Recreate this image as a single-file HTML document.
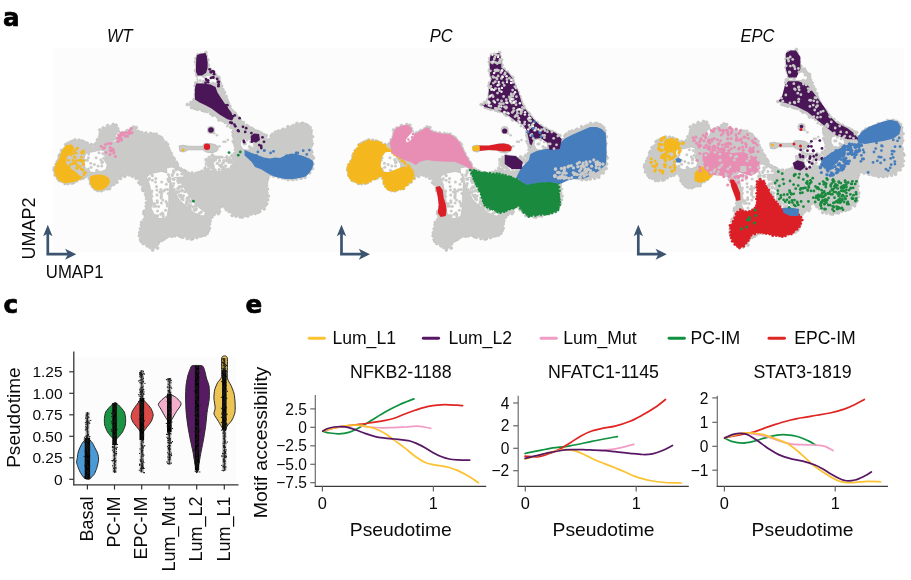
<!DOCTYPE html>
<html><head><meta charset="utf-8"><title>Figure</title>
<style>
html,body{margin:0;padding:0;background:#fff;}
body{width:911px;height:580px;overflow:hidden;}
svg{display:block;}
text{font-family:"Liberation Sans",Arial,sans-serif;fill:#0a0a0a;}
</style></head><body>
<svg width="911" height="580" viewBox="0 0 911 580">
<rect x="0" y="0" width="911" height="580" fill="#fff"/>
<rect x="53.3" y="48.1" width="850.6" height="203.8" fill="#fcfcfc"/>
<defs><g id="ub"><g fill="#cacac8" stroke="#b9b9b7" stroke-width="0.5"><circle cx="75" cy="139.9" r="1.5"/><circle cx="79" cy="140.2" r="1.5"/><circle cx="82.3" cy="141" r="1.5"/><circle cx="84.3" cy="142.3" r="1.5"/><circle cx="87.1" cy="143.2" r="1.5"/><circle cx="91.2" cy="144.6" r="1.5"/><circle cx="93.9" cy="148.6" r="1.5"/><circle cx="94.4" cy="144.9" r="1.5"/><circle cx="96.2" cy="143.3" r="1.5"/><circle cx="97.5" cy="139.7" r="1.5"/><circle cx="99.6" cy="136.4" r="1.5"/><circle cx="100.2" cy="133.5" r="1.5"/><circle cx="99.8" cy="129.9" r="1.5"/><circle cx="103.2" cy="127.9" r="1.5"/><circle cx="107.7" cy="125.6" r="1.5"/><circle cx="113.1" cy="124.5" r="1.5"/><circle cx="116.1" cy="125.2" r="1.5"/><circle cx="117.6" cy="128.5" r="1.5"/><circle cx="118.3" cy="131.2" r="1.5"/><circle cx="119.7" cy="134.1" r="1.5"/><circle cx="122.9" cy="132.7" r="1.5"/><circle cx="125.8" cy="132.1" r="1.5"/><circle cx="127.2" cy="130.6" r="1.5"/><circle cx="131" cy="128.8" r="1.5"/><circle cx="133.4" cy="126.9" r="1.5"/><circle cx="136.2" cy="127.6" r="1.5"/><circle cx="137.4" cy="131.4" r="1.5"/><circle cx="138.7" cy="131.7" r="1.5"/><circle cx="141.7" cy="132.6" r="1.5"/><circle cx="145.9" cy="133" r="1.5"/><circle cx="150.6" cy="133.5" r="1.5"/><circle cx="153.4" cy="134.2" r="1.5"/><circle cx="156.3" cy="134.2" r="1.5"/><circle cx="159.3" cy="136.6" r="1.5"/><circle cx="161.4" cy="137.7" r="1.5"/><circle cx="162.7" cy="139.8" r="1.5"/><circle cx="165.7" cy="142.4" r="1.5"/><circle cx="167.6" cy="144.4" r="1.5"/><circle cx="168.4" cy="148.1" r="1.5"/><circle cx="169.4" cy="150.8" r="1.5"/><circle cx="171.2" cy="153.4" r="1.5"/><circle cx="172.5" cy="157" r="1.5"/><circle cx="174.2" cy="158.8" r="1.5"/><circle cx="176.2" cy="162.3" r="1.5"/><circle cx="177.3" cy="164.2" r="1.5"/><circle cx="181.1" cy="169.1" r="1.5"/><circle cx="184.1" cy="170.6" r="1.5"/><circle cx="185.8" cy="171.5" r="1.5"/><circle cx="188.6" cy="173.3" r="1.5"/><circle cx="192.1" cy="173.1" r="1.5"/><circle cx="196.1" cy="173.3" r="1.5"/><circle cx="198.8" cy="172.6" r="1.5"/><circle cx="201.9" cy="171.2" r="1.5"/><circle cx="205.1" cy="168.4" r="1.5"/><circle cx="206.7" cy="165.4" r="1.5"/><circle cx="208.7" cy="162.3" r="1.5"/><circle cx="210.1" cy="159.2" r="1.5"/><circle cx="212.4" cy="155.3" r="1.5"/><circle cx="216.6" cy="157.4" r="1.5"/><circle cx="221" cy="158.6" r="1.5"/><circle cx="224.8" cy="158.8" r="1.5"/><circle cx="229.4" cy="158.2" r="1.5"/><circle cx="231.9" cy="155.4" r="1.5"/><circle cx="234.7" cy="153.6" r="1.5"/><circle cx="235.4" cy="149.8" r="1.5"/><circle cx="235.4" cy="146.3" r="1.5"/><circle cx="234.5" cy="143.6" r="1.5"/><circle cx="233.3" cy="141.3" r="1.5"/><circle cx="234" cy="137.5" r="1.5"/><circle cx="233.2" cy="135.3" r="1.5"/><circle cx="233.1" cy="132.3" r="1.5"/><circle cx="233.6" cy="131.1" r="1.5"/><circle cx="230.9" cy="127.3" r="1.5"/><circle cx="228.3" cy="123.7" r="1.5"/><circle cx="225.2" cy="122.2" r="1.5"/><circle cx="222.5" cy="120.4" r="1.5"/><circle cx="219" cy="119.9" r="1.5"/><circle cx="217.5" cy="116.9" r="1.5"/><circle cx="215.3" cy="114.9" r="1.5"/><circle cx="212.6" cy="115.2" r="1.5"/><circle cx="210.6" cy="113.4" r="1.5"/><circle cx="207" cy="111.6" r="1.5"/><circle cx="204.3" cy="110.9" r="1.5"/><circle cx="202.1" cy="110.2" r="1.5"/><circle cx="199" cy="108.7" r="1.5"/><circle cx="197" cy="109.2" r="1.5"/><circle cx="194.3" cy="108.2" r="1.5"/><circle cx="191.5" cy="107.4" r="1.5"/><circle cx="187.4" cy="104.5" r="1.5"/><circle cx="190.9" cy="102.4" r="1.5"/><circle cx="193.7" cy="101.5" r="1.5"/><circle cx="194.2" cy="99.3" r="1.5"/><circle cx="195.5" cy="96.1" r="1.5"/><circle cx="195.6" cy="94.1" r="1.5"/><circle cx="196" cy="89.5" r="1.5"/><circle cx="195.2" cy="85.8" r="1.5"/><circle cx="195.8" cy="82.9" r="1.5"/><circle cx="198.2" cy="79.6" r="1.5"/><circle cx="197" cy="75.6" r="1.5"/><circle cx="196.6" cy="73.4" r="1.5"/><circle cx="195.6" cy="70.6" r="1.5"/><circle cx="196.8" cy="68.1" r="1.5"/><circle cx="196.4" cy="65" r="1.5"/><circle cx="195.6" cy="61.9" r="1.5"/><circle cx="196" cy="58.4" r="1.5"/><circle cx="197.8" cy="54.9" r="1.5"/><circle cx="200.4" cy="54.4" r="1.5"/><circle cx="205.9" cy="52.5" r="1.5"/><circle cx="206.3" cy="55.9" r="1.5"/><circle cx="207.9" cy="59.8" r="1.5"/><circle cx="207" cy="62.6" r="1.5"/><circle cx="208.4" cy="65.2" r="1.5"/><circle cx="207.4" cy="67.9" r="1.5"/><circle cx="210.4" cy="69.2" r="1.5"/><circle cx="213.8" cy="72" r="1.5"/><circle cx="215" cy="74.2" r="1.5"/><circle cx="216.6" cy="76.3" r="1.5"/><circle cx="219" cy="77.5" r="1.5"/><circle cx="219.1" cy="80.2" r="1.5"/><circle cx="220.1" cy="83.1" r="1.5"/><circle cx="221.6" cy="85.9" r="1.5"/><circle cx="222.9" cy="89.7" r="1.5"/><circle cx="224.5" cy="92.4" r="1.5"/><circle cx="226.1" cy="96.6" r="1.5"/><circle cx="226.7" cy="99.5" r="1.5"/><circle cx="227.6" cy="101.7" r="1.5"/><circle cx="228.4" cy="103.7" r="1.5"/><circle cx="229.8" cy="106.2" r="1.5"/><circle cx="230.7" cy="109.3" r="1.5"/><circle cx="232.5" cy="111" r="1.5"/><circle cx="235" cy="113.1" r="1.5"/><circle cx="236.1" cy="115" r="1.5"/><circle cx="238.1" cy="117.5" r="1.5"/><circle cx="240.4" cy="120.6" r="1.5"/><circle cx="243.4" cy="122.6" r="1.5"/><circle cx="247" cy="125.5" r="1.5"/><circle cx="249" cy="127.3" r="1.5"/><circle cx="251.8" cy="128.3" r="1.5"/><circle cx="253.6" cy="129.8" r="1.5"/><circle cx="256" cy="131" r="1.5"/><circle cx="258.5" cy="131.6" r="1.5"/><circle cx="261.2" cy="133.1" r="1.5"/><circle cx="263.7" cy="134.8" r="1.5"/><circle cx="266.2" cy="135.5" r="1.5"/><circle cx="268.2" cy="140" r="1.5"/><circle cx="271.2" cy="136.1" r="1.5"/><circle cx="272.5" cy="134.2" r="1.5"/><circle cx="275.4" cy="132.1" r="1.5"/><circle cx="278.4" cy="131" r="1.5"/><circle cx="282" cy="130.4" r="1.5"/><circle cx="283.4" cy="129.2" r="1.5"/><circle cx="287.9" cy="126.8" r="1.5"/><circle cx="291.8" cy="126.6" r="1.5"/><circle cx="293.8" cy="125.4" r="1.5"/><circle cx="297" cy="123.4" r="1.5"/><circle cx="301" cy="123.9" r="1.5"/><circle cx="302.8" cy="123.3" r="1.5"/><circle cx="305.7" cy="124.4" r="1.5"/><circle cx="307.6" cy="125.6" r="1.5"/><circle cx="310" cy="127.5" r="1.5"/><circle cx="311.2" cy="130.6" r="1.5"/><circle cx="310.9" cy="133.4" r="1.5"/><circle cx="312.5" cy="136.7" r="1.5"/><circle cx="311.3" cy="140.5" r="1.5"/><circle cx="312.2" cy="143.5" r="1.5"/><circle cx="311.1" cy="146" r="1.5"/><circle cx="311" cy="150.4" r="1.5"/><circle cx="311.7" cy="152.2" r="1.5"/><circle cx="312.4" cy="156.3" r="1.5"/><circle cx="313.4" cy="158" r="1.5"/><circle cx="312.9" cy="164" r="1.5"/><circle cx="312.4" cy="168.4" r="1.5"/><circle cx="310.1" cy="169.8" r="1.5"/><circle cx="309.6" cy="172.8" r="1.5"/><circle cx="305" cy="177.2" r="1.5"/><circle cx="301" cy="178.2" r="1.5"/><circle cx="296.5" cy="178.9" r="1.5"/><circle cx="292.9" cy="179.5" r="1.5"/><circle cx="290.7" cy="178.6" r="1.5"/><circle cx="288.1" cy="179.6" r="1.5"/><circle cx="284.8" cy="178.3" r="1.5"/><circle cx="282.2" cy="177.9" r="1.5"/><circle cx="278.5" cy="177.2" r="1.5"/><circle cx="273.6" cy="176" r="1.5"/><circle cx="270.4" cy="174.7" r="1.5"/><circle cx="267.9" cy="177.7" r="1.5"/><circle cx="267.1" cy="180.1" r="1.5"/><circle cx="266.5" cy="182.5" r="1.5"/><circle cx="266.5" cy="185.4" r="1.5"/><circle cx="267.5" cy="189.1" r="1.5"/><circle cx="266.9" cy="192.8" r="1.5"/><circle cx="268.3" cy="196" r="1.5"/><circle cx="267.7" cy="199.8" r="1.5"/><circle cx="266.7" cy="203.7" r="1.5"/><circle cx="265.1" cy="205.6" r="1.5"/><circle cx="264.1" cy="208.8" r="1.5"/><circle cx="259.7" cy="211.3" r="1.5"/><circle cx="258" cy="212.4" r="1.5"/><circle cx="255.1" cy="213.4" r="1.5"/><circle cx="251.2" cy="214" r="1.5"/><circle cx="247.9" cy="215.9" r="1.5"/><circle cx="245.4" cy="215.5" r="1.5"/><circle cx="242.3" cy="217" r="1.5"/><circle cx="240.2" cy="216.8" r="1.5"/><circle cx="236" cy="216.1" r="1.5"/><circle cx="232.2" cy="215.4" r="1.5"/><circle cx="229.2" cy="211.6" r="1.5"/><circle cx="226.4" cy="209.6" r="1.5"/><circle cx="224.8" cy="207.1" r="1.5"/><circle cx="221.7" cy="205.8" r="1.5"/><circle cx="220.4" cy="206.8" r="1.5"/><circle cx="219.4" cy="211.5" r="1.5"/><circle cx="218.3" cy="213.6" r="1.5"/><circle cx="214" cy="214.6" r="1.5"/><circle cx="211.8" cy="217" r="1.5"/><circle cx="210" cy="221" r="1.5"/><circle cx="209.5" cy="224.1" r="1.5"/><circle cx="209.4" cy="228.2" r="1.5"/><circle cx="208.3" cy="230.8" r="1.5"/><circle cx="207.1" cy="233.3" r="1.5"/><circle cx="204.8" cy="235.1" r="1.5"/><circle cx="202.1" cy="235.6" r="1.5"/><circle cx="200.2" cy="236" r="1.5"/><circle cx="196.9" cy="237.5" r="1.5"/><circle cx="192.8" cy="238.6" r="1.5"/><circle cx="191.2" cy="239" r="1.5"/><circle cx="187.3" cy="238.5" r="1.5"/><circle cx="182.7" cy="237.3" r="1.5"/><circle cx="180.4" cy="236.4" r="1.5"/><circle cx="178" cy="234.9" r="1.5"/><circle cx="174.7" cy="235.8" r="1.5"/><circle cx="171.9" cy="236.2" r="1.5"/><circle cx="168.7" cy="236.1" r="1.5"/><circle cx="166.1" cy="237.6" r="1.5"/><circle cx="163.7" cy="239.3" r="1.5"/><circle cx="161.4" cy="240.5" r="1.5"/><circle cx="158.6" cy="242" r="1.5"/><circle cx="157.7" cy="243.9" r="1.5"/><circle cx="157.5" cy="248" r="1.5"/><circle cx="152.6" cy="249.9" r="1.5"/><circle cx="149.9" cy="247.3" r="1.5"/><circle cx="147.1" cy="245.7" r="1.5"/><circle cx="143.1" cy="243.5" r="1.5"/><circle cx="141.3" cy="241.2" r="1.5"/><circle cx="140.5" cy="239.6" r="1.5"/><circle cx="139.4" cy="235.7" r="1.5"/><circle cx="139.7" cy="232.5" r="1.5"/><circle cx="140.5" cy="228.8" r="1.5"/><circle cx="141.4" cy="225" r="1.5"/><circle cx="141.7" cy="222.3" r="1.5"/><circle cx="144.1" cy="219.5" r="1.5"/><circle cx="145.3" cy="216.1" r="1.5"/><circle cx="143.8" cy="213.6" r="1.5"/><circle cx="144.1" cy="211.3" r="1.5"/><circle cx="146.3" cy="206.3" r="1.5"/><circle cx="146.4" cy="202.9" r="1.5"/><circle cx="146.6" cy="198.7" r="1.5"/><circle cx="146.4" cy="195.9" r="1.5"/><circle cx="145.5" cy="194.1" r="1.5"/><circle cx="143" cy="190.4" r="1.5"/><circle cx="142.8" cy="188.3" r="1.5"/><circle cx="140.8" cy="184.3" r="1.5"/><circle cx="138.9" cy="182.4" r="1.5"/><circle cx="136.1" cy="178.2" r="1.5"/><circle cx="132.5" cy="176.3" r="1.5"/><circle cx="129.4" cy="174.9" r="1.5"/><circle cx="124.8" cy="176.3" r="1.5"/><circle cx="120.5" cy="178.4" r="1.5"/><circle cx="116.9" cy="182.2" r="1.5"/><circle cx="113.8" cy="184.3" r="1.5"/><circle cx="109.5" cy="188.6" r="1.5"/><circle cx="106.9" cy="188.7" r="1.5"/><circle cx="103.7" cy="189.4" r="1.5"/><circle cx="101.3" cy="190.7" r="1.5"/><circle cx="98" cy="190.6" r="1.5"/><circle cx="96.5" cy="189.6" r="1.5"/><circle cx="94.6" cy="188.8" r="1.5"/><circle cx="92.5" cy="186.4" r="1.5"/><circle cx="90.6" cy="183.8" r="1.5"/><circle cx="90.6" cy="181.3" r="1.5"/><circle cx="89.2" cy="178.3" r="1.5"/><circle cx="88.7" cy="175" r="1.5"/><circle cx="85.8" cy="176.2" r="1.5"/><circle cx="83.3" cy="178.1" r="1.5"/><circle cx="80.5" cy="178.7" r="1.5"/><circle cx="76.7" cy="180.7" r="1.5"/><circle cx="73.7" cy="182.6" r="1.5"/><circle cx="71.8" cy="183.1" r="1.5"/><circle cx="68" cy="183.6" r="1.5"/><circle cx="65" cy="183.4" r="1.5"/><circle cx="61.9" cy="181.2" r="1.5"/><circle cx="59.2" cy="180.4" r="1.5"/><circle cx="57.5" cy="178.3" r="1.5"/><circle cx="55" cy="175" r="1.5"/><circle cx="55.3" cy="172.4" r="1.5"/><circle cx="54" cy="169.9" r="1.5"/><circle cx="54.3" cy="167.8" r="1.5"/><circle cx="56.1" cy="164.3" r="1.5"/><circle cx="57.3" cy="161.6" r="1.5"/><circle cx="58.9" cy="158.9" r="1.5"/><circle cx="59.2" cy="155.8" r="1.5"/><circle cx="60.2" cy="154.3" r="1.5"/><circle cx="61.6" cy="150.5" r="1.5"/><circle cx="64.3" cy="148.9" r="1.5"/><circle cx="65.6" cy="144.7" r="1.5"/><circle cx="67.6" cy="143.4" r="1.5"/><circle cx="70.2" cy="142.2" r="1.5"/><circle cx="72.5" cy="141.3" r="1.5"/></g>
<polygon points="75.3,140.5 82.2,141.2 87.8,143.3 91.9,145.3 94,148.1 96,142.6 98.8,137.1 100.4,130.5 103.5,127.4 108.2,125.5 112.9,124.7 116,125.9 118.3,129 118,131.3 120,134 123,133 127.6,130.5 131,128.2 133,127.2 135.4,128.2 137.5,131 139.3,131.7 145.5,132.9 150,133.8 156.2,134.3 161.4,137.4 165.5,141.6 168.6,147.8 171.7,154 174.8,159.2 178,164.3 181,168.5 186.2,171.6 191.4,173.7 196.6,173.7 201.8,171.6 205.9,168.5 208,162 212.1,156 216,157 220.4,158.1 225,159 230,158 235.2,154.1 236.2,146.9 234.1,140.7 233,130.3 229,124.3 222,120.9 215.2,115.7 204.8,110.5 191,107 187.8,104.5 194.5,101.9 194.9,93.3 195.6,86.2 196.3,83.4 198,79 196.5,75.6 196,65 196.3,57.9 197,55.1 200.6,53.7 205.5,53 206.9,56.5 207.6,62.1 207.6,67.8 211,70 215,73.5 218.5,78 220.5,83 223.5,89 226,96 228.4,104.5 233,111 238,117 241,120.5 246.6,125.5 253.4,129.8 261.2,132.4 265.5,135.9 268.1,139.3 270.7,136.7 273.1,134.3 279.1,130.7 284,128.9 291.2,125.9 297.2,123.4 303.3,123.4 308.1,125.9 311.1,130.7 312.3,136.7 311.7,142.7 311.7,150 312.9,158.4 313.5,163.3 312.3,168.1 309.3,172.9 305.7,176.5 300.8,177.7 293.6,178.9 285.2,178.9 279.1,177.7 274.3,176.5 270.7,175 267.5,178 266.7,183.3 267.1,189 267.6,196.6 266.7,203.2 263.8,208 260,210.8 255.3,213.6 248.6,215.5 243,216.5 236.3,216.5 232.5,215.5 229.7,211.7 226.8,208.9 224,207 222.1,205.1 220.7,207 220.2,211.7 218.3,213.6 214.5,214.6 212.6,217.4 210.7,221.2 209.7,228.6 206.7,233 202.3,235.9 196.5,237.3 190.6,238.8 183.3,237.3 177.5,234.4 171.6,235.9 164.3,238.8 158.4,241.7 157,247.6 152.6,249.8 146.7,246.1 140.9,241.7 139.4,235.9 140.1,228.6 142.3,222.7 145.2,216.9 143.8,211 146,206.6 146.7,199.3 143.8,190.5 139.4,181.7 136.6,178.1 133.1,176.3 128.7,175.5 124.3,176.3 119.9,178.1 117.3,181.6 113.8,185.1 110.3,188.6 107,189 101.6,190.2 96,190.2 91.9,186.7 89.8,181.2 89.1,175.7 86.4,175.7 80.9,179.1 76.7,181.2 71.2,182.6 64.3,183.3 58.8,180.5 55.3,175.7 54,170.2 55.3,164.7 58.8,159.1 61.6,150.9 65.7,145.3" fill="#cacac8"/>
<polygon points="179,146 183,145.2 188.3,146.2 195,146.4 202.8,146.2 204,143.8 210,143.6 215,144.5 218.3,147 217,151 212,153 206,152 202.8,149.8 195,149.8 188.3,149.8 184,152 180,151.4" fill="#cacac8" stroke="#b9b9b7" stroke-width="0.8" stroke-linejoin="round"/>
<circle cx="211" cy="130" r="4" fill="#cacac8"/>
<polygon points="86.4,153 94.7,151.5 100.2,150 104.3,151 105.7,156.4 104.3,160.5 107.1,164.7 106,169.5 101,171.5 94,172.5 88,171.5 85,167 84,160 85,155.5" fill="#fdfdfd" stroke="#b9b9b7" stroke-width="0.6"/>
<polygon points="112,140 114.5,136.5 117.5,133 119,131.5 120.5,134.5 119,138 116,141 113,142.5" fill="#fdfdfd" stroke="#b9b9b7" stroke-width="0.6"/>
<polygon points="149.6,174.4 154,172.9 161.4,171.5 167.2,172.9 170.1,178.8 169.4,187.6 168.7,196.4 168.7,206.6 167.2,215.4 164.3,218.3 158.4,218.3 154,213.9 151.1,208.1 152.6,202.2 151.1,193.4 149.6,184.6 146.7,177.3" fill="#fdfdfd" stroke="#b9b9b7" stroke-width="0.6"/>
<polygon points="170.1,178.8 173.1,189 178.9,199.3 186.2,206.6 193.6,212.5 200.9,215.4 204,216 205.3,212.5 199.4,208.1 193.6,202.2 187.7,193.4 181.9,184.6 176,177.3" fill="#fdfdfd" stroke="#b9b9b7" stroke-width="0.6"/>
<polygon points="166.5,168 172,167 178,170 183,173 184,177 176,177.3 170.1,178.8 167,174" fill="#fdfdfd" stroke="#b9b9b7" stroke-width="0.6"/>
<polygon points="197,76 205,76 212,75 217,80 216,83 208,83.5 198,83" fill="#fdfdfd" stroke="#b9b9b7" stroke-width="0.6"/>
<polygon points="241,140 247,138.5 253,141 254,147 249,150 243,149.5 240.5,145" fill="#fdfdfd" stroke="#b9b9b7" stroke-width="0.6"/>
<polygon points="205,162 210,156.5 222,158 232,157 235,163 231,169 222,171.5 212,171.5 206,168" fill="#fdfdfd" stroke="#b9b9b7" stroke-width="0.6"/>
<g fill="#cacac8"><circle cx="87.4" cy="160.2" r="1.5"/><circle cx="101.8" cy="165.9" r="1.5"/><circle cx="100.9" cy="159.8" r="1.5"/><circle cx="102.5" cy="162" r="1.5"/><circle cx="85.9" cy="160.3" r="1.5"/><circle cx="91.1" cy="167.3" r="1.5"/><circle cx="88.7" cy="154" r="1.5"/><circle cx="88.4" cy="157.8" r="1.5"/><circle cx="98.5" cy="171.7" r="1.5"/><circle cx="88.9" cy="171.5" r="1.5"/><circle cx="96.8" cy="170.3" r="1.5"/><circle cx="102.9" cy="153.6" r="1.5"/><circle cx="99" cy="152.8" r="1.5"/><circle cx="101.9" cy="162.7" r="1.5"/><circle cx="88.4" cy="168.9" r="1.5"/><circle cx="105.1" cy="155.3" r="1.5"/><circle cx="94.4" cy="164.4" r="1.5"/><circle cx="96.8" cy="171.8" r="1.5"/><circle cx="98.1" cy="166.1" r="1.5"/><circle cx="101.9" cy="161.4" r="1.5"/><circle cx="90.7" cy="163.3" r="1.5"/><circle cx="96.2" cy="157.7" r="1.5"/><circle cx="103.7" cy="158.2" r="1.5"/></g>
<g fill="#cacac8"><circle cx="116" cy="138.8" r="1.5"/><circle cx="114.5" cy="139.1" r="1.5"/><circle cx="112.8" cy="140" r="1.5"/><circle cx="115.1" cy="136.7" r="1.5"/></g>
<g fill="#cacac8"><circle cx="160.9" cy="189.5" r="1.5"/><circle cx="161.1" cy="198" r="1.5"/><circle cx="161.2" cy="195.8" r="1.5"/><circle cx="167.3" cy="205.9" r="1.5"/><circle cx="155.5" cy="182.1" r="1.5"/><circle cx="162.8" cy="200" r="1.5"/><circle cx="157" cy="194.9" r="1.5"/><circle cx="151.9" cy="196.3" r="1.5"/><circle cx="161.4" cy="202.9" r="1.5"/><circle cx="152.5" cy="175.8" r="1.5"/><circle cx="154.5" cy="203.7" r="1.5"/><circle cx="158.6" cy="206.5" r="1.5"/><circle cx="156.8" cy="190.1" r="1.5"/><circle cx="167.9" cy="179.3" r="1.5"/><circle cx="161.5" cy="191.8" r="1.5"/><circle cx="159.8" cy="192.1" r="1.5"/><circle cx="162.3" cy="213.1" r="1.5"/><circle cx="166" cy="201.4" r="1.5"/><circle cx="157.7" cy="215.8" r="1.5"/><circle cx="157.2" cy="200.8" r="1.5"/><circle cx="167" cy="203.5" r="1.5"/><circle cx="155.8" cy="206.3" r="1.5"/><circle cx="160.7" cy="214.3" r="1.5"/><circle cx="161.3" cy="196.5" r="1.5"/><circle cx="156" cy="215.4" r="1.5"/><circle cx="168.8" cy="179.6" r="1.5"/><circle cx="167.4" cy="189.5" r="1.5"/><circle cx="152.7" cy="203.5" r="1.5"/><circle cx="168.7" cy="181.5" r="1.5"/><circle cx="157.2" cy="202.5" r="1.5"/><circle cx="151.9" cy="190.9" r="1.5"/><circle cx="152.1" cy="175.3" r="1.5"/><circle cx="155.8" cy="178.5" r="1.5"/><circle cx="149.5" cy="178.5" r="1.5"/><circle cx="156.5" cy="186.4" r="1.5"/><circle cx="163.7" cy="190.9" r="1.5"/><circle cx="152.4" cy="180.3" r="1.5"/><circle cx="153.7" cy="206.3" r="1.5"/><circle cx="151.4" cy="193.3" r="1.5"/><circle cx="165.6" cy="210.3" r="1.5"/><circle cx="157.5" cy="210.9" r="1.5"/><circle cx="161.7" cy="182.1" r="1.5"/><circle cx="148.9" cy="179.5" r="1.5"/><circle cx="165.2" cy="189.7" r="1.5"/><circle cx="168.2" cy="193.5" r="1.5"/><circle cx="163.1" cy="214.6" r="1.5"/><circle cx="163.2" cy="216.4" r="1.5"/><circle cx="161.6" cy="193.7" r="1.5"/><circle cx="166.3" cy="184.3" r="1.5"/></g>
<g fill="#cacac8"><circle cx="195.4" cy="205.7" r="1.5"/><circle cx="177.7" cy="180.3" r="1.5"/><circle cx="173" cy="185.9" r="1.5"/><circle cx="178" cy="181.5" r="1.5"/><circle cx="176.6" cy="193.1" r="1.5"/><circle cx="195.9" cy="205.3" r="1.5"/><circle cx="190.3" cy="209.3" r="1.5"/><circle cx="178.9" cy="191.6" r="1.5"/><circle cx="178.9" cy="188.2" r="1.5"/><circle cx="201.3" cy="211.9" r="1.5"/><circle cx="188.7" cy="204.7" r="1.5"/><circle cx="180.5" cy="195.9" r="1.5"/><circle cx="179" cy="181.2" r="1.5"/><circle cx="189.9" cy="207.2" r="1.5"/><circle cx="189.5" cy="200.4" r="1.5"/><circle cx="190" cy="201.4" r="1.5"/><circle cx="178.2" cy="192.2" r="1.5"/><circle cx="190.5" cy="202.3" r="1.5"/><circle cx="183.5" cy="195.8" r="1.5"/><circle cx="181.7" cy="198.8" r="1.5"/><circle cx="194.2" cy="210.2" r="1.5"/><circle cx="176.5" cy="191.4" r="1.5"/><circle cx="182.3" cy="190.2" r="1.5"/><circle cx="195.6" cy="206.1" r="1.5"/><circle cx="181.3" cy="187.1" r="1.5"/><circle cx="181.8" cy="186.7" r="1.5"/><circle cx="186.3" cy="203.5" r="1.5"/><circle cx="174.1" cy="179.3" r="1.5"/><circle cx="196.5" cy="208.5" r="1.5"/><circle cx="179" cy="186.8" r="1.5"/><circle cx="181.5" cy="191.1" r="1.5"/><circle cx="181.1" cy="194.9" r="1.5"/><circle cx="187.1" cy="202.9" r="1.5"/><circle cx="177.6" cy="188.6" r="1.5"/><circle cx="180.6" cy="186.4" r="1.5"/><circle cx="191" cy="205.4" r="1.5"/><circle cx="186.8" cy="198.3" r="1.5"/><circle cx="173.2" cy="179.2" r="1.5"/><circle cx="174.4" cy="189.6" r="1.5"/><circle cx="178.7" cy="182.8" r="1.5"/><circle cx="182" cy="190.3" r="1.5"/><circle cx="199.1" cy="213.5" r="1.5"/><circle cx="178.6" cy="181.1" r="1.5"/><circle cx="185.4" cy="191.6" r="1.5"/><circle cx="180.6" cy="196.9" r="1.5"/><circle cx="183.1" cy="199.7" r="1.5"/><circle cx="184.7" cy="191.8" r="1.5"/><circle cx="200.7" cy="212.4" r="1.5"/><circle cx="195.9" cy="209.9" r="1.5"/><circle cx="185.2" cy="205.5" r="1.5"/><circle cx="187.2" cy="200.4" r="1.5"/><circle cx="186.5" cy="202" r="1.5"/><circle cx="193.2" cy="206.9" r="1.5"/><circle cx="182.4" cy="197.7" r="1.5"/><circle cx="173.6" cy="183.5" r="1.5"/><circle cx="188.6" cy="197.1" r="1.5"/><circle cx="188" cy="207.2" r="1.5"/><circle cx="194.2" cy="209.5" r="1.5"/><circle cx="191.8" cy="200.6" r="1.5"/><circle cx="188.4" cy="198.4" r="1.5"/><circle cx="179.1" cy="195.2" r="1.5"/></g>
<g fill="#cacac8"><circle cx="172.3" cy="175.4" r="1.5"/><circle cx="169.4" cy="177.6" r="1.5"/><circle cx="168.6" cy="174.7" r="1.5"/><circle cx="172.3" cy="174.6" r="1.5"/><circle cx="181.6" cy="173.9" r="1.5"/><circle cx="173.3" cy="170.8" r="1.5"/><circle cx="177.4" cy="174.4" r="1.5"/><circle cx="173.7" cy="172.5" r="1.5"/><circle cx="175.9" cy="170" r="1.5"/></g>
<g fill="#cacac8"><circle cx="214.6" cy="78" r="1.5"/><circle cx="212.8" cy="83.1" r="1.5"/><circle cx="203.2" cy="81.5" r="1.5"/><circle cx="203.7" cy="76.4" r="1.5"/><circle cx="204" cy="81.4" r="1.5"/><circle cx="200" cy="80.6" r="1.5"/><circle cx="204" cy="76.4" r="1.5"/></g>
<g fill="#cacac8"><circle cx="250.1" cy="148.9" r="1.5"/><circle cx="251.4" cy="147.8" r="1.5"/><circle cx="245.4" cy="143.7" r="1.5"/><circle cx="249.3" cy="146.4" r="1.5"/><circle cx="250.6" cy="141.7" r="1.5"/><circle cx="247" cy="140.1" r="1.5"/><circle cx="244.2" cy="144.1" r="1.5"/></g>
<g fill="#cacac8"><circle cx="212.4" cy="165.2" r="1.5"/><circle cx="219.5" cy="161.1" r="1.5"/><circle cx="227.6" cy="160.3" r="1.5"/><circle cx="222.8" cy="167.1" r="1.5"/><circle cx="232.2" cy="160.7" r="1.5"/><circle cx="214.4" cy="159.3" r="1.5"/><circle cx="222.7" cy="170.3" r="1.5"/><circle cx="227" cy="158.6" r="1.5"/><circle cx="216.2" cy="157.6" r="1.5"/><circle cx="209.8" cy="163.9" r="1.5"/><circle cx="209.6" cy="160.6" r="1.5"/><circle cx="212.3" cy="162.8" r="1.5"/><circle cx="230.7" cy="160" r="1.5"/><circle cx="223.4" cy="162.5" r="1.5"/><circle cx="213.7" cy="161" r="1.5"/><circle cx="228.4" cy="169.1" r="1.5"/><circle cx="227" cy="169.8" r="1.5"/><circle cx="226.9" cy="161" r="1.5"/><circle cx="212" cy="165" r="1.5"/><circle cx="223.3" cy="168.3" r="1.5"/></g>
<g fill="#cacac8"><circle cx="219.6" cy="165" r="1.6"/><circle cx="233.7" cy="163.5" r="1.6"/><circle cx="221.2" cy="165.4" r="1.6"/><circle cx="211.5" cy="164.2" r="1.6"/><circle cx="224.9" cy="168.7" r="1.6"/><circle cx="208.8" cy="160.9" r="1.6"/><circle cx="208.7" cy="169" r="1.6"/><circle cx="226.8" cy="156.7" r="1.6"/><circle cx="235.5" cy="171.4" r="1.6"/><circle cx="225.6" cy="165.8" r="1.6"/><circle cx="221.9" cy="157" r="1.6"/><circle cx="211.7" cy="159.9" r="1.6"/><circle cx="206.9" cy="163.4" r="1.6"/><circle cx="219.2" cy="169.5" r="1.6"/><circle cx="221.6" cy="166.2" r="1.6"/><circle cx="221" cy="166.6" r="1.6"/><circle cx="219.7" cy="160.5" r="1.6"/><circle cx="235.9" cy="171.9" r="1.6"/><circle cx="231.2" cy="167.3" r="1.6"/><circle cx="215.5" cy="159.7" r="1.6"/><circle cx="214.7" cy="157.1" r="1.6"/><circle cx="229" cy="162.4" r="1.6"/><circle cx="231.4" cy="162.2" r="1.6"/><circle cx="234.7" cy="169.6" r="1.6"/><circle cx="206" cy="159.4" r="1.6"/><circle cx="233.3" cy="163.5" r="1.6"/><circle cx="235.4" cy="162.4" r="1.6"/><circle cx="208.2" cy="166.1" r="1.6"/><circle cx="229.4" cy="160.3" r="1.6"/><circle cx="208.6" cy="161.3" r="1.6"/><circle cx="234.9" cy="168.1" r="1.6"/><circle cx="209.5" cy="159.9" r="1.6"/><circle cx="209" cy="157" r="1.6"/><circle cx="229.9" cy="158.8" r="1.6"/><circle cx="222.8" cy="163.2" r="1.6"/><circle cx="211.7" cy="167.7" r="1.6"/><circle cx="209.9" cy="166.3" r="1.6"/><circle cx="209.5" cy="162.7" r="1.6"/><circle cx="212.4" cy="160.3" r="1.6"/><circle cx="235.1" cy="168.9" r="1.6"/><circle cx="215.1" cy="170.2" r="1.6"/><circle cx="212.3" cy="162.3" r="1.6"/><circle cx="231.6" cy="166.3" r="1.6"/><circle cx="209" cy="171.8" r="1.6"/><circle cx="212.4" cy="160.1" r="1.6"/><circle cx="229.2" cy="161.3" r="1.6"/><circle cx="214.9" cy="157.2" r="1.6"/><circle cx="208.7" cy="165.3" r="1.6"/><circle cx="213.3" cy="165.6" r="1.6"/><circle cx="217.2" cy="163.3" r="1.6"/><circle cx="234.8" cy="163.7" r="1.6"/><circle cx="223.2" cy="169.9" r="1.6"/><circle cx="211.5" cy="158.5" r="1.6"/><circle cx="233.3" cy="169.1" r="1.6"/><circle cx="213.5" cy="159" r="1.6"/><circle cx="228.2" cy="171" r="1.6"/><circle cx="211.9" cy="171.2" r="1.6"/><circle cx="232.5" cy="165.7" r="1.6"/><circle cx="218.6" cy="157.7" r="1.6"/><circle cx="207.2" cy="171.4" r="1.6"/><circle cx="213.2" cy="167.3" r="1.6"/><circle cx="213.7" cy="169.2" r="1.6"/><circle cx="223.9" cy="160.7" r="1.6"/><circle cx="211.3" cy="167.5" r="1.6"/><circle cx="208.1" cy="159.7" r="1.6"/><circle cx="222.8" cy="169.6" r="1.6"/><circle cx="224.4" cy="160.5" r="1.6"/><circle cx="233.5" cy="159.3" r="1.6"/><circle cx="206.5" cy="160.3" r="1.6"/><circle cx="219.4" cy="157" r="1.6"/></g>
<g fill="#cacac8"><circle cx="223.5" cy="141.7" r="1.3"/><circle cx="227.3" cy="126.3" r="1.3"/><circle cx="214.2" cy="133.2" r="1.3"/><circle cx="219.5" cy="146.3" r="1.3"/><circle cx="227.8" cy="140" r="1.3"/><circle cx="225.2" cy="141.8" r="1.3"/><circle cx="216.9" cy="135.2" r="1.3"/><circle cx="217.2" cy="149.2" r="1.3"/></g></g></defs>
<g transform="translate(0 0)"><use href="#ub"/><polygon points="66,145 72,144.5 74,148 72,153 67,157 66,163 70,168 76,172 80,176 84,177 80.9,179.1 76.7,181.2 71.2,182.6 64.3,183.3 58.8,180.5 55.3,175.7 54,170.2 55.3,164.7 58.8,159.1 61.6,150.9" fill="#f4b81e"/>
<polygon points="90,176.5 94,175 100,174.5 105,175.5 109,178 110,182 108.4,185 105.7,188 101.6,190.3 96,190.3 92,187.5 89.8,182" fill="#f4b81e"/>
<g fill="#f4b81e"><circle cx="69.3" cy="166.7" r="1.4"/><circle cx="78.7" cy="160.4" r="1.4"/><circle cx="70.3" cy="169.8" r="1.4"/><circle cx="82.2" cy="161.4" r="1.4"/><circle cx="76.1" cy="153.1" r="1.4"/><circle cx="77.7" cy="148.1" r="1.4"/><circle cx="81.9" cy="153" r="1.4"/><circle cx="70.7" cy="147.3" r="1.4"/><circle cx="83.5" cy="164.5" r="1.4"/><circle cx="76" cy="149.5" r="1.4"/><circle cx="75.1" cy="162.6" r="1.4"/><circle cx="72.9" cy="160.5" r="1.4"/><circle cx="69.7" cy="147.1" r="1.4"/><circle cx="83.3" cy="153" r="1.4"/><circle cx="81.6" cy="152.3" r="1.4"/><circle cx="85.4" cy="172.8" r="1.4"/><circle cx="81.1" cy="168.9" r="1.4"/><circle cx="77.6" cy="167.9" r="1.4"/><circle cx="68.4" cy="160.3" r="1.4"/><circle cx="82.5" cy="152" r="1.4"/><circle cx="84.5" cy="172.6" r="1.4"/><circle cx="74.2" cy="157" r="1.4"/><circle cx="75" cy="157.6" r="1.4"/><circle cx="66.5" cy="148.8" r="1.4"/><circle cx="75.9" cy="160.7" r="1.4"/><circle cx="77" cy="168.4" r="1.4"/><circle cx="70.4" cy="164.3" r="1.4"/><circle cx="77.1" cy="164.7" r="1.4"/><circle cx="69.6" cy="151.1" r="1.4"/><circle cx="72.9" cy="163.9" r="1.4"/><circle cx="72.1" cy="149.1" r="1.4"/><circle cx="81.5" cy="157.2" r="1.4"/><circle cx="79.7" cy="166.3" r="1.4"/><circle cx="84" cy="174.7" r="1.4"/><circle cx="83.7" cy="160.7" r="1.4"/><circle cx="73.5" cy="153.4" r="1.4"/><circle cx="83.5" cy="150.9" r="1.4"/><circle cx="81.5" cy="160.5" r="1.4"/><circle cx="71.2" cy="154.7" r="1.4"/><circle cx="74.4" cy="151.1" r="1.4"/><circle cx="80.9" cy="160.4" r="1.4"/><circle cx="76.5" cy="167.9" r="1.4"/><circle cx="82.8" cy="169.9" r="1.4"/><circle cx="83.6" cy="164" r="1.4"/><circle cx="74.5" cy="163.4" r="1.4"/></g>
<g fill="#e88eb4"><circle cx="121.2" cy="138.7" r="1.5"/><circle cx="125.1" cy="136" r="1.5"/><circle cx="127.4" cy="136.2" r="1.5"/><circle cx="118.6" cy="135" r="1.5"/><circle cx="119.9" cy="138.3" r="1.5"/><circle cx="119.5" cy="136.5" r="1.5"/><circle cx="118.9" cy="141.1" r="1.5"/><circle cx="124.8" cy="133" r="1.5"/><circle cx="120.4" cy="134.9" r="1.5"/><circle cx="121" cy="135.1" r="1.5"/><circle cx="129.6" cy="131.7" r="1.5"/><circle cx="121" cy="133" r="1.5"/><circle cx="129.1" cy="132.6" r="1.5"/><circle cx="119.6" cy="136" r="1.5"/><circle cx="131.3" cy="128.4" r="1.5"/><circle cx="129.6" cy="130.4" r="1.5"/><circle cx="130.5" cy="132.7" r="1.5"/><circle cx="117.8" cy="141.5" r="1.5"/><circle cx="122.3" cy="135" r="1.5"/><circle cx="117.7" cy="138" r="1.5"/><circle cx="122.3" cy="133" r="1.5"/><circle cx="121.7" cy="140.1" r="1.5"/><circle cx="118.6" cy="137.9" r="1.5"/><circle cx="122.4" cy="134.2" r="1.5"/><circle cx="128" cy="133.1" r="1.5"/><circle cx="129.7" cy="132.2" r="1.5"/><circle cx="126.4" cy="132.7" r="1.5"/><circle cx="129" cy="133.7" r="1.5"/><circle cx="119.3" cy="135.5" r="1.5"/><circle cx="132" cy="132.7" r="1.5"/></g>
<g fill="#e88eb4"><circle cx="110.9" cy="143.4" r="1.5"/><circle cx="109.9" cy="154.6" r="1.5"/><circle cx="113.4" cy="149.7" r="1.5"/><circle cx="110.1" cy="147.5" r="1.5"/><circle cx="108.4" cy="143.6" r="1.5"/><circle cx="110.9" cy="151" r="1.5"/><circle cx="104.5" cy="147.7" r="1.5"/><circle cx="111.8" cy="148.7" r="1.5"/><circle cx="115.4" cy="156.6" r="1.5"/><circle cx="101.2" cy="146.3" r="1.5"/><circle cx="105.8" cy="152.6" r="1.5"/><circle cx="113.2" cy="150.4" r="1.5"/><circle cx="110.2" cy="150.6" r="1.5"/><circle cx="103.4" cy="148.3" r="1.5"/><circle cx="105.6" cy="144.4" r="1.5"/><circle cx="113.8" cy="152.9" r="1.5"/></g>
<polygon points="197,55.1 200.6,53.7 205.5,53 206.9,56.5 207.6,62.1 207.6,67.8 206.2,72.8 202,75.6 197.7,75.6 196,72 196,65 196.3,57.9" fill="#4a1658"/>
<polygon points="196.3,83.6 203.4,83.4 210.5,84.5 215.5,87 217.5,92.6 221,98 225.4,104.5 231.4,112.4 233.5,118.3 232,120.5 227.4,119.3 219.5,114.4 211.5,108.4 205,105 199.6,102.5 195,99.5 194.7,90.4 195.3,86.2" fill="#4a1658"/>
<g fill="#4a1658"><circle cx="209.6" cy="69.3" r="1.4"/><circle cx="217.2" cy="79" r="1.4"/><circle cx="211" cy="72.3" r="1.4"/><circle cx="218.1" cy="81.9" r="1.4"/><circle cx="213.8" cy="71.9" r="1.4"/><circle cx="213.4" cy="77.5" r="1.4"/><circle cx="212.8" cy="71.1" r="1.4"/><circle cx="218.9" cy="81.8" r="1.4"/><circle cx="218.4" cy="86.2" r="1.4"/><circle cx="218.6" cy="84.5" r="1.4"/><circle cx="214.1" cy="74.2" r="1.4"/><circle cx="210.9" cy="71.6" r="1.4"/></g>
<g fill="#4a1658"><circle cx="231.9" cy="123" r="1.4"/><circle cx="246.2" cy="128.2" r="1.4"/><circle cx="243" cy="126.8" r="1.4"/><circle cx="218.6" cy="103.9" r="1.4"/><circle cx="217.6" cy="101.2" r="1.4"/><circle cx="227.3" cy="105.2" r="1.4"/><circle cx="239.6" cy="118.2" r="1.4"/><circle cx="234.4" cy="124.6" r="1.4"/><circle cx="226.5" cy="107.8" r="1.4"/><circle cx="230.3" cy="122.5" r="1.4"/><circle cx="218.9" cy="102" r="1.4"/><circle cx="225.7" cy="112.3" r="1.4"/><circle cx="238" cy="130.5" r="1.4"/><circle cx="232.8" cy="116.3" r="1.4"/><circle cx="223.2" cy="112" r="1.4"/><circle cx="235.3" cy="126.3" r="1.4"/><circle cx="226.2" cy="105.3" r="1.4"/><circle cx="234.7" cy="115.4" r="1.4"/></g>
<g fill="#4a1658"><circle cx="206.7" cy="80.4" r="1.4"/><circle cx="210.9" cy="77.9" r="1.4"/><circle cx="208.1" cy="82.2" r="1.4"/><circle cx="212.5" cy="77.3" r="1.4"/><circle cx="208.1" cy="80.3" r="1.4"/><circle cx="205.6" cy="82.8" r="1.4"/><circle cx="206" cy="79.1" r="1.4"/></g>
<polygon points="250.7,136 254,133.4 259,134 260,140 256,142.7 251,141" fill="#4a1658"/>
<g fill="#4a1658"><circle cx="251.9" cy="141.7" r="1.4"/><circle cx="261.3" cy="148" r="1.4"/><circle cx="262.5" cy="137.3" r="1.4"/><circle cx="245.2" cy="131.9" r="1.4"/><circle cx="251.4" cy="133.1" r="1.4"/><circle cx="244.2" cy="142.2" r="1.4"/><circle cx="259.3" cy="145.1" r="1.4"/><circle cx="238.6" cy="131.2" r="1.4"/><circle cx="243.7" cy="141" r="1.4"/><circle cx="261.2" cy="146" r="1.4"/><circle cx="264" cy="141.8" r="1.4"/><circle cx="255.1" cy="135.8" r="1.4"/></g>
<circle cx="211" cy="130" r="2.8" fill="#4a1658"/>
<polygon points="244.5,150 251.7,153.1 257.9,155.2 264,157.5 270,158.5 275,157.5 280,158 285.2,155.4 291.2,153.6 297.2,154.2 303.3,156 309.3,158.4 313,161 313.5,164 312.3,168.1 309.3,172.9 305.7,176.5 300.8,177.7 293.6,178.9 285.2,178.9 279.1,177.7 274.3,176.5 270.7,175 267.1,172.9 261,169.3 255,166.9 251.7,162 244.5,155.2" fill="#467dbd"/>
<g fill="#467dbd"><circle cx="286.3" cy="156" r="1.4"/><circle cx="287.3" cy="156" r="1.4"/><circle cx="270.6" cy="152.9" r="1.4"/><circle cx="295.9" cy="154.7" r="1.4"/><circle cx="297.8" cy="152.9" r="1.4"/><circle cx="309.4" cy="150.1" r="1.4"/><circle cx="296.1" cy="153" r="1.4"/><circle cx="256.4" cy="155.4" r="1.4"/><circle cx="257.9" cy="151.9" r="1.4"/><circle cx="273.5" cy="151.3" r="1.4"/><circle cx="264.4" cy="150.6" r="1.4"/><circle cx="303.2" cy="150.7" r="1.4"/><circle cx="264.2" cy="150.6" r="1.4"/><circle cx="306.8" cy="154.4" r="1.4"/></g>
<circle cx="207" cy="146.7" r="3.2" fill="#dc1f26"/>
<g fill="#198a3e"><circle cx="229" cy="152.6" r="1.4"/><circle cx="240.3" cy="152" r="1.4"/><circle cx="238.3" cy="155.2" r="1.4"/><circle cx="193.4" cy="201.2" r="1.4"/></g>
<circle cx="183" cy="150" r="1.5" fill="#f4b81e"/></g>
<g transform="translate(293.7 0)"><use href="#ub"/><polygon points="75.3,140.5 82.2,141.2 87.8,143.3 91.9,145.3 95,149 98,152 92,152 88,157 87,166 90,172 96,172 103,169 110,166.5 116,167.5 119.5,172 119.9,178.1 117.3,181.6 113.8,185.1 110.3,188.6 107,189 101.6,190.2 96,190.2 91.9,186.7 89.8,181.2 89.1,175.7 86.4,175.7 80.9,179.1 76.7,181.2 71.2,182.6 64.3,183.3 58.8,180.5 55.3,175.7 54,170.2 55.3,164.7 58.8,159.1 61.6,150.9 65.7,145.3" fill="#f4b81e"/>
<g fill="#f4b81e"><circle cx="75.1" cy="140.6" r="1.4"/><circle cx="78.2" cy="141.4" r="1.4"/><circle cx="82.6" cy="141.8" r="1.4"/><circle cx="84.7" cy="141.9" r="1.4"/><circle cx="87.3" cy="142.9" r="1.4"/><circle cx="91.3" cy="145.5" r="1.4"/><circle cx="94.8" cy="149.4" r="1.4"/><circle cx="97.4" cy="150.7" r="1.4"/><circle cx="98.8" cy="152.5" r="1.4"/><circle cx="100.7" cy="154.7" r="1.4"/><circle cx="103" cy="156" r="1.4"/><circle cx="106" cy="158.2" r="1.4"/><circle cx="108.1" cy="160.7" r="1.4"/><circle cx="109.9" cy="161.6" r="1.4"/><circle cx="111.4" cy="163.5" r="1.4"/><circle cx="114.2" cy="165.7" r="1.4"/><circle cx="115.8" cy="166.9" r="1.4"/><circle cx="117.6" cy="169.6" r="1.4"/><circle cx="119" cy="171.7" r="1.4"/><circle cx="119.5" cy="174.9" r="1.4"/><circle cx="119.9" cy="178.2" r="1.4"/><circle cx="117.7" cy="181.4" r="1.4"/><circle cx="113.3" cy="184.9" r="1.4"/><circle cx="110" cy="188.7" r="1.4"/><circle cx="107" cy="188.8" r="1.4"/><circle cx="103.8" cy="189.9" r="1.4"/><circle cx="101.7" cy="190.3" r="1.4"/><circle cx="99" cy="190.6" r="1.4"/><circle cx="95.4" cy="189.8" r="1.4"/><circle cx="93.9" cy="188.7" r="1.4"/><circle cx="91.9" cy="186.7" r="1.4"/><circle cx="90.6" cy="183.6" r="1.4"/><circle cx="90.2" cy="181.8" r="1.4"/><circle cx="89.4" cy="178.4" r="1.4"/><circle cx="88.7" cy="175.8" r="1.4"/><circle cx="86.1" cy="175.9" r="1.4"/><circle cx="83.4" cy="177.4" r="1.4"/><circle cx="81.3" cy="178.9" r="1.4"/><circle cx="76.7" cy="181" r="1.4"/><circle cx="73.9" cy="182.3" r="1.4"/><circle cx="71.2" cy="183.2" r="1.4"/><circle cx="67.6" cy="182.9" r="1.4"/><circle cx="64.5" cy="183.3" r="1.4"/><circle cx="61.8" cy="181.6" r="1.4"/><circle cx="58.2" cy="180.4" r="1.4"/><circle cx="56.5" cy="177.8" r="1.4"/><circle cx="55.4" cy="175.9" r="1.4"/><circle cx="55.1" cy="173.2" r="1.4"/><circle cx="54.1" cy="170" r="1.4"/><circle cx="54.6" cy="167.2" r="1.4"/><circle cx="54.8" cy="164.7" r="1.4"/><circle cx="57.2" cy="161.7" r="1.4"/><circle cx="59.1" cy="159.1" r="1.4"/><circle cx="59.5" cy="156.8" r="1.4"/><circle cx="60.1" cy="153.4" r="1.4"/><circle cx="61.4" cy="151.1" r="1.4"/><circle cx="63.4" cy="148.7" r="1.4"/><circle cx="65.2" cy="145.2" r="1.4"/><circle cx="68.1" cy="144.4" r="1.4"/><circle cx="70.2" cy="142.5" r="1.4"/><circle cx="73.2" cy="142" r="1.4"/></g>
<polygon points="96,142.6 98.8,137.1 100.4,130.5 103.5,127.4 108.2,125.5 112.9,124.7 116,125.9 118.3,129 118,131.3 120,134 123,133 127.6,130.5 131,128.2 133,127.2 135.4,128.2 137.5,131 139.3,131.7 145.5,132.9 150,133.8 156.2,134.3 161.4,137.4 165.5,141.6 168.6,147.8 171.7,154 174.8,159.2 178,164.3 179.7,170.3 169.4,165.2 160.8,161.7 152.2,161.7 140.1,160.9 133.2,160 126.3,161.7 122,165 117,162 110,160 104,157 98,153" fill="#e88eb4"/>
<polygon points="112,140 114.5,136.5 117.5,133 119,131.5 120.5,134.5 119,138 116,141 113,142.5" fill="#fdfdfd"/>
<g fill="#e88eb4"><circle cx="114.7" cy="139.6" r="1.3"/><circle cx="119.2" cy="134.1" r="1.3"/><circle cx="118.4" cy="137.4" r="1.3"/></g>
<polygon points="185,145.5 195,145.5 203,144 210,143.6 215,144.5 218.3,147 217,151 210,151.5 203,150.5 195,150 186,151" fill="#dc1f26"/>
<polygon points="178.5,147 183,145.2 186,146 186,150 183,151.2 178.5,150.5" fill="#f4b81e"/>
<polygon points="177,170 185,172 196,173.5 206,174.5 212,175.7 222.7,178.8 228,182 233.6,185 242.9,182.7 255.3,181.9 264.6,183.5 265.4,191.2 266.2,202.1 264.6,209.9 258.4,213 247.5,214.5 235.1,216.1 230.5,213 225.7,205.7 219.5,208.8 213.3,210.4 207,212.7 199.3,209.6 191.5,205.7 189,201 187,194 184,186 180,179" fill="#198a3e"/>
<g fill="#198a3e"><circle cx="176.5" cy="170.1" r="1.4"/><circle cx="180.3" cy="170.5" r="1.4"/><circle cx="182.4" cy="171.2" r="1.4"/><circle cx="185.3" cy="172.2" r="1.4"/><circle cx="187.9" cy="172.9" r="1.4"/><circle cx="190.7" cy="172.6" r="1.4"/><circle cx="193.1" cy="173.3" r="1.4"/><circle cx="196.2" cy="173.2" r="1.4"/><circle cx="199.7" cy="173.8" r="1.4"/><circle cx="203" cy="173.7" r="1.4"/><circle cx="205.8" cy="173.9" r="1.4"/><circle cx="208.9" cy="174.8" r="1.4"/><circle cx="211.8" cy="175.4" r="1.4"/><circle cx="215.1" cy="176.6" r="1.4"/><circle cx="217.2" cy="177.2" r="1.4"/><circle cx="219.6" cy="178.6" r="1.4"/><circle cx="223.2" cy="178.9" r="1.4"/><circle cx="224.9" cy="180.9" r="1.4"/><circle cx="227.7" cy="181.5" r="1.4"/><circle cx="230.7" cy="183.4" r="1.4"/><circle cx="234" cy="184.6" r="1.4"/><circle cx="236.2" cy="184.2" r="1.4"/><circle cx="239.2" cy="183.7" r="1.4"/><circle cx="242.9" cy="183.1" r="1.4"/><circle cx="246.5" cy="182.2" r="1.4"/><circle cx="249.4" cy="182.3" r="1.4"/><circle cx="252.7" cy="181.6" r="1.4"/><circle cx="255.2" cy="182.5" r="1.4"/><circle cx="257.9" cy="182.2" r="1.4"/><circle cx="261.3" cy="182.8" r="1.4"/><circle cx="265.2" cy="183.1" r="1.4"/><circle cx="265.4" cy="187.1" r="1.4"/><circle cx="265.8" cy="190.8" r="1.4"/><circle cx="265.1" cy="194.5" r="1.4"/><circle cx="265.2" cy="196.8" r="1.4"/><circle cx="265.6" cy="199.5" r="1.4"/><circle cx="266" cy="202.2" r="1.4"/><circle cx="265.9" cy="205" r="1.4"/><circle cx="264.7" cy="207.7" r="1.4"/><circle cx="264.3" cy="210" r="1.4"/><circle cx="261.9" cy="211.8" r="1.4"/><circle cx="258.4" cy="213" r="1.4"/><circle cx="255.3" cy="213.8" r="1.4"/><circle cx="253.1" cy="214.1" r="1.4"/><circle cx="250.8" cy="214.4" r="1.4"/><circle cx="247.3" cy="214.5" r="1.4"/><circle cx="244" cy="214.6" r="1.4"/><circle cx="241.7" cy="215.5" r="1.4"/><circle cx="237.8" cy="215.7" r="1.4"/><circle cx="235" cy="216.5" r="1.4"/><circle cx="233.2" cy="214.4" r="1.4"/><circle cx="230" cy="212.6" r="1.4"/><circle cx="229" cy="210.4" r="1.4"/><circle cx="226.7" cy="208.4" r="1.4"/><circle cx="225.8" cy="205.5" r="1.4"/><circle cx="222" cy="207.1" r="1.4"/><circle cx="219.6" cy="208.3" r="1.4"/><circle cx="215.9" cy="209" r="1.4"/><circle cx="212.7" cy="210.5" r="1.4"/><circle cx="210.4" cy="211.7" r="1.4"/><circle cx="206.8" cy="212.5" r="1.4"/><circle cx="203.8" cy="212" r="1.4"/><circle cx="201.9" cy="210.3" r="1.4"/><circle cx="198.8" cy="209.3" r="1.4"/><circle cx="196.6" cy="208.5" r="1.4"/><circle cx="193.6" cy="207.3" r="1.4"/><circle cx="191.2" cy="205.3" r="1.4"/><circle cx="190.4" cy="202.9" r="1.4"/><circle cx="189.6" cy="201.2" r="1.4"/><circle cx="188.3" cy="197.6" r="1.4"/><circle cx="187.5" cy="194.4" r="1.4"/><circle cx="186.1" cy="190.9" r="1.4"/><circle cx="185.2" cy="189.3" r="1.4"/><circle cx="183.7" cy="186.2" r="1.4"/><circle cx="182.2" cy="184.1" r="1.4"/><circle cx="181.4" cy="181.4" r="1.4"/><circle cx="180.1" cy="179" r="1.4"/><circle cx="179.2" cy="176.1" r="1.4"/><circle cx="177.8" cy="173.4" r="1.4"/></g>
<polygon points="222.7,177.3 227.3,168 235.1,160.2 236.7,154 242.9,150.9 250.6,149.3 261.5,147.8 271.2,138.5 279.1,134.5 288.3,130.6 296.3,127 303,127 308,129 312,133 312.8,145 312.8,155.5 312,164.8 305,171 297.2,175.7 289.5,178.8 281.7,178.8 273.9,180.4 267.7,183.5 264.6,183.5 255.3,181.9 242.9,182.7 233.6,185 228,182" fill="#467dbd"/>
<g fill="#cacac8"><circle cx="266.8" cy="178.1" r="1.6"/><circle cx="288.6" cy="173.2" r="1.6"/><circle cx="287.3" cy="166.4" r="1.6"/><circle cx="296.8" cy="170.7" r="1.6"/><circle cx="299.4" cy="172.6" r="1.6"/><circle cx="302.5" cy="167.7" r="1.6"/><circle cx="296.3" cy="161.7" r="1.6"/><circle cx="292.7" cy="171.7" r="1.6"/><circle cx="261.2" cy="175.3" r="1.6"/><circle cx="302.6" cy="162.7" r="1.6"/><circle cx="296.5" cy="174.1" r="1.6"/><circle cx="264.6" cy="172.7" r="1.6"/><circle cx="264.6" cy="178.1" r="1.6"/><circle cx="290.9" cy="171.4" r="1.6"/><circle cx="267.7" cy="177.5" r="1.6"/><circle cx="302.9" cy="164.6" r="1.6"/><circle cx="265.7" cy="172.7" r="1.6"/><circle cx="279.6" cy="172.6" r="1.6"/><circle cx="284.1" cy="166.7" r="1.6"/><circle cx="282.3" cy="174" r="1.6"/><circle cx="280.6" cy="174.4" r="1.6"/><circle cx="286.6" cy="177.4" r="1.6"/><circle cx="292.7" cy="165.1" r="1.6"/><circle cx="263.8" cy="172.5" r="1.6"/><circle cx="264.8" cy="177.6" r="1.6"/><circle cx="292.7" cy="174.5" r="1.6"/><circle cx="290.3" cy="167.2" r="1.6"/><circle cx="270.8" cy="167.6" r="1.6"/><circle cx="296.9" cy="173" r="1.6"/><circle cx="279.8" cy="167.9" r="1.6"/><circle cx="309.3" cy="164.1" r="1.6"/><circle cx="269.2" cy="173.1" r="1.6"/><circle cx="272.7" cy="177.7" r="1.6"/><circle cx="275.3" cy="178.3" r="1.6"/><circle cx="278.1" cy="177.5" r="1.6"/><circle cx="297.8" cy="174.1" r="1.6"/><circle cx="270.6" cy="170.5" r="1.6"/><circle cx="270.1" cy="172.9" r="1.6"/><circle cx="289.7" cy="173.7" r="1.6"/><circle cx="287.3" cy="169" r="1.6"/><circle cx="291.8" cy="169.3" r="1.6"/><circle cx="292.4" cy="161.9" r="1.6"/><circle cx="296.6" cy="175.2" r="1.6"/><circle cx="261.8" cy="169.2" r="1.6"/><circle cx="289.5" cy="165.7" r="1.6"/><circle cx="306" cy="164.8" r="1.6"/><circle cx="266" cy="176.8" r="1.6"/><circle cx="290.4" cy="176.2" r="1.6"/><circle cx="304.1" cy="164.1" r="1.6"/><circle cx="289.1" cy="164.7" r="1.6"/><circle cx="300.3" cy="173.2" r="1.6"/><circle cx="270.7" cy="169" r="1.6"/><circle cx="289.5" cy="163.1" r="1.6"/><circle cx="267.7" cy="168.4" r="1.6"/><circle cx="261.8" cy="168.9" r="1.6"/><circle cx="260.9" cy="176.2" r="1.6"/><circle cx="296" cy="173.6" r="1.6"/><circle cx="268.4" cy="175.7" r="1.6"/><circle cx="275.1" cy="166.1" r="1.6"/><circle cx="267.1" cy="177.1" r="1.6"/><circle cx="269.8" cy="177.2" r="1.6"/><circle cx="292.7" cy="169.7" r="1.6"/><circle cx="298.6" cy="174" r="1.6"/><circle cx="285.9" cy="170.9" r="1.6"/><circle cx="294.5" cy="168.8" r="1.6"/><circle cx="288.1" cy="173.9" r="1.6"/><circle cx="283.7" cy="174.6" r="1.6"/><circle cx="281.3" cy="173.7" r="1.6"/><circle cx="261.5" cy="176.4" r="1.6"/><circle cx="297.9" cy="166.2" r="1.6"/><circle cx="300.1" cy="159.9" r="1.6"/><circle cx="277.6" cy="165.7" r="1.6"/><circle cx="303.8" cy="161.8" r="1.6"/><circle cx="302.7" cy="164.9" r="1.6"/><circle cx="305.9" cy="164.9" r="1.6"/><circle cx="302.3" cy="162.3" r="1.6"/><circle cx="309.1" cy="164.1" r="1.6"/><circle cx="305.7" cy="168.4" r="1.6"/><circle cx="286.1" cy="177.5" r="1.6"/><circle cx="283.6" cy="163.6" r="1.6"/><circle cx="294.4" cy="169.7" r="1.6"/><circle cx="272.4" cy="173.2" r="1.6"/><circle cx="305.9" cy="163.4" r="1.6"/><circle cx="301.1" cy="174.6" r="1.6"/><circle cx="285.7" cy="162.3" r="1.6"/><circle cx="293.2" cy="164.2" r="1.6"/><circle cx="271.3" cy="176.8" r="1.6"/><circle cx="274.2" cy="166.9" r="1.6"/><circle cx="286.9" cy="174.6" r="1.6"/><circle cx="270.4" cy="178.4" r="1.6"/></g>
<polygon points="233,130.3 229,124.3 222,120.9 215.2,115.7 204.8,110.5 191,107 187.8,104.5 194.5,101.9 194.9,93.3 195.6,86.2 196.3,83.4 198,79 196.5,75.6 196,65 196.3,57.9 197,55.1 200.6,53.7 205.5,53 206.9,56.5 207.6,62.1 207.6,67.8 211,70 215,73.5 218.5,78 220.5,83 223.5,89 226,96 228.4,104.5 233,111 238,117 241,120.5 246.6,125.5 253.4,129.8 261.2,132.4" fill="#4a1658"/>
<polygon points="233,130.3 241,121 247,126 254,130 262,133 268,139 266,149 256,150 254,143 247,138 240,139 237,148" fill="#4a1658"/>
<g fill="#cacac8"><circle cx="208" cy="70.7" r="1.4"/><circle cx="203.8" cy="93.1" r="1.4"/><circle cx="204" cy="99.8" r="1.4"/><circle cx="215.6" cy="96.8" r="1.4"/><circle cx="204.5" cy="76" r="1.4"/><circle cx="199.8" cy="83.1" r="1.4"/><circle cx="228.7" cy="107.4" r="1.4"/><circle cx="204.6" cy="55.5" r="1.4"/><circle cx="211" cy="74.3" r="1.4"/><circle cx="207.2" cy="72.6" r="1.4"/><circle cx="230.7" cy="124.3" r="1.4"/><circle cx="195.8" cy="102.8" r="1.4"/><circle cx="207.4" cy="103.9" r="1.4"/><circle cx="196" cy="87.5" r="1.4"/><circle cx="209.7" cy="103.7" r="1.4"/><circle cx="222.7" cy="96.7" r="1.4"/><circle cx="227.4" cy="111" r="1.4"/><circle cx="202.6" cy="77.8" r="1.4"/><circle cx="220" cy="94.1" r="1.4"/><circle cx="196.7" cy="70.8" r="1.4"/><circle cx="212.6" cy="99.7" r="1.4"/><circle cx="204.7" cy="70.5" r="1.4"/><circle cx="193" cy="103.1" r="1.4"/><circle cx="205.3" cy="106.1" r="1.4"/><circle cx="203.5" cy="63.5" r="1.4"/><circle cx="222.5" cy="115.3" r="1.4"/><circle cx="218.9" cy="90.1" r="1.4"/><circle cx="217.4" cy="79.9" r="1.4"/><circle cx="201.8" cy="88.6" r="1.4"/><circle cx="221.2" cy="86.6" r="1.4"/><circle cx="258.1" cy="132" r="1.4"/><circle cx="228.6" cy="110" r="1.4"/><circle cx="199.2" cy="76.6" r="1.4"/><circle cx="227.6" cy="112.4" r="1.4"/><circle cx="224.7" cy="120.7" r="1.4"/><circle cx="205.1" cy="62.5" r="1.4"/><circle cx="218.6" cy="99.3" r="1.4"/><circle cx="202.8" cy="109.9" r="1.4"/><circle cx="205.3" cy="84.4" r="1.4"/><circle cx="211" cy="112.7" r="1.4"/><circle cx="236.5" cy="127.6" r="1.4"/><circle cx="197.7" cy="62.2" r="1.4"/><circle cx="195.7" cy="96.9" r="1.4"/><circle cx="207.8" cy="101" r="1.4"/><circle cx="198.7" cy="63.1" r="1.4"/><circle cx="206.1" cy="61.2" r="1.4"/><circle cx="217.6" cy="102.3" r="1.4"/><circle cx="251.3" cy="130.5" r="1.4"/><circle cx="195.8" cy="87.5" r="1.4"/><circle cx="216.1" cy="98.8" r="1.4"/><circle cx="206.5" cy="109.3" r="1.4"/><circle cx="227.3" cy="110.1" r="1.4"/><circle cx="210.5" cy="85.4" r="1.4"/><circle cx="197.1" cy="86.4" r="1.4"/><circle cx="209.9" cy="96.5" r="1.4"/><circle cx="219.4" cy="99.1" r="1.4"/><circle cx="202.4" cy="54.9" r="1.4"/><circle cx="205.8" cy="90.7" r="1.4"/><circle cx="218.2" cy="103" r="1.4"/><circle cx="202.1" cy="108.3" r="1.4"/><circle cx="195.6" cy="86.8" r="1.4"/><circle cx="221.3" cy="116.6" r="1.4"/><circle cx="205.9" cy="103.6" r="1.4"/><circle cx="207.7" cy="78.4" r="1.4"/><circle cx="204.8" cy="108.1" r="1.4"/><circle cx="217.7" cy="96.1" r="1.4"/><circle cx="230.7" cy="108.2" r="1.4"/><circle cx="213.6" cy="112.8" r="1.4"/><circle cx="250.4" cy="128.7" r="1.4"/><circle cx="218.6" cy="112.4" r="1.4"/><circle cx="204" cy="70.4" r="1.4"/><circle cx="212.5" cy="106.9" r="1.4"/><circle cx="216.7" cy="97.8" r="1.4"/><circle cx="189.8" cy="104" r="1.4"/><circle cx="197.8" cy="89.7" r="1.4"/><circle cx="203.3" cy="79" r="1.4"/><circle cx="206.3" cy="59.5" r="1.4"/><circle cx="235.5" cy="115" r="1.4"/><circle cx="197.1" cy="106.2" r="1.4"/><circle cx="200.1" cy="101.2" r="1.4"/><circle cx="247.9" cy="129.6" r="1.4"/><circle cx="210.7" cy="106.8" r="1.4"/><circle cx="219.2" cy="82.4" r="1.4"/><circle cx="234.5" cy="118.8" r="1.4"/><circle cx="241.7" cy="129.7" r="1.4"/><circle cx="219.8" cy="111" r="1.4"/><circle cx="221.9" cy="101.5" r="1.4"/><circle cx="223.7" cy="113.2" r="1.4"/><circle cx="223.8" cy="116" r="1.4"/><circle cx="206.3" cy="62.6" r="1.4"/><circle cx="201.9" cy="62.5" r="1.4"/><circle cx="227.1" cy="113.5" r="1.4"/><circle cx="201.4" cy="70.2" r="1.4"/><circle cx="223.3" cy="110.5" r="1.4"/><circle cx="202" cy="71.1" r="1.4"/><circle cx="201" cy="54.1" r="1.4"/><circle cx="222.3" cy="88" r="1.4"/><circle cx="201.3" cy="57.1" r="1.4"/><circle cx="193.2" cy="103" r="1.4"/><circle cx="242.1" cy="128.2" r="1.4"/><circle cx="203.1" cy="69.8" r="1.4"/><circle cx="200.6" cy="59" r="1.4"/><circle cx="204.8" cy="109.1" r="1.4"/><circle cx="238.3" cy="126.4" r="1.4"/><circle cx="236.3" cy="127.1" r="1.4"/><circle cx="219" cy="96.2" r="1.4"/><circle cx="235.3" cy="125.1" r="1.4"/><circle cx="200" cy="77.4" r="1.4"/><circle cx="211.5" cy="72.9" r="1.4"/><circle cx="222.3" cy="104.7" r="1.4"/><circle cx="213.3" cy="79.5" r="1.4"/><circle cx="237" cy="121.1" r="1.4"/><circle cx="212" cy="108.1" r="1.4"/><circle cx="217.5" cy="93.9" r="1.4"/><circle cx="201.6" cy="81.7" r="1.4"/><circle cx="220" cy="108.4" r="1.4"/><circle cx="199.4" cy="96.7" r="1.4"/><circle cx="225.1" cy="118.2" r="1.4"/><circle cx="208.6" cy="76.7" r="1.4"/><circle cx="201.6" cy="108.4" r="1.4"/><circle cx="236.5" cy="118.2" r="1.4"/><circle cx="231.1" cy="122.1" r="1.4"/><circle cx="212.7" cy="108" r="1.4"/><circle cx="235.5" cy="120.6" r="1.4"/><circle cx="215.7" cy="78.1" r="1.4"/><circle cx="192.8" cy="103.1" r="1.4"/><circle cx="195" cy="103.3" r="1.4"/><circle cx="238.7" cy="124.7" r="1.4"/><circle cx="209.3" cy="82.8" r="1.4"/><circle cx="198.5" cy="95.2" r="1.4"/></g>
<g fill="#f4f4f4"><circle cx="207.8" cy="91.7" r="1.2"/><circle cx="210.6" cy="112" r="1.2"/><circle cx="239.2" cy="126.3" r="1.2"/><circle cx="200.4" cy="73" r="1.2"/><circle cx="244.7" cy="129.4" r="1.2"/><circle cx="213.6" cy="102.7" r="1.2"/><circle cx="198.3" cy="89.2" r="1.2"/><circle cx="209" cy="76.9" r="1.2"/><circle cx="201.2" cy="102.4" r="1.2"/><circle cx="195.3" cy="102.6" r="1.2"/><circle cx="208.2" cy="87.9" r="1.2"/><circle cx="198.7" cy="54.8" r="1.2"/><circle cx="194.8" cy="101.5" r="1.2"/><circle cx="216.6" cy="100.9" r="1.2"/><circle cx="217.3" cy="82.9" r="1.2"/><circle cx="239.9" cy="123.1" r="1.2"/><circle cx="205" cy="81.9" r="1.2"/><circle cx="226" cy="109.2" r="1.2"/><circle cx="204.4" cy="56.9" r="1.2"/><circle cx="235.7" cy="117.6" r="1.2"/><circle cx="204" cy="85.3" r="1.2"/><circle cx="231.2" cy="114.6" r="1.2"/><circle cx="217.9" cy="99.1" r="1.2"/><circle cx="195.1" cy="105.4" r="1.2"/><circle cx="246.4" cy="131.2" r="1.2"/><circle cx="240.9" cy="130.4" r="1.2"/><circle cx="196.8" cy="95.8" r="1.2"/><circle cx="218" cy="79.9" r="1.2"/><circle cx="220.2" cy="102.8" r="1.2"/><circle cx="226" cy="121.9" r="1.2"/><circle cx="226.2" cy="103.3" r="1.2"/><circle cx="231.4" cy="112.2" r="1.2"/><circle cx="224.5" cy="109.4" r="1.2"/><circle cx="213.3" cy="82.1" r="1.2"/><circle cx="212.9" cy="76.3" r="1.2"/><circle cx="234.6" cy="129.5" r="1.2"/><circle cx="212.6" cy="102.5" r="1.2"/><circle cx="199.7" cy="61.5" r="1.2"/><circle cx="214.9" cy="113.5" r="1.2"/><circle cx="220.3" cy="102" r="1.2"/><circle cx="205.3" cy="88.6" r="1.2"/><circle cx="221.4" cy="92.2" r="1.2"/><circle cx="200.3" cy="90" r="1.2"/><circle cx="208.5" cy="70.5" r="1.2"/><circle cx="207.6" cy="106.4" r="1.2"/></g>
<g fill="#cacac8"><circle cx="238" cy="134.4" r="1.4"/><circle cx="256.5" cy="144" r="1.4"/><circle cx="248.9" cy="135.4" r="1.4"/><circle cx="262.8" cy="144.8" r="1.4"/><circle cx="250.9" cy="135.4" r="1.4"/><circle cx="260" cy="138.3" r="1.4"/><circle cx="250.7" cy="137.7" r="1.4"/><circle cx="264.1" cy="136.1" r="1.4"/><circle cx="236.6" cy="145.8" r="1.4"/><circle cx="254.8" cy="143.8" r="1.4"/><circle cx="253.7" cy="131.7" r="1.4"/><circle cx="239.5" cy="138.5" r="1.4"/><circle cx="237" cy="135.4" r="1.4"/><circle cx="260.3" cy="148.7" r="1.4"/></g>
<g fill="#467dbd"><circle cx="247.3" cy="136.7" r="1.4"/><circle cx="240.9" cy="121.8" r="1.4"/><circle cx="238.5" cy="135.9" r="1.4"/><circle cx="246.2" cy="132.7" r="1.4"/><circle cx="234.2" cy="132.2" r="1.4"/><circle cx="239.6" cy="128.5" r="1.4"/></g>
<circle cx="211" cy="131" r="2.6" fill="#4a1658"/>
<polygon points="211,155 222,156 229,162 228,169 218,169 211,164" fill="#4a1658"/>
<polygon points="142,187 146,186 149,190 150,198 152,204 153,210 152,216 147,217 144,213 145,205 144,197" fill="#dc1f26"/></g>
<g transform="translate(590.5 -3)"><use href="#ub"/><polygon points="75,142 80,141.5 86,143 90,146 89,151 84,154 79,156 75,154 73,148" fill="#f4b81e"/>
<g fill="#f4b81e"><circle cx="80.9" cy="146.4" r="1.6"/><circle cx="84.6" cy="145.8" r="1.6"/><circle cx="70.2" cy="147.6" r="1.6"/><circle cx="72" cy="159.8" r="1.6"/><circle cx="76.6" cy="154.5" r="1.6"/><circle cx="83.8" cy="155.2" r="1.6"/><circle cx="88.6" cy="155.4" r="1.6"/><circle cx="79.2" cy="145.5" r="1.6"/><circle cx="74.9" cy="162.3" r="1.6"/><circle cx="86.2" cy="142.5" r="1.6"/><circle cx="91.7" cy="146.5" r="1.6"/><circle cx="86" cy="151" r="1.6"/><circle cx="75" cy="145" r="1.6"/><circle cx="83.1" cy="149.9" r="1.6"/><circle cx="84.2" cy="156.7" r="1.6"/><circle cx="80.9" cy="161.3" r="1.6"/><circle cx="71.3" cy="153.7" r="1.6"/><circle cx="81.4" cy="142.2" r="1.6"/><circle cx="77.6" cy="152.4" r="1.6"/><circle cx="83.3" cy="149.9" r="1.6"/><circle cx="73.8" cy="157.4" r="1.6"/><circle cx="70.5" cy="143.3" r="1.6"/><circle cx="77.8" cy="145.9" r="1.6"/><circle cx="68.9" cy="152.4" r="1.6"/><circle cx="74.2" cy="162.2" r="1.6"/><circle cx="81.7" cy="151.2" r="1.6"/><circle cx="78.9" cy="159.7" r="1.6"/><circle cx="80.2" cy="149.7" r="1.6"/><circle cx="77.4" cy="158.6" r="1.6"/><circle cx="68.5" cy="150.6" r="1.6"/><circle cx="76.2" cy="148.3" r="1.6"/><circle cx="84.8" cy="152.5" r="1.6"/><circle cx="80.9" cy="147.2" r="1.6"/><circle cx="79.2" cy="162.2" r="1.6"/><circle cx="70.9" cy="142.1" r="1.6"/><circle cx="72.2" cy="141.2" r="1.6"/><circle cx="71.7" cy="147.5" r="1.6"/><circle cx="68.4" cy="152" r="1.6"/><circle cx="74.3" cy="161.6" r="1.6"/><circle cx="68.7" cy="151.9" r="1.6"/><circle cx="79.2" cy="153" r="1.6"/><circle cx="73.8" cy="140.6" r="1.6"/><circle cx="83.7" cy="159.8" r="1.6"/><circle cx="76.7" cy="149.1" r="1.6"/><circle cx="69.2" cy="152.8" r="1.6"/><circle cx="89.2" cy="151.5" r="1.6"/><circle cx="71.3" cy="142.7" r="1.6"/><circle cx="74.6" cy="152.3" r="1.6"/><circle cx="71.2" cy="153.4" r="1.6"/><circle cx="68.7" cy="147.2" r="1.6"/><circle cx="80.6" cy="151.2" r="1.6"/><circle cx="75.7" cy="155.9" r="1.6"/><circle cx="74.5" cy="158.8" r="1.6"/><circle cx="89.6" cy="153.8" r="1.6"/><circle cx="92.9" cy="146" r="1.6"/></g>
<g fill="#f4b81e"><circle cx="66.3" cy="167" r="1.5"/><circle cx="64.2" cy="174.1" r="1.5"/><circle cx="66" cy="168.2" r="1.5"/><circle cx="84.1" cy="164.7" r="1.5"/><circle cx="74.3" cy="169.8" r="1.5"/><circle cx="75.2" cy="163.9" r="1.5"/><circle cx="60.7" cy="161.7" r="1.5"/><circle cx="72.4" cy="173.9" r="1.5"/><circle cx="64.6" cy="169.5" r="1.5"/><circle cx="69.5" cy="173.3" r="1.5"/><circle cx="84.1" cy="172.8" r="1.5"/><circle cx="65" cy="172.7" r="1.5"/><circle cx="71.4" cy="174.4" r="1.5"/><circle cx="72.2" cy="175.9" r="1.5"/><circle cx="81.5" cy="174" r="1.5"/><circle cx="75.4" cy="159.8" r="1.5"/><circle cx="60.4" cy="165.6" r="1.5"/><circle cx="70.8" cy="160.4" r="1.5"/><circle cx="85" cy="158.5" r="1.5"/><circle cx="83.5" cy="168.1" r="1.5"/><circle cx="64.6" cy="163.9" r="1.5"/><circle cx="71.7" cy="158.6" r="1.5"/><circle cx="79.8" cy="170.3" r="1.5"/><circle cx="84.2" cy="170.2" r="1.5"/><circle cx="74" cy="167.5" r="1.5"/><circle cx="81.6" cy="174.5" r="1.5"/><circle cx="60.7" cy="165.3" r="1.5"/><circle cx="62.3" cy="168.9" r="1.5"/><circle cx="75.1" cy="168.3" r="1.5"/><circle cx="82.3" cy="160.9" r="1.5"/></g>
<polygon points="84.8,162 88,160.8 91.1,162.5 90,165.8 86,165.5" fill="#467dbd"/>
<polygon points="104,176 110,170 118,169 124,172 123,178 118,183 110,186 104,184" fill="#f4b81e"/>
<g fill="#e88eb4"><circle cx="150.8" cy="142.1" r="1.5"/><circle cx="112.8" cy="138.3" r="1.5"/><circle cx="116.1" cy="136.4" r="1.5"/><circle cx="154.5" cy="140.2" r="1.5"/><circle cx="160" cy="153.3" r="1.5"/><circle cx="162.7" cy="154.6" r="1.5"/><circle cx="140.3" cy="147.1" r="1.5"/><circle cx="161.7" cy="143.7" r="1.5"/><circle cx="110" cy="143.1" r="1.5"/><circle cx="137.1" cy="133.9" r="1.5"/><circle cx="148.8" cy="150.9" r="1.5"/><circle cx="146" cy="140.5" r="1.5"/><circle cx="145.8" cy="143.3" r="1.5"/><circle cx="132" cy="133.6" r="1.5"/><circle cx="109" cy="145.2" r="1.5"/><circle cx="121.5" cy="144" r="1.5"/><circle cx="130" cy="143.8" r="1.5"/><circle cx="152.1" cy="150.1" r="1.5"/><circle cx="159.7" cy="151.1" r="1.5"/><circle cx="148.1" cy="151.9" r="1.5"/><circle cx="152.7" cy="153.3" r="1.5"/><circle cx="137" cy="147.1" r="1.5"/><circle cx="110.2" cy="148.6" r="1.5"/><circle cx="136.2" cy="133.2" r="1.5"/><circle cx="151.7" cy="145.5" r="1.5"/><circle cx="135" cy="147.1" r="1.5"/><circle cx="110.6" cy="141.4" r="1.5"/><circle cx="103.2" cy="143.8" r="1.5"/><circle cx="122.7" cy="134.6" r="1.5"/><circle cx="117.7" cy="151.5" r="1.5"/><circle cx="118.3" cy="149.4" r="1.5"/><circle cx="162.1" cy="151.9" r="1.5"/><circle cx="113.4" cy="143.8" r="1.5"/><circle cx="122.2" cy="152.6" r="1.5"/><circle cx="120.7" cy="133.6" r="1.5"/><circle cx="128.4" cy="131.3" r="1.5"/><circle cx="115.6" cy="148" r="1.5"/><circle cx="122.9" cy="134" r="1.5"/><circle cx="155.7" cy="147.5" r="1.5"/><circle cx="138.9" cy="146.5" r="1.5"/><circle cx="140.7" cy="151.7" r="1.5"/><circle cx="148.6" cy="136.2" r="1.5"/><circle cx="145.9" cy="142.7" r="1.5"/><circle cx="163" cy="145.4" r="1.5"/><circle cx="118.4" cy="143" r="1.5"/><circle cx="157.2" cy="137.5" r="1.5"/><circle cx="124" cy="131.8" r="1.5"/><circle cx="148.6" cy="151.4" r="1.5"/><circle cx="103.9" cy="143.2" r="1.5"/><circle cx="155.5" cy="150" r="1.5"/><circle cx="118.6" cy="143.3" r="1.5"/><circle cx="147.8" cy="143" r="1.5"/><circle cx="140.5" cy="136.2" r="1.5"/><circle cx="117" cy="150.2" r="1.5"/><circle cx="108.6" cy="148.4" r="1.5"/><circle cx="129.6" cy="133.2" r="1.5"/><circle cx="105.4" cy="140.1" r="1.5"/><circle cx="128.4" cy="146.5" r="1.5"/><circle cx="133" cy="153.4" r="1.5"/><circle cx="134" cy="153" r="1.5"/><circle cx="163" cy="150.7" r="1.5"/><circle cx="145.6" cy="132" r="1.5"/><circle cx="121.4" cy="142.6" r="1.5"/><circle cx="137.5" cy="149.8" r="1.5"/><circle cx="155" cy="146.5" r="1.5"/><circle cx="119.2" cy="146.2" r="1.5"/><circle cx="135.1" cy="149.5" r="1.5"/><circle cx="119.2" cy="150.4" r="1.5"/><circle cx="149.9" cy="133.8" r="1.5"/><circle cx="130.9" cy="138.1" r="1.5"/><circle cx="127.1" cy="150.6" r="1.5"/><circle cx="164.6" cy="141.7" r="1.5"/><circle cx="137.2" cy="141.7" r="1.5"/><circle cx="116.3" cy="137.1" r="1.5"/><circle cx="114.7" cy="139.6" r="1.5"/><circle cx="137.7" cy="137.9" r="1.5"/><circle cx="167.5" cy="154.5" r="1.5"/><circle cx="160.3" cy="155.3" r="1.5"/><circle cx="141" cy="131.9" r="1.5"/><circle cx="139.7" cy="130.3" r="1.5"/><circle cx="127.6" cy="147.5" r="1.5"/><circle cx="166.6" cy="148.1" r="1.5"/><circle cx="126.8" cy="142.8" r="1.5"/><circle cx="108.6" cy="150.1" r="1.5"/><circle cx="145.4" cy="137.8" r="1.5"/><circle cx="130.3" cy="152" r="1.5"/><circle cx="143.9" cy="150.3" r="1.5"/><circle cx="137.9" cy="146" r="1.5"/><circle cx="138.9" cy="131" r="1.5"/><circle cx="137" cy="135.9" r="1.5"/><circle cx="124.2" cy="150.4" r="1.5"/><circle cx="106" cy="146.2" r="1.5"/><circle cx="164.7" cy="146.1" r="1.5"/><circle cx="123.9" cy="149.1" r="1.5"/><circle cx="102.5" cy="140.8" r="1.5"/><circle cx="149.9" cy="143.1" r="1.5"/><circle cx="133.4" cy="133.3" r="1.5"/><circle cx="132.6" cy="136.1" r="1.5"/><circle cx="140.7" cy="141.6" r="1.5"/><circle cx="122.4" cy="149.6" r="1.5"/><circle cx="123.6" cy="141.5" r="1.5"/><circle cx="131.9" cy="147.9" r="1.5"/><circle cx="136.7" cy="146.3" r="1.5"/><circle cx="108" cy="148.2" r="1.5"/><circle cx="153.5" cy="140" r="1.5"/><circle cx="115.1" cy="140.8" r="1.5"/><circle cx="131.2" cy="153.2" r="1.5"/><circle cx="117.7" cy="144.5" r="1.5"/><circle cx="157.8" cy="141.6" r="1.5"/><circle cx="141.4" cy="134.5" r="1.5"/></g>
<polygon points="112,156 120,154 129.5,154.5 141.9,156 152.8,155 162,159 168,166 170,171 166,176 160.5,179 152.8,176.5 145,174 138.8,177 132,179 123,178 116,174 112,166" fill="#e88eb4"/>
<g fill="#e88eb4"><circle cx="135.2" cy="159.4" r="1.6"/><circle cx="167.7" cy="165.5" r="1.6"/><circle cx="110.1" cy="174" r="1.6"/><circle cx="109.3" cy="156.5" r="1.6"/><circle cx="109.2" cy="170.1" r="1.6"/><circle cx="163" cy="169.6" r="1.6"/><circle cx="119.6" cy="177" r="1.6"/><circle cx="165" cy="160.5" r="1.6"/><circle cx="123.2" cy="171.6" r="1.6"/><circle cx="165.4" cy="172.9" r="1.6"/><circle cx="119.9" cy="169.6" r="1.6"/><circle cx="134" cy="170.4" r="1.6"/><circle cx="138.1" cy="156.6" r="1.6"/><circle cx="127.9" cy="160.5" r="1.6"/><circle cx="144.5" cy="180.2" r="1.6"/><circle cx="146.8" cy="179.7" r="1.6"/><circle cx="131.6" cy="164" r="1.6"/><circle cx="129.9" cy="161.8" r="1.6"/><circle cx="128.3" cy="152.4" r="1.6"/><circle cx="151.5" cy="167" r="1.6"/><circle cx="118" cy="157.2" r="1.6"/><circle cx="135.9" cy="173.8" r="1.6"/><circle cx="129.6" cy="162.9" r="1.6"/><circle cx="127.9" cy="167.3" r="1.6"/><circle cx="124.6" cy="153.9" r="1.6"/><circle cx="164.9" cy="163.6" r="1.6"/><circle cx="160.1" cy="154.2" r="1.6"/><circle cx="125.5" cy="165.8" r="1.6"/><circle cx="106.6" cy="163.3" r="1.6"/><circle cx="116.5" cy="162.7" r="1.6"/><circle cx="124.5" cy="174.9" r="1.6"/><circle cx="139.5" cy="158.1" r="1.6"/><circle cx="145.3" cy="165.3" r="1.6"/><circle cx="119.6" cy="174.9" r="1.6"/><circle cx="141.9" cy="162.7" r="1.6"/><circle cx="137.4" cy="164" r="1.6"/><circle cx="115" cy="171.2" r="1.6"/><circle cx="137.8" cy="155.8" r="1.6"/><circle cx="162.8" cy="168.9" r="1.6"/><circle cx="133.3" cy="179.6" r="1.6"/><circle cx="132.8" cy="151.7" r="1.6"/><circle cx="142.4" cy="163" r="1.6"/><circle cx="158.7" cy="165.9" r="1.6"/><circle cx="129.9" cy="163.2" r="1.6"/><circle cx="137.7" cy="173.4" r="1.6"/><circle cx="160.1" cy="162.7" r="1.6"/><circle cx="113.9" cy="150.4" r="1.6"/><circle cx="146" cy="157.5" r="1.6"/><circle cx="163.6" cy="163.6" r="1.6"/><circle cx="162.5" cy="153.8" r="1.6"/><circle cx="121.1" cy="163.1" r="1.6"/><circle cx="123.7" cy="164.3" r="1.6"/><circle cx="139.4" cy="169.8" r="1.6"/><circle cx="130.6" cy="169.9" r="1.6"/><circle cx="125" cy="176.1" r="1.6"/><circle cx="119.1" cy="152.7" r="1.6"/><circle cx="154.7" cy="170.3" r="1.6"/><circle cx="116.9" cy="160.9" r="1.6"/><circle cx="133" cy="156.4" r="1.6"/><circle cx="143" cy="163.6" r="1.6"/><circle cx="144.5" cy="174.5" r="1.6"/><circle cx="116.9" cy="158.6" r="1.6"/><circle cx="150.6" cy="169.1" r="1.6"/><circle cx="154.3" cy="158.8" r="1.6"/><circle cx="119.1" cy="151.5" r="1.6"/><circle cx="125.5" cy="158.2" r="1.6"/><circle cx="155.9" cy="160.9" r="1.6"/><circle cx="158.8" cy="153.7" r="1.6"/><circle cx="124.2" cy="163.7" r="1.6"/><circle cx="120.3" cy="165.3" r="1.6"/><circle cx="118.1" cy="169" r="1.6"/><circle cx="140.8" cy="176.5" r="1.6"/><circle cx="109.6" cy="173.5" r="1.6"/><circle cx="145.9" cy="159.4" r="1.6"/><circle cx="129.8" cy="153" r="1.6"/><circle cx="133.5" cy="170.7" r="1.6"/><circle cx="156" cy="169.4" r="1.6"/><circle cx="132.6" cy="170.6" r="1.6"/><circle cx="141.1" cy="160.2" r="1.6"/><circle cx="162.1" cy="154.7" r="1.6"/><circle cx="115.7" cy="165" r="1.6"/><circle cx="138.4" cy="153.5" r="1.6"/><circle cx="156" cy="180.4" r="1.6"/><circle cx="143.8" cy="168.6" r="1.6"/><circle cx="124" cy="153.7" r="1.6"/><circle cx="127.8" cy="173" r="1.6"/><circle cx="164.2" cy="161.8" r="1.6"/><circle cx="127.9" cy="160.8" r="1.6"/><circle cx="142.1" cy="158.7" r="1.6"/><circle cx="139.8" cy="176.4" r="1.6"/></g>
<g fill="#cacac8"><circle cx="139.6" cy="169.8" r="1.4"/><circle cx="135.4" cy="177" r="1.4"/><circle cx="152.8" cy="174.1" r="1.4"/><circle cx="158.6" cy="159" r="1.4"/><circle cx="159.5" cy="170.3" r="1.4"/><circle cx="120.6" cy="175.5" r="1.4"/><circle cx="137.5" cy="172" r="1.4"/><circle cx="116.9" cy="171" r="1.4"/><circle cx="118.1" cy="155.1" r="1.4"/><circle cx="146.2" cy="159.5" r="1.4"/><circle cx="123.4" cy="174.4" r="1.4"/><circle cx="156.6" cy="163.9" r="1.4"/><circle cx="124.4" cy="172.6" r="1.4"/><circle cx="143.9" cy="163" r="1.4"/><circle cx="129.8" cy="163.1" r="1.4"/><circle cx="140.2" cy="158.5" r="1.4"/><circle cx="112.1" cy="165.6" r="1.4"/><circle cx="124.4" cy="155.4" r="1.4"/><circle cx="128.3" cy="170.8" r="1.4"/><circle cx="158.8" cy="161.6" r="1.4"/><circle cx="161.7" cy="176.2" r="1.4"/><circle cx="129.3" cy="170" r="1.4"/><circle cx="145" cy="159.9" r="1.4"/><circle cx="167.8" cy="170.4" r="1.4"/><circle cx="127" cy="177" r="1.4"/><circle cx="129.4" cy="163.3" r="1.4"/><circle cx="127.9" cy="174.7" r="1.4"/><circle cx="129.3" cy="157.2" r="1.4"/><circle cx="115.3" cy="158.2" r="1.4"/><circle cx="131.3" cy="168" r="1.4"/></g>
<polygon points="149.7,169 155.9,169 155.9,175 149.7,175" fill="#cacac8"/>
<g fill="#e88eb4"><circle cx="145.7" cy="186.9" r="1.5"/><circle cx="142.7" cy="185.1" r="1.5"/><circle cx="151.8" cy="183.2" r="1.5"/><circle cx="147.9" cy="185.3" r="1.5"/><circle cx="150.3" cy="178.4" r="1.5"/><circle cx="137.2" cy="188" r="1.5"/><circle cx="148.2" cy="180.6" r="1.5"/><circle cx="148.1" cy="179.7" r="1.5"/><circle cx="140.8" cy="182.4" r="1.5"/><circle cx="138.3" cy="179.4" r="1.5"/><circle cx="143.6" cy="184.5" r="1.5"/><circle cx="140" cy="184.6" r="1.5"/><circle cx="152.7" cy="178.6" r="1.5"/><circle cx="139.3" cy="178.9" r="1.5"/></g>
<polygon points="139.8,228.5 142.6,224.4 145.4,217.5 149.5,213.3 155,214.7 161.9,213.3 166,208 166.5,196.8 167.3,184 170,182.7 173,184 178.9,195.6 185.3,204.7 191.8,212.4 198.3,215 208.6,217.6 211.6,223 208.8,229.9 203.3,235.4 192.3,239.6 182.6,238.2 175.7,236.8 167.4,235.4 160.5,238.2 157.8,243.7 153.6,249.2 149.5,251.3 144,247.8 140.5,240.9" fill="#dc1f26"/>
<g fill="#dc1f26"><circle cx="139.5" cy="228.5" r="1.4"/><circle cx="142.7" cy="224.4" r="1.4"/><circle cx="144.1" cy="220.9" r="1.4"/><circle cx="145.4" cy="217.1" r="1.4"/><circle cx="147" cy="215.1" r="1.4"/><circle cx="149.8" cy="212.7" r="1.4"/><circle cx="152.1" cy="213.9" r="1.4"/><circle cx="155.1" cy="214.6" r="1.4"/><circle cx="158.9" cy="214.5" r="1.4"/><circle cx="162" cy="212.9" r="1.4"/><circle cx="164.4" cy="211.1" r="1.4"/><circle cx="166" cy="208.4" r="1.4"/><circle cx="166.6" cy="205.7" r="1.4"/><circle cx="165.9" cy="202.1" r="1.4"/><circle cx="166.7" cy="199.3" r="1.4"/><circle cx="166.2" cy="196.3" r="1.4"/><circle cx="167" cy="193.3" r="1.4"/><circle cx="166.5" cy="190.5" r="1.4"/><circle cx="166.6" cy="187.5" r="1.4"/><circle cx="166.8" cy="184.6" r="1.4"/><circle cx="169.6" cy="182.3" r="1.4"/><circle cx="173" cy="184.3" r="1.4"/><circle cx="174.2" cy="186.6" r="1.4"/><circle cx="175.1" cy="189.1" r="1.4"/><circle cx="176.2" cy="190.9" r="1.4"/><circle cx="178.1" cy="193.2" r="1.4"/><circle cx="178.4" cy="195.9" r="1.4"/><circle cx="180" cy="197.8" r="1.4"/><circle cx="181.9" cy="200.1" r="1.4"/><circle cx="183.3" cy="202.9" r="1.4"/><circle cx="185.7" cy="204.8" r="1.4"/><circle cx="187.2" cy="207.1" r="1.4"/><circle cx="189.3" cy="209.7" r="1.4"/><circle cx="191.8" cy="212.7" r="1.4"/><circle cx="194.6" cy="214.2" r="1.4"/><circle cx="198.8" cy="215" r="1.4"/><circle cx="200.9" cy="215.2" r="1.4"/><circle cx="203.1" cy="215.8" r="1.4"/><circle cx="205.6" cy="217.2" r="1.4"/><circle cx="208.2" cy="217.8" r="1.4"/><circle cx="210.4" cy="220.2" r="1.4"/><circle cx="211.8" cy="223.1" r="1.4"/><circle cx="210.3" cy="226.6" r="1.4"/><circle cx="209" cy="229.5" r="1.4"/><circle cx="206.6" cy="232.3" r="1.4"/><circle cx="202.9" cy="235.1" r="1.4"/><circle cx="200.9" cy="237" r="1.4"/><circle cx="198.4" cy="237.1" r="1.4"/><circle cx="194.9" cy="238.9" r="1.4"/><circle cx="191.8" cy="239.5" r="1.4"/><circle cx="189.1" cy="238.9" r="1.4"/><circle cx="185.6" cy="238.6" r="1.4"/><circle cx="182.2" cy="238.7" r="1.4"/><circle cx="179.1" cy="237.1" r="1.4"/><circle cx="175.7" cy="236.6" r="1.4"/><circle cx="173.1" cy="235.8" r="1.4"/><circle cx="170" cy="235.4" r="1.4"/><circle cx="167.5" cy="235.4" r="1.4"/><circle cx="164.3" cy="237" r="1.4"/><circle cx="160.5" cy="238.4" r="1.4"/><circle cx="158.9" cy="241" r="1.4"/><circle cx="157.7" cy="243.6" r="1.4"/><circle cx="155.6" cy="245.9" r="1.4"/><circle cx="153.2" cy="249.3" r="1.4"/><circle cx="149" cy="251.1" r="1.4"/><circle cx="147.1" cy="249.5" r="1.4"/><circle cx="144.3" cy="247.6" r="1.4"/><circle cx="141.7" cy="244.3" r="1.4"/><circle cx="140.8" cy="240.9" r="1.4"/><circle cx="140.2" cy="238.2" r="1.4"/><circle cx="140" cy="235.2" r="1.4"/><circle cx="140.2" cy="231.2" r="1.4"/></g>
<polygon points="139.5,183 143,182.5 146.5,188 149.7,196 150,203 146,204 143,196 140.5,189" fill="#dc1f26"/>
<g fill="#198a3e"><circle cx="164.6" cy="213" r="1.5"/><circle cx="158.9" cy="220.6" r="1.5"/><circle cx="165.3" cy="218.4" r="1.5"/><circle cx="157.1" cy="222.7" r="1.5"/><circle cx="156.1" cy="230.1" r="1.5"/><circle cx="164.1" cy="225.9" r="1.5"/><circle cx="150.9" cy="231.8" r="1.5"/><circle cx="158.8" cy="223.1" r="1.5"/></g>
<polygon points="191.8,211 200,210.5 208.6,212 208,219 200,219 193,216" fill="#467dbd"/>
<g><circle cx="182" cy="148" r="1.6" fill="#f4b81e"/><circle cx="190" cy="148.5" r="1.4" fill="#dc1f26"/><circle cx="203.5" cy="147" r="1.5" fill="#dc1f26"/><circle cx="210" cy="149" r="1.5" fill="#dc1f26"/></g>
<g fill="#198a3e"><circle cx="194.7" cy="204.7" r="1.4"/><circle cx="253.5" cy="205" r="1.4"/><circle cx="207.7" cy="188.6" r="1.4"/><circle cx="243.4" cy="214.1" r="1.4"/><circle cx="238.3" cy="196.4" r="1.4"/><circle cx="215" cy="190.8" r="1.4"/><circle cx="243.1" cy="191.8" r="1.4"/><circle cx="227.4" cy="200.2" r="1.4"/><circle cx="201.6" cy="203.3" r="1.4"/><circle cx="230.5" cy="208.8" r="1.4"/><circle cx="186.5" cy="183.6" r="1.4"/><circle cx="224.7" cy="205" r="1.4"/><circle cx="198.6" cy="205.7" r="1.4"/><circle cx="216.9" cy="186.7" r="1.4"/><circle cx="261.4" cy="186.9" r="1.4"/><circle cx="212.8" cy="182.4" r="1.4"/><circle cx="200.8" cy="197" r="1.4"/><circle cx="219.4" cy="186.5" r="1.4"/><circle cx="193.1" cy="203" r="1.4"/><circle cx="217.3" cy="193.5" r="1.4"/><circle cx="251.5" cy="211" r="1.4"/><circle cx="203.6" cy="207.9" r="1.4"/><circle cx="241.4" cy="186.4" r="1.4"/><circle cx="204.9" cy="177.5" r="1.4"/><circle cx="217.2" cy="192.7" r="1.4"/><circle cx="223.4" cy="194" r="1.4"/><circle cx="201.1" cy="197.2" r="1.4"/><circle cx="222.2" cy="181.2" r="1.4"/><circle cx="249.9" cy="204.2" r="1.4"/><circle cx="212.2" cy="191.4" r="1.4"/><circle cx="241.9" cy="197.3" r="1.4"/><circle cx="242.6" cy="182.3" r="1.4"/><circle cx="209.8" cy="196" r="1.4"/><circle cx="262.7" cy="190.8" r="1.4"/><circle cx="236.9" cy="182.7" r="1.4"/><circle cx="261.9" cy="184.3" r="1.4"/><circle cx="228" cy="202.3" r="1.4"/><circle cx="241.4" cy="192.5" r="1.4"/><circle cx="265.7" cy="197.2" r="1.4"/><circle cx="232.6" cy="184.6" r="1.4"/><circle cx="222.8" cy="200.7" r="1.4"/><circle cx="217.1" cy="179" r="1.4"/><circle cx="198.7" cy="210.3" r="1.4"/><circle cx="199.5" cy="195.3" r="1.4"/><circle cx="242.4" cy="183.2" r="1.4"/><circle cx="250.7" cy="193.7" r="1.4"/><circle cx="218.2" cy="189" r="1.4"/><circle cx="205.2" cy="191.7" r="1.4"/><circle cx="218.3" cy="190.4" r="1.4"/><circle cx="255.8" cy="187.5" r="1.4"/><circle cx="246.1" cy="204.1" r="1.4"/><circle cx="237.7" cy="208" r="1.4"/><circle cx="204.9" cy="208.9" r="1.4"/><circle cx="212.9" cy="209.6" r="1.4"/><circle cx="217.9" cy="204.5" r="1.4"/><circle cx="243.2" cy="195" r="1.4"/><circle cx="188.9" cy="188.8" r="1.4"/><circle cx="242.8" cy="184.8" r="1.4"/><circle cx="193.5" cy="197.7" r="1.4"/><circle cx="234.3" cy="185.9" r="1.4"/><circle cx="237.3" cy="196.5" r="1.4"/><circle cx="187.3" cy="193.7" r="1.4"/><circle cx="225.9" cy="198.9" r="1.4"/><circle cx="251.8" cy="203" r="1.4"/><circle cx="248.3" cy="184.6" r="1.4"/><circle cx="188.8" cy="202.1" r="1.4"/><circle cx="187.3" cy="196.7" r="1.4"/><circle cx="250.5" cy="190.5" r="1.4"/><circle cx="210.3" cy="191.3" r="1.4"/><circle cx="191.7" cy="176.6" r="1.4"/><circle cx="230" cy="208" r="1.4"/><circle cx="207.8" cy="207.9" r="1.4"/><circle cx="206.8" cy="205.9" r="1.4"/><circle cx="235.1" cy="204.2" r="1.4"/><circle cx="210.6" cy="204.5" r="1.4"/><circle cx="264.8" cy="204.1" r="1.4"/><circle cx="232.1" cy="204" r="1.4"/><circle cx="254.5" cy="201.3" r="1.4"/><circle cx="220.8" cy="185.1" r="1.4"/><circle cx="265.7" cy="203.3" r="1.4"/><circle cx="265.8" cy="201.4" r="1.4"/><circle cx="254.6" cy="183.6" r="1.4"/><circle cx="209.8" cy="192.6" r="1.4"/><circle cx="249.8" cy="205.5" r="1.4"/><circle cx="252.5" cy="212.8" r="1.4"/><circle cx="248.4" cy="195.5" r="1.4"/><circle cx="213.8" cy="190.9" r="1.4"/><circle cx="199.5" cy="184" r="1.4"/><circle cx="199" cy="193.6" r="1.4"/><circle cx="187.8" cy="174.7" r="1.4"/><circle cx="245.4" cy="190.3" r="1.4"/><circle cx="265.9" cy="184.3" r="1.4"/><circle cx="264.7" cy="187" r="1.4"/><circle cx="216" cy="177.7" r="1.4"/><circle cx="234.8" cy="198.3" r="1.4"/><circle cx="253.3" cy="188.3" r="1.4"/><circle cx="209" cy="177.1" r="1.4"/><circle cx="193.3" cy="186.8" r="1.4"/><circle cx="244.7" cy="205.3" r="1.4"/><circle cx="219.9" cy="183.3" r="1.4"/><circle cx="235.3" cy="190" r="1.4"/><circle cx="254.9" cy="185.2" r="1.4"/><circle cx="247.2" cy="191.6" r="1.4"/><circle cx="203.6" cy="178.8" r="1.4"/><circle cx="225.5" cy="200.9" r="1.4"/><circle cx="203.7" cy="178" r="1.4"/><circle cx="231.9" cy="195.9" r="1.4"/><circle cx="243.4" cy="210" r="1.4"/><circle cx="206.6" cy="204.9" r="1.4"/><circle cx="201.9" cy="205.5" r="1.4"/><circle cx="211.9" cy="195.7" r="1.4"/><circle cx="256.8" cy="205.7" r="1.4"/><circle cx="246.5" cy="212" r="1.4"/><circle cx="216.9" cy="184.4" r="1.4"/><circle cx="252.4" cy="198.2" r="1.4"/><circle cx="258" cy="207.2" r="1.4"/><circle cx="215.9" cy="186" r="1.4"/><circle cx="251.3" cy="199.2" r="1.4"/><circle cx="226.5" cy="191.3" r="1.4"/><circle cx="220.5" cy="193.9" r="1.4"/><circle cx="231.1" cy="199.8" r="1.4"/><circle cx="192.5" cy="182.3" r="1.4"/><circle cx="190.3" cy="200.5" r="1.4"/><circle cx="196.4" cy="202.8" r="1.4"/><circle cx="249.2" cy="205.1" r="1.4"/><circle cx="265.5" cy="195.5" r="1.4"/><circle cx="227.8" cy="198" r="1.4"/><circle cx="233.3" cy="195.6" r="1.4"/><circle cx="204" cy="203.1" r="1.4"/><circle cx="246.9" cy="188.4" r="1.4"/><circle cx="190.4" cy="198.3" r="1.4"/><circle cx="203.1" cy="187.6" r="1.4"/><circle cx="256.5" cy="207" r="1.4"/><circle cx="263.1" cy="198.2" r="1.4"/><circle cx="243.6" cy="184.3" r="1.4"/><circle cx="235.1" cy="196.8" r="1.4"/><circle cx="199" cy="200.4" r="1.4"/><circle cx="236.2" cy="181.5" r="1.4"/><circle cx="248.5" cy="185.5" r="1.4"/><circle cx="257.6" cy="185.5" r="1.4"/><circle cx="257.4" cy="205" r="1.4"/><circle cx="208.2" cy="180.6" r="1.4"/><circle cx="225" cy="189.4" r="1.4"/><circle cx="233.7" cy="194.4" r="1.4"/><circle cx="184.7" cy="186" r="1.4"/><circle cx="228.1" cy="202.7" r="1.4"/><circle cx="203.2" cy="196.8" r="1.4"/><circle cx="198.8" cy="205" r="1.4"/><circle cx="235.6" cy="186.6" r="1.4"/><circle cx="196.9" cy="197.5" r="1.4"/></g>
<g fill="#198a3e"><circle cx="262.7" cy="201.7" r="1.4"/><circle cx="244" cy="200.7" r="1.4"/><circle cx="242" cy="192.5" r="1.4"/><circle cx="240.2" cy="187.9" r="1.4"/><circle cx="233.9" cy="207.3" r="1.4"/><circle cx="234" cy="212" r="1.4"/><circle cx="247.2" cy="196.8" r="1.4"/><circle cx="227.2" cy="190.4" r="1.4"/><circle cx="260.3" cy="191.2" r="1.4"/><circle cx="249.4" cy="201.6" r="1.4"/><circle cx="242.9" cy="206" r="1.4"/><circle cx="230.8" cy="204.8" r="1.4"/><circle cx="228.4" cy="192" r="1.4"/><circle cx="251.7" cy="191.3" r="1.4"/><circle cx="231.1" cy="199.9" r="1.4"/><circle cx="250.3" cy="186.1" r="1.4"/><circle cx="251.6" cy="202.3" r="1.4"/><circle cx="249.2" cy="196.8" r="1.4"/><circle cx="239.7" cy="208.2" r="1.4"/><circle cx="233.4" cy="199" r="1.4"/><circle cx="245" cy="187.2" r="1.4"/><circle cx="260.2" cy="191.1" r="1.4"/><circle cx="256.1" cy="199.1" r="1.4"/><circle cx="248.1" cy="198.9" r="1.4"/><circle cx="260.6" cy="186.8" r="1.4"/><circle cx="232.2" cy="200.2" r="1.4"/><circle cx="252.4" cy="194.1" r="1.4"/><circle cx="255.9" cy="192.8" r="1.4"/><circle cx="228.2" cy="199.5" r="1.4"/><circle cx="254.3" cy="194.4" r="1.4"/><circle cx="234.2" cy="204.3" r="1.4"/><circle cx="251.4" cy="189.7" r="1.4"/><circle cx="232.3" cy="203.4" r="1.4"/><circle cx="256" cy="190" r="1.4"/><circle cx="250.3" cy="204.5" r="1.4"/><circle cx="244.5" cy="189" r="1.4"/><circle cx="231.1" cy="193.2" r="1.4"/><circle cx="252.8" cy="190.2" r="1.4"/><circle cx="248.1" cy="210.3" r="1.4"/><circle cx="247.5" cy="205.4" r="1.4"/><circle cx="234.8" cy="202.5" r="1.4"/><circle cx="254.6" cy="189.7" r="1.4"/><circle cx="231" cy="211.2" r="1.4"/><circle cx="247.3" cy="211.8" r="1.4"/><circle cx="242" cy="212.3" r="1.4"/><circle cx="253.2" cy="191.4" r="1.4"/><circle cx="235" cy="212.2" r="1.4"/><circle cx="233.3" cy="187.3" r="1.4"/><circle cx="261.5" cy="201" r="1.4"/><circle cx="236.8" cy="203" r="1.4"/><circle cx="231.4" cy="205.6" r="1.4"/><circle cx="249.9" cy="204.4" r="1.4"/><circle cx="240.3" cy="197.3" r="1.4"/><circle cx="235.3" cy="187.7" r="1.4"/><circle cx="245.4" cy="195.2" r="1.4"/><circle cx="240.4" cy="189.4" r="1.4"/><circle cx="255" cy="202.1" r="1.4"/><circle cx="229.8" cy="198.7" r="1.4"/><circle cx="242.3" cy="209.4" r="1.4"/><circle cx="239.7" cy="194.6" r="1.4"/><circle cx="246.2" cy="209.6" r="1.4"/><circle cx="229.1" cy="186.8" r="1.4"/><circle cx="235.9" cy="205.5" r="1.4"/><circle cx="259.9" cy="197.4" r="1.4"/><circle cx="231.2" cy="197.1" r="1.4"/><circle cx="238.1" cy="200.9" r="1.4"/><circle cx="230.2" cy="206.2" r="1.4"/><circle cx="258.5" cy="193.1" r="1.4"/><circle cx="234.4" cy="186.2" r="1.4"/><circle cx="251.7" cy="199" r="1.4"/><circle cx="242.2" cy="192.8" r="1.4"/><circle cx="249.5" cy="211.3" r="1.4"/><circle cx="255.9" cy="195.9" r="1.4"/><circle cx="233.1" cy="199.4" r="1.4"/><circle cx="261.6" cy="201.7" r="1.4"/><circle cx="248" cy="203" r="1.4"/><circle cx="234.3" cy="206.8" r="1.4"/><circle cx="252.8" cy="199.2" r="1.4"/><circle cx="252.5" cy="189.2" r="1.4"/><circle cx="243.9" cy="189.5" r="1.4"/></g>
<polygon points="202.1,166 207,163.3 213,165 215,170 210,173.7 204,172" fill="#4a1658"/>
<g fill="#4a1658"><circle cx="210" cy="160.1" r="1.4"/><circle cx="209.4" cy="157.9" r="1.4"/><circle cx="231.5" cy="151.4" r="1.4"/><circle cx="231.4" cy="161.4" r="1.4"/><circle cx="229.3" cy="143.6" r="1.4"/><circle cx="225.9" cy="158" r="1.4"/><circle cx="222.9" cy="154" r="1.4"/><circle cx="231.5" cy="162" r="1.4"/><circle cx="225.7" cy="162.8" r="1.4"/><circle cx="221.6" cy="166.6" r="1.4"/><circle cx="223.2" cy="159.4" r="1.4"/><circle cx="212.2" cy="159.1" r="1.4"/><circle cx="212.6" cy="160" r="1.4"/><circle cx="218.8" cy="165.1" r="1.4"/><circle cx="222.6" cy="153.6" r="1.4"/><circle cx="220.9" cy="149.4" r="1.4"/><circle cx="231.6" cy="167.8" r="1.4"/><circle cx="218.1" cy="149.3" r="1.4"/><circle cx="219.3" cy="161.5" r="1.4"/><circle cx="219.3" cy="170.3" r="1.4"/><circle cx="210.2" cy="152.9" r="1.4"/><circle cx="220.9" cy="144.3" r="1.4"/><circle cx="219.7" cy="159.6" r="1.4"/><circle cx="216" cy="171.8" r="1.4"/><circle cx="217" cy="153.7" r="1.4"/></g>
<polygon points="272,134 279.1,129.6 289.5,125.6 299.8,122.8 307,124.5 310.5,130 309,137 303,141.5 293,144 283,145.5 275,147 268,146 266,141" fill="#467dbd"/>
<g fill="#467dbd"><circle cx="245.4" cy="162.8" r="1.6"/><circle cx="236.4" cy="177.7" r="1.6"/><circle cx="234.6" cy="161.6" r="1.6"/><circle cx="252.9" cy="171.6" r="1.6"/><circle cx="244.8" cy="165.5" r="1.6"/><circle cx="232.6" cy="164" r="1.6"/><circle cx="254.9" cy="166.4" r="1.6"/><circle cx="244.8" cy="161.3" r="1.6"/><circle cx="242.4" cy="160.1" r="1.6"/><circle cx="260.7" cy="155.2" r="1.6"/><circle cx="237" cy="170.1" r="1.6"/><circle cx="255.5" cy="165.1" r="1.6"/><circle cx="244.8" cy="159.2" r="1.6"/><circle cx="261.8" cy="157.3" r="1.6"/><circle cx="250.8" cy="157.9" r="1.6"/><circle cx="258.6" cy="149.8" r="1.6"/><circle cx="259.8" cy="153.3" r="1.6"/><circle cx="253.4" cy="157.3" r="1.6"/><circle cx="259.1" cy="150.4" r="1.6"/><circle cx="247.8" cy="167.7" r="1.6"/><circle cx="240.9" cy="158.4" r="1.6"/><circle cx="239.8" cy="169.5" r="1.6"/><circle cx="236.8" cy="172.8" r="1.6"/><circle cx="260.3" cy="148.5" r="1.6"/><circle cx="242" cy="165.9" r="1.6"/><circle cx="257.2" cy="149.3" r="1.6"/><circle cx="252.5" cy="154.4" r="1.6"/><circle cx="253.1" cy="151.4" r="1.6"/><circle cx="253.4" cy="162.3" r="1.6"/><circle cx="244.6" cy="161.2" r="1.6"/><circle cx="261.8" cy="157.4" r="1.6"/><circle cx="235.5" cy="169" r="1.6"/><circle cx="256.2" cy="164.1" r="1.6"/><circle cx="254.6" cy="165.7" r="1.6"/><circle cx="263.9" cy="147.9" r="1.6"/><circle cx="236.8" cy="167.5" r="1.6"/><circle cx="248.5" cy="153.6" r="1.6"/><circle cx="258.7" cy="152.7" r="1.6"/><circle cx="263.8" cy="156.5" r="1.6"/><circle cx="265" cy="150.5" r="1.6"/><circle cx="252.1" cy="157.8" r="1.6"/><circle cx="255.3" cy="149.7" r="1.6"/><circle cx="253.1" cy="153.9" r="1.6"/><circle cx="233.7" cy="169.2" r="1.6"/><circle cx="267.8" cy="147.4" r="1.6"/><circle cx="250.5" cy="168.9" r="1.6"/><circle cx="240.7" cy="159.4" r="1.6"/><circle cx="244.5" cy="157.2" r="1.6"/><circle cx="253.9" cy="162.5" r="1.6"/><circle cx="257" cy="152.6" r="1.6"/><circle cx="237.5" cy="174" r="1.6"/><circle cx="245.9" cy="164.3" r="1.6"/><circle cx="258.8" cy="147" r="1.6"/><circle cx="242" cy="156.8" r="1.6"/><circle cx="231.3" cy="167.3" r="1.6"/><circle cx="256.8" cy="166.5" r="1.6"/><circle cx="237.7" cy="159.8" r="1.6"/><circle cx="265.8" cy="153.8" r="1.6"/><circle cx="266.7" cy="148" r="1.6"/><circle cx="242.8" cy="177.6" r="1.6"/><circle cx="259.4" cy="156.6" r="1.6"/><circle cx="251.1" cy="154.8" r="1.6"/><circle cx="244.9" cy="159.5" r="1.6"/><circle cx="252.6" cy="158.5" r="1.6"/><circle cx="242.6" cy="164.7" r="1.6"/><circle cx="252.5" cy="159.4" r="1.6"/><circle cx="236.3" cy="168.9" r="1.6"/><circle cx="265.6" cy="157.6" r="1.6"/><circle cx="232.4" cy="166" r="1.6"/><circle cx="257.9" cy="166.5" r="1.6"/><circle cx="258.9" cy="164" r="1.6"/><circle cx="230.9" cy="175.5" r="1.6"/><circle cx="252.8" cy="168.5" r="1.6"/><circle cx="250.8" cy="170.7" r="1.6"/><circle cx="264.5" cy="157.7" r="1.6"/><circle cx="253.2" cy="157.6" r="1.6"/><circle cx="264.5" cy="149.9" r="1.6"/><circle cx="261.5" cy="147.3" r="1.6"/><circle cx="230.2" cy="170" r="1.6"/><circle cx="239.3" cy="171.7" r="1.6"/><circle cx="247.1" cy="172.4" r="1.6"/><circle cx="246.4" cy="158.2" r="1.6"/><circle cx="253.9" cy="155.3" r="1.6"/><circle cx="234.6" cy="161.6" r="1.6"/><circle cx="251.6" cy="173" r="1.6"/><circle cx="255.3" cy="161.2" r="1.6"/><circle cx="239.2" cy="170" r="1.6"/><circle cx="269.6" cy="148.1" r="1.6"/><circle cx="242" cy="170.6" r="1.6"/><circle cx="239.7" cy="178.3" r="1.6"/><circle cx="260.3" cy="150.9" r="1.6"/><circle cx="266.7" cy="155.1" r="1.6"/><circle cx="250.9" cy="162.5" r="1.6"/><circle cx="268.3" cy="154.1" r="1.6"/><circle cx="253.3" cy="164.3" r="1.6"/><circle cx="269" cy="153.5" r="1.6"/><circle cx="242.1" cy="176.9" r="1.6"/><circle cx="271" cy="148.4" r="1.6"/><circle cx="264.1" cy="160.3" r="1.6"/><circle cx="249" cy="173.2" r="1.6"/><circle cx="241.8" cy="177.8" r="1.6"/><circle cx="242.1" cy="177.9" r="1.6"/><circle cx="247.2" cy="175.1" r="1.6"/><circle cx="257.5" cy="156.9" r="1.6"/><circle cx="242.6" cy="160.8" r="1.6"/><circle cx="270" cy="147.5" r="1.6"/><circle cx="237.3" cy="160.1" r="1.6"/><circle cx="238.7" cy="168.1" r="1.6"/><circle cx="239.9" cy="159.2" r="1.6"/><circle cx="268.7" cy="152.7" r="1.6"/><circle cx="240.9" cy="175.9" r="1.6"/><circle cx="253.3" cy="156.9" r="1.6"/><circle cx="245.5" cy="153.7" r="1.6"/><circle cx="232.3" cy="164" r="1.6"/><circle cx="240.3" cy="168.4" r="1.6"/><circle cx="237.2" cy="171.8" r="1.6"/><circle cx="264.4" cy="147.8" r="1.6"/><circle cx="260.5" cy="153" r="1.6"/><circle cx="254" cy="169.3" r="1.6"/><circle cx="252.1" cy="151.9" r="1.6"/><circle cx="254.5" cy="152.6" r="1.6"/><circle cx="252.4" cy="150.2" r="1.6"/><circle cx="247.6" cy="158.3" r="1.6"/><circle cx="252.7" cy="154.2" r="1.6"/><circle cx="238.2" cy="167.8" r="1.6"/><circle cx="229.8" cy="170.7" r="1.6"/><circle cx="244.6" cy="169.6" r="1.6"/><circle cx="234.5" cy="167.1" r="1.6"/><circle cx="258.9" cy="147" r="1.6"/><circle cx="250.3" cy="168.6" r="1.6"/><circle cx="252.6" cy="171.6" r="1.6"/><circle cx="246" cy="172.2" r="1.6"/><circle cx="244.3" cy="163.8" r="1.6"/><circle cx="253.6" cy="150.5" r="1.6"/><circle cx="238.7" cy="168.5" r="1.6"/><circle cx="240" cy="178.2" r="1.6"/><circle cx="253.7" cy="148.9" r="1.6"/><circle cx="245.8" cy="175.8" r="1.6"/><circle cx="246.8" cy="156.8" r="1.6"/><circle cx="265.1" cy="155.2" r="1.6"/><circle cx="258.3" cy="151.6" r="1.6"/><circle cx="239.6" cy="171.6" r="1.6"/><circle cx="261.4" cy="153.6" r="1.6"/><circle cx="268.5" cy="149.9" r="1.6"/><circle cx="246.4" cy="161.7" r="1.6"/><circle cx="267.5" cy="149.6" r="1.6"/><circle cx="265.5" cy="154.1" r="1.6"/><circle cx="237.3" cy="172.5" r="1.6"/><circle cx="248.8" cy="166.5" r="1.6"/><circle cx="246.7" cy="157.8" r="1.6"/></g>
<polygon points="232,163 240,156 250,151 256,153 250,162 242,170 234,172" fill="#467dbd"/>
<g fill="#467dbd"><circle cx="277.6" cy="175.4" r="1.4"/><circle cx="308.7" cy="140.9" r="1.4"/><circle cx="304.4" cy="167.1" r="1.4"/><circle cx="303.6" cy="154.4" r="1.4"/><circle cx="302.7" cy="160.4" r="1.4"/><circle cx="300.7" cy="167.7" r="1.4"/><circle cx="282.6" cy="165.4" r="1.4"/><circle cx="307" cy="143.8" r="1.4"/><circle cx="295.5" cy="172.2" r="1.4"/><circle cx="300.2" cy="161.4" r="1.4"/><circle cx="309.5" cy="149.6" r="1.4"/><circle cx="271.8" cy="162" r="1.4"/><circle cx="304.3" cy="164.6" r="1.4"/><circle cx="272.6" cy="152.9" r="1.4"/><circle cx="273.5" cy="155.4" r="1.4"/><circle cx="301.5" cy="157.2" r="1.4"/><circle cx="291.1" cy="148.6" r="1.4"/><circle cx="285.2" cy="151.6" r="1.4"/><circle cx="297.7" cy="173.6" r="1.4"/><circle cx="270.4" cy="164.3" r="1.4"/><circle cx="293.9" cy="163" r="1.4"/><circle cx="290.1" cy="165.9" r="1.4"/><circle cx="304.5" cy="149.7" r="1.4"/><circle cx="291.7" cy="149.2" r="1.4"/><circle cx="288.3" cy="160" r="1.4"/><circle cx="286.8" cy="163.8" r="1.4"/><circle cx="290.6" cy="160.2" r="1.4"/><circle cx="301.5" cy="154.1" r="1.4"/><circle cx="283.5" cy="155" r="1.4"/><circle cx="273.1" cy="162" r="1.4"/><circle cx="302.8" cy="142.9" r="1.4"/><circle cx="286" cy="145.9" r="1.4"/><circle cx="290.9" cy="153.6" r="1.4"/><circle cx="299.7" cy="170.8" r="1.4"/><circle cx="270.8" cy="158.3" r="1.4"/></g>
<polygon points="195.4,56 200,53.4 205.5,53.4 209.9,60 209.9,72 206,80.6 198,80.6 195.4,72" fill="#4a1658"/>
<polygon points="195.4,84.2 208,84.2 217.1,87.9 222.5,95.1 228,102.3 233.4,109.6 238.8,118.7 246.1,125.9 257,131.3 264.2,136.8 267.8,142.2 257,142.2 246.1,138.6 237,131.3 228,124.1 217.1,115 206.2,109.6 195.4,106 188.1,104.2 191.7,98.7 193.6,91.5" fill="#4a1658"/>
<g fill="#cacac8"><circle cx="199.9" cy="69.1" r="1.4"/><circle cx="199.3" cy="75.4" r="1.4"/><circle cx="202.2" cy="62.4" r="1.4"/><circle cx="208.4" cy="75" r="1.4"/><circle cx="207.9" cy="71.5" r="1.4"/><circle cx="198.1" cy="64" r="1.4"/><circle cx="198.9" cy="75" r="1.4"/><circle cx="197.8" cy="61.7" r="1.4"/><circle cx="204.5" cy="71.8" r="1.4"/><circle cx="202.8" cy="68.5" r="1.4"/><circle cx="203.9" cy="69.7" r="1.4"/><circle cx="197" cy="61.6" r="1.4"/><circle cx="195.7" cy="68.8" r="1.4"/><circle cx="199.7" cy="60" r="1.4"/></g>
<g fill="#cacac8"><circle cx="227.5" cy="116.5" r="1.4"/><circle cx="226.8" cy="105" r="1.4"/><circle cx="220.4" cy="103.3" r="1.4"/><circle cx="237.4" cy="128.3" r="1.4"/><circle cx="215.7" cy="87.9" r="1.4"/><circle cx="227" cy="108.7" r="1.4"/><circle cx="219.8" cy="92" r="1.4"/><circle cx="204.3" cy="105.9" r="1.4"/><circle cx="249" cy="138.6" r="1.4"/><circle cx="244.7" cy="131" r="1.4"/><circle cx="207.9" cy="90.4" r="1.4"/><circle cx="220.1" cy="92.7" r="1.4"/><circle cx="259.6" cy="139.6" r="1.4"/><circle cx="217.7" cy="91.6" r="1.4"/><circle cx="210.4" cy="97.7" r="1.4"/><circle cx="204" cy="91.8" r="1.4"/><circle cx="239.2" cy="119.4" r="1.4"/><circle cx="192.3" cy="104.2" r="1.4"/><circle cx="250.2" cy="134.9" r="1.4"/><circle cx="225.6" cy="101" r="1.4"/><circle cx="239.9" cy="120" r="1.4"/><circle cx="224.5" cy="100.7" r="1.4"/><circle cx="235.3" cy="128.7" r="1.4"/><circle cx="232.7" cy="114.1" r="1.4"/><circle cx="237.2" cy="129.7" r="1.4"/><circle cx="223.3" cy="119.6" r="1.4"/><circle cx="190.9" cy="101.2" r="1.4"/><circle cx="199.4" cy="105.9" r="1.4"/><circle cx="263" cy="141.1" r="1.4"/><circle cx="223.3" cy="103.8" r="1.4"/><circle cx="195.2" cy="85.8" r="1.4"/><circle cx="253" cy="140.4" r="1.4"/><circle cx="254.3" cy="139.1" r="1.4"/><circle cx="212.9" cy="87.1" r="1.4"/><circle cx="207.3" cy="96.2" r="1.4"/><circle cx="195.3" cy="98" r="1.4"/><circle cx="236.6" cy="127.1" r="1.4"/><circle cx="243.8" cy="135.9" r="1.4"/><circle cx="208.4" cy="90" r="1.4"/><circle cx="208" cy="104.6" r="1.4"/><circle cx="219.2" cy="103.2" r="1.4"/><circle cx="226.8" cy="120.4" r="1.4"/><circle cx="256.1" cy="135.4" r="1.4"/><circle cx="203.8" cy="105.2" r="1.4"/><circle cx="230.3" cy="115" r="1.4"/><circle cx="249.2" cy="129" r="1.4"/><circle cx="225.8" cy="110" r="1.4"/><circle cx="208.3" cy="102.2" r="1.4"/><circle cx="196.1" cy="88.6" r="1.4"/><circle cx="264.4" cy="137" r="1.4"/><circle cx="224.2" cy="113" r="1.4"/><circle cx="218.1" cy="94.5" r="1.4"/><circle cx="204.7" cy="92.6" r="1.4"/><circle cx="196" cy="84.2" r="1.4"/><circle cx="222.7" cy="108.1" r="1.4"/><circle cx="208.7" cy="92.8" r="1.4"/><circle cx="219.4" cy="109.4" r="1.4"/><circle cx="203.3" cy="86.7" r="1.4"/><circle cx="240.8" cy="124.9" r="1.4"/><circle cx="230.1" cy="120.1" r="1.4"/></g>
<circle cx="211" cy="129.5" r="1.8" fill="#4a1658"/><circle cx="210.5" cy="132.5" r="1.5" fill="#dc1f26"/></g>
<path d="M47.8,254.2 V232 M46.4,254.2 H69.3" stroke="#3d5470" stroke-width="2.7" fill="none"/><path d="M47.8,224.8 L52.5,236.2 L47.8,233.4 L43.1,236.2 Z" fill="#3d5470"/><path d="M76.3,254.2 L65.1,248.7 L67.9,254.2 L65.1,259.7 Z" fill="#3d5470"/>
<path d="M341.5,254.2 V232 M340.1,254.2 H363" stroke="#3d5470" stroke-width="2.7" fill="none"/><path d="M341.5,224.8 L346.2,236.2 L341.5,233.4 L336.8,236.2 Z" fill="#3d5470"/><path d="M370,254.2 L358.8,248.7 L361.6,254.2 L358.8,259.7 Z" fill="#3d5470"/>
<path d="M638.3,254.2 V232 M636.9,254.2 H659.8" stroke="#3d5470" stroke-width="2.7" fill="none"/><path d="M638.3,224.8 L643,236.2 L638.3,233.4 L633.6,236.2 Z" fill="#3d5470"/><path d="M666.8,254.2 L655.6,248.7 L658.4,254.2 L655.6,259.7 Z" fill="#3d5470"/>
<text x="119.8" y="41.9" font-size="18" font-style="italic" text-anchor="middle" transform="translate(119.8 0) scale(0.915 1) translate(-119.8 0)">WT</text>
<text x="441.3" y="41.9" font-size="18" font-style="italic" text-anchor="middle" transform="translate(441.3 0) scale(0.915 1) translate(-441.3 0)">PC</text>
<text x="757.4" y="41.9" font-size="18" font-style="italic" text-anchor="middle" transform="translate(757.4 0) scale(0.915 1) translate(-757.4 0)">EPC</text>
<text x="35.2" y="228.5" font-size="18" text-anchor="middle" transform="rotate(-90 35.2 228.5)">UMAP2</text>
<text x="45.8" y="278.1" font-size="18" transform="translate(45.8 0) scale(0.93 1) translate(-45.8 0)">UMAP1</text>
<text x="3.1" y="25.8" font-size="24.6" font-weight="bold" style="font-family:'DejaVu Sans',sans-serif;fill:#000" stroke="#000" stroke-width="0.7">a</text>
<text x="3.4" y="313" font-size="24.6" font-weight="bold" style="font-family:'DejaVu Sans',sans-serif;fill:#000" stroke="#000" stroke-width="0.7">c</text>
<text x="245.6" y="312.8" font-size="24.6" font-weight="bold" style="font-family:'DejaVu Sans',sans-serif;fill:#000" stroke="#000" stroke-width="0.7">e</text>
<rect x="74.5" y="357" width="161.5" height="127.5" fill="#fcfcfc"/>
<line x1="73.8" y1="351.5" x2="73.8" y2="485.2" stroke="#333" stroke-width="1.3"/>
<line x1="73.2" y1="484.8" x2="238.5" y2="484.8" stroke="#333" stroke-width="1.3"/>
<line x1="69.2" y1="479.3" x2="73.8" y2="479.3" stroke="#333" stroke-width="1.2"/>
<text x="62.6" y="484.7" font-size="15.5" text-anchor="end">0</text>
<line x1="69.2" y1="457.8" x2="73.8" y2="457.8" stroke="#333" stroke-width="1.2"/>
<text x="62.6" y="463.2" font-size="15.5" text-anchor="end">0.25</text>
<line x1="69.2" y1="436.3" x2="73.8" y2="436.3" stroke="#333" stroke-width="1.2"/>
<text x="62.6" y="441.7" font-size="15.5" text-anchor="end">0.50</text>
<line x1="69.2" y1="414.8" x2="73.8" y2="414.8" stroke="#333" stroke-width="1.2"/>
<text x="62.6" y="420.2" font-size="15.5" text-anchor="end">0.75</text>
<line x1="69.2" y1="393.3" x2="73.8" y2="393.3" stroke="#333" stroke-width="1.2"/>
<text x="62.6" y="398.7" font-size="15.5" text-anchor="end">1.00</text>
<line x1="69.2" y1="371.8" x2="73.8" y2="371.8" stroke="#333" stroke-width="1.2"/>
<text x="62.6" y="377.2" font-size="15.5" text-anchor="end">1.25</text>
<text x="19.6" y="417.6" font-size="18.2" text-anchor="middle" transform="rotate(-90 19.6 417.6) translate(19.6 417.6) scale(1.045 1) translate(-19.6 -417.6)">Pseudotime</text>
<line x1="87.4" y1="484.8" x2="87.4" y2="489.6" stroke="#333" stroke-width="1.2"/>
<text x="93" y="496.4" font-size="18" text-anchor="end" transform="rotate(-90 93 496.4)">Basal</text>
<line x1="114.5" y1="484.8" x2="114.5" y2="489.6" stroke="#333" stroke-width="1.2"/>
<text x="120.1" y="496.4" font-size="18" text-anchor="end" transform="rotate(-90 120.1 496.4)">PC-IM</text>
<line x1="141.7" y1="484.8" x2="141.7" y2="489.6" stroke="#333" stroke-width="1.2"/>
<text x="147.3" y="496.4" font-size="18" text-anchor="end" transform="rotate(-90 147.3 496.4)">EPC-IM</text>
<line x1="169.1" y1="484.8" x2="169.1" y2="489.6" stroke="#333" stroke-width="1.2"/>
<text x="174.7" y="496.4" font-size="18" text-anchor="end" transform="rotate(-90 174.7 496.4)">Lum_Mut</text>
<line x1="196.7" y1="484.8" x2="196.7" y2="489.6" stroke="#333" stroke-width="1.2"/>
<text x="202.3" y="496.4" font-size="18" text-anchor="end" transform="rotate(-90 202.3 496.4)">Lum_L2</text>
<line x1="224.3" y1="484.8" x2="224.3" y2="489.6" stroke="#333" stroke-width="1.2"/>
<text x="229.9" y="496.4" font-size="18" text-anchor="end" transform="rotate(-90 229.9 496.4)">Lum_L1</text>
<path d="M87.4,438C88.6,438 91.6,441.8 92.5,443.1C93.4,444.4 94.9,447.8 95.5,449C96.1,450.2 97.3,452.2 97.7,453.4C98.1,454.6 98.6,458.1 98.6,459.3C98.6,460.5 98.2,462.5 97.9,463.7C97.6,464.9 96.8,468.2 96.3,469.5C95.8,470.8 94.7,473.6 94,474.6C93.3,475.6 91.1,477.8 90.3,478.3C89.5,478.8 88.1,479.4 87.4,479.3C86.7,479.2 84.8,478.6 84,477.8C83.2,477 81,473.7 80.3,472.4C79.6,471.1 78.2,467.8 77.8,466.6C77.4,465.4 76.7,463.1 76.6,462.2C76.5,461.3 77,459.6 77.2,458.6C77.4,457.6 77.7,454.5 77.9,453.4C78.1,452.3 78.8,450.2 79.3,449C79.8,447.8 81.4,444.4 82.3,443.1C83.2,441.8 86.2,438 87.4,438Z" fill="#4a9ad6" stroke="#2a2a2a" stroke-width="1"/>
<line x1="87.4" y1="412" x2="87.4" y2="479" stroke="#222" stroke-width="0.9"/>
<rect x="84.7" y="438" width="5.4" height="41" fill="#050505"/>
<rect x="85.4" y="412" width="4" height="67" fill="#000" opacity="0.3"/>
<g fill="#1a1a1a"><rect x="87.9" y="433.7" width="1.1" height="1.1"/><rect x="88.3" y="416.9" width="1.1" height="1.1"/><rect x="86.6" y="447.9" width="1.1" height="1.1"/><rect x="87.2" y="446" width="1.1" height="1.1"/><rect x="86.4" y="414.5" width="1.1" height="1.1"/><rect x="87" y="418.1" width="1.1" height="1.1"/><rect x="87.1" y="440.4" width="1.1" height="1.1"/><rect x="86.3" y="427" width="1.1" height="1.1"/><rect x="88.4" y="454" width="1.1" height="1.1"/><rect x="86.3" y="438.6" width="1.1" height="1.1"/><rect x="89.2" y="477.4" width="1.1" height="1.1"/><rect x="87.6" y="431.4" width="1.1" height="1.1"/><rect x="87.6" y="421.7" width="1.1" height="1.1"/><rect x="87.6" y="466.7" width="1.1" height="1.1"/><rect x="85.3" y="424.1" width="1.1" height="1.1"/><rect x="86" y="437" width="1.1" height="1.1"/><rect x="87.3" y="448.7" width="1.1" height="1.1"/><rect x="87" y="425.8" width="1.1" height="1.1"/><rect x="85.9" y="457.6" width="1.1" height="1.1"/><rect x="87.3" y="451.2" width="1.1" height="1.1"/><rect x="86.2" y="442.4" width="1.1" height="1.1"/><rect x="89" y="458.8" width="1.1" height="1.1"/><rect x="85.5" y="428.4" width="1.1" height="1.1"/><rect x="86.2" y="470.6" width="1.1" height="1.1"/><rect x="86" y="460.9" width="1.1" height="1.1"/><rect x="90.1" y="419.9" width="1.1" height="1.1"/><rect x="86.9" y="440" width="1.1" height="1.1"/><rect x="86.1" y="444.8" width="1.1" height="1.1"/><rect x="85.8" y="414.6" width="1.1" height="1.1"/><rect x="85" y="450.4" width="1.1" height="1.1"/><rect x="86.1" y="470.7" width="1.1" height="1.1"/><rect x="88.6" y="451.8" width="1.1" height="1.1"/><rect x="84.5" y="450.9" width="1.1" height="1.1"/><rect x="87.5" y="475.3" width="1.1" height="1.1"/><rect x="86.6" y="443.8" width="1.1" height="1.1"/><rect x="86.5" y="459" width="1.1" height="1.1"/><rect x="89.2" y="455.4" width="1.1" height="1.1"/><rect x="86.7" y="431.1" width="1.1" height="1.1"/><rect x="86.7" y="437.8" width="1.1" height="1.1"/><rect x="86.6" y="442.9" width="1.1" height="1.1"/><rect x="87.2" y="423.3" width="1.1" height="1.1"/><rect x="87.1" y="463.5" width="1.1" height="1.1"/><rect x="86.9" y="420.7" width="1.1" height="1.1"/><rect x="88.1" y="470.4" width="1.1" height="1.1"/><rect x="85.4" y="417.4" width="1.1" height="1.1"/><rect x="87.3" y="471.2" width="1.1" height="1.1"/><rect x="87.5" y="466.9" width="1.1" height="1.1"/><rect x="86.1" y="439.8" width="1.1" height="1.1"/><rect x="89.2" y="436" width="1.1" height="1.1"/><rect x="84.8" y="422.1" width="1.1" height="1.1"/><rect x="87" y="423.8" width="1.1" height="1.1"/><rect x="87.8" y="444.5" width="1.1" height="1.1"/><rect x="86.8" y="451.5" width="1.1" height="1.1"/><rect x="87" y="440.1" width="1.1" height="1.1"/><rect x="84" y="436.7" width="1.1" height="1.1"/><rect x="85.6" y="458.3" width="1.1" height="1.1"/><rect x="85.5" y="446.5" width="1.1" height="1.1"/><rect x="85.6" y="415.6" width="1.1" height="1.1"/><rect x="87.3" y="472.3" width="1.1" height="1.1"/><rect x="84.3" y="465.5" width="1.1" height="1.1"/><rect x="86.4" y="438.3" width="1.1" height="1.1"/><rect x="87.2" y="454.5" width="1.1" height="1.1"/><rect x="87.6" y="416.2" width="1.1" height="1.1"/><rect x="87.2" y="422.9" width="1.1" height="1.1"/><rect x="86.9" y="434.8" width="1.1" height="1.1"/><rect x="86.9" y="422.1" width="1.1" height="1.1"/><rect x="86.7" y="418.8" width="1.1" height="1.1"/><rect x="87.1" y="470.6" width="1.1" height="1.1"/><rect x="87.4" y="453.1" width="1.1" height="1.1"/><rect x="87.6" y="435.3" width="1.1" height="1.1"/><rect x="88.6" y="436.4" width="1.1" height="1.1"/><rect x="88.5" y="478.5" width="1.1" height="1.1"/><rect x="86.3" y="443.2" width="1.1" height="1.1"/><rect x="86.9" y="418.8" width="1.1" height="1.1"/><rect x="86.6" y="435" width="1.1" height="1.1"/><rect x="89.2" y="422.8" width="1.1" height="1.1"/><rect x="88.3" y="413.5" width="1.1" height="1.1"/><rect x="86.4" y="421.8" width="1.1" height="1.1"/><rect x="88.4" y="448.4" width="1.1" height="1.1"/><rect x="87.1" y="477.6" width="1.1" height="1.1"/><rect x="86.5" y="469.8" width="1.1" height="1.1"/><rect x="85.9" y="436.6" width="1.1" height="1.1"/><rect x="87.1" y="423.2" width="1.1" height="1.1"/><rect x="85.3" y="464.2" width="1.1" height="1.1"/><rect x="87.2" y="434.1" width="1.1" height="1.1"/><rect x="89.1" y="478" width="1.1" height="1.1"/><rect x="87.6" y="469.1" width="1.1" height="1.1"/><rect x="84.7" y="461.6" width="1.1" height="1.1"/><rect x="85.7" y="427.2" width="1.1" height="1.1"/><rect x="86.7" y="413.9" width="1.1" height="1.1"/><rect x="86.7" y="413.9" width="1.1" height="1.1"/><rect x="87.8" y="458.4" width="1.1" height="1.1"/><rect x="84.1" y="476.1" width="1.1" height="1.1"/><rect x="87.8" y="478.2" width="1.1" height="1.1"/><rect x="86.3" y="476" width="1.1" height="1.1"/><rect x="87.5" y="427.2" width="1.1" height="1.1"/><rect x="87.3" y="425.2" width="1.1" height="1.1"/><rect x="88.5" y="472.3" width="1.1" height="1.1"/><rect x="85" y="468.3" width="1.1" height="1.1"/><rect x="87.1" y="465.6" width="1.1" height="1.1"/><rect x="85.4" y="417.7" width="1.1" height="1.1"/><rect x="84.5" y="464.4" width="1.1" height="1.1"/><rect x="86.1" y="462.3" width="1.1" height="1.1"/><rect x="87" y="464.9" width="1.1" height="1.1"/><rect x="87.9" y="434.3" width="1.1" height="1.1"/><rect x="83.7" y="438.5" width="1.1" height="1.1"/><rect x="88.7" y="438.9" width="1.1" height="1.1"/><rect x="86.2" y="423.4" width="1.1" height="1.1"/><rect x="88.4" y="420.5" width="1.1" height="1.1"/><rect x="89.1" y="466" width="1.1" height="1.1"/><rect x="88.5" y="421.8" width="1.1" height="1.1"/><rect x="83.7" y="456" width="1.1" height="1.1"/><rect x="86.2" y="435.5" width="1.1" height="1.1"/><rect x="86.7" y="413" width="1.1" height="1.1"/><rect x="85.9" y="477" width="1.1" height="1.1"/><rect x="85.6" y="474.6" width="1.1" height="1.1"/><rect x="88.5" y="441.1" width="1.1" height="1.1"/><rect x="85.2" y="426.1" width="1.1" height="1.1"/><rect x="86.6" y="428.9" width="1.1" height="1.1"/><rect x="87.7" y="451.3" width="1.1" height="1.1"/><rect x="86.3" y="429.4" width="1.1" height="1.1"/><rect x="87.2" y="473" width="1.1" height="1.1"/><rect x="85.3" y="435.7" width="1.1" height="1.1"/><rect x="87.3" y="472.6" width="1.1" height="1.1"/><rect x="88.1" y="440.2" width="1.1" height="1.1"/><rect x="86.1" y="447.6" width="1.1" height="1.1"/><rect x="88.2" y="447.1" width="1.1" height="1.1"/><rect x="87" y="424.3" width="1.1" height="1.1"/><rect x="87.1" y="412.3" width="1.1" height="1.1"/><rect x="86.1" y="443.7" width="1.1" height="1.1"/><rect x="85.8" y="460.6" width="1.1" height="1.1"/><rect x="86.5" y="446.7" width="1.1" height="1.1"/><rect x="87" y="449.2" width="1.1" height="1.1"/><rect x="86.3" y="449.5" width="1.1" height="1.1"/><rect x="86.5" y="428.6" width="1.1" height="1.1"/><rect x="89" y="446" width="1.1" height="1.1"/><rect x="87" y="449.6" width="1.1" height="1.1"/><rect x="84.1" y="441.7" width="1.1" height="1.1"/><rect x="85.4" y="453" width="1.1" height="1.1"/><rect x="86.8" y="458.4" width="1.1" height="1.1"/><rect x="85.5" y="442.3" width="1.1" height="1.1"/><rect x="86.6" y="475.1" width="1.1" height="1.1"/><rect x="89" y="458.8" width="1.1" height="1.1"/><rect x="84.8" y="429.4" width="1.1" height="1.1"/><rect x="89.1" y="449.5" width="1.1" height="1.1"/><rect x="86" y="421.2" width="1.1" height="1.1"/><rect x="86.4" y="420.1" width="1.1" height="1.1"/></g>
<path d="M115.1,402.5C116.1,402.5 118.4,404.9 119.5,406C120.6,407.1 123.6,410.5 124.3,412C125,413.5 125.5,417 125.6,418.5C125.7,420 125.7,423.4 125.3,425C124.9,426.6 123.4,430.5 122.5,432C121.6,433.5 118.9,436.5 118,437.5C117.1,438.5 115.7,440.2 115,440.2C114.3,440.2 112.9,438.5 112,437.5C111.1,436.5 108.4,433.5 107.5,432C106.6,430.5 105.1,426.6 104.7,425C104.3,423.4 104.3,420 104.4,418.5C104.5,417 105,413.5 105.7,412C106.4,410.5 109.5,407.1 110.6,406C111.7,404.9 114.1,402.5 115.1,402.5Z" fill="#1a9442" stroke="#2a2a2a" stroke-width="1"/>
<line x1="114.6" y1="403" x2="114.6" y2="472.5" stroke="#222" stroke-width="0.9"/>
<rect x="112.4" y="403" width="4.4" height="42" fill="#050505"/>
<rect x="112.6" y="403" width="4" height="69.5" fill="#000" opacity="0.3"/>
<g fill="#1a1a1a"><rect x="114.2" y="419.7" width="1.1" height="1.1"/><rect x="113" y="408.1" width="1.1" height="1.1"/><rect x="112.1" y="465.3" width="1.1" height="1.1"/><rect x="113.7" y="413.7" width="1.1" height="1.1"/><rect x="112.3" y="412.9" width="1.1" height="1.1"/><rect x="114.9" y="464.4" width="1.1" height="1.1"/><rect x="113.9" y="469.2" width="1.1" height="1.1"/><rect x="110.8" y="430.7" width="1.1" height="1.1"/><rect x="114.4" y="460.9" width="1.1" height="1.1"/><rect x="112.7" y="414.2" width="1.1" height="1.1"/><rect x="114.7" y="426.6" width="1.1" height="1.1"/><rect x="113.2" y="416.6" width="1.1" height="1.1"/><rect x="115.9" y="404.4" width="1.1" height="1.1"/><rect x="113.8" y="441.5" width="1.1" height="1.1"/><rect x="114.1" y="426" width="1.1" height="1.1"/><rect x="113.6" y="446.4" width="1.1" height="1.1"/><rect x="114" y="471.5" width="1.1" height="1.1"/><rect x="114.6" y="457.8" width="1.1" height="1.1"/><rect x="113.9" y="421.5" width="1.1" height="1.1"/><rect x="114.2" y="405.8" width="1.1" height="1.1"/><rect x="113.1" y="412" width="1.1" height="1.1"/><rect x="116" y="432.3" width="1.1" height="1.1"/><rect x="112.8" y="421" width="1.1" height="1.1"/><rect x="115.5" y="413.4" width="1.1" height="1.1"/><rect x="113.3" y="451.7" width="1.1" height="1.1"/><rect x="115.8" y="409.2" width="1.1" height="1.1"/><rect x="114.7" y="432.6" width="1.1" height="1.1"/><rect x="115.7" y="408" width="1.1" height="1.1"/><rect x="113.4" y="458.7" width="1.1" height="1.1"/><rect x="114.3" y="408.8" width="1.1" height="1.1"/><rect x="113.7" y="463" width="1.1" height="1.1"/><rect x="113.2" y="434.5" width="1.1" height="1.1"/><rect x="115.4" y="467.4" width="1.1" height="1.1"/><rect x="115.1" y="421.6" width="1.1" height="1.1"/><rect x="115.2" y="419.6" width="1.1" height="1.1"/><rect x="114.3" y="410.6" width="1.1" height="1.1"/><rect x="114.4" y="417" width="1.1" height="1.1"/><rect x="113.3" y="424.7" width="1.1" height="1.1"/><rect x="116" y="423.2" width="1.1" height="1.1"/><rect x="114.6" y="437.8" width="1.1" height="1.1"/><rect x="115.1" y="404.3" width="1.1" height="1.1"/><rect x="116.1" y="420.4" width="1.1" height="1.1"/><rect x="114.2" y="441.3" width="1.1" height="1.1"/><rect x="111.2" y="416.2" width="1.1" height="1.1"/><rect x="114.5" y="410.4" width="1.1" height="1.1"/><rect x="112.7" y="459.9" width="1.1" height="1.1"/><rect x="114.7" y="461" width="1.1" height="1.1"/><rect x="112.1" y="430.3" width="1.1" height="1.1"/><rect x="114" y="471.3" width="1.1" height="1.1"/><rect x="115" y="426.8" width="1.1" height="1.1"/><rect x="112.3" y="447.2" width="1.1" height="1.1"/><rect x="113.8" y="431.1" width="1.1" height="1.1"/><rect x="114.4" y="412" width="1.1" height="1.1"/><rect x="114" y="407.9" width="1.1" height="1.1"/><rect x="113.1" y="414.3" width="1.1" height="1.1"/><rect x="115.4" y="408.9" width="1.1" height="1.1"/><rect x="111.9" y="449.6" width="1.1" height="1.1"/><rect x="114.1" y="422.6" width="1.1" height="1.1"/><rect x="115.1" y="434.9" width="1.1" height="1.1"/><rect x="113.1" y="413.9" width="1.1" height="1.1"/><rect x="114.4" y="469.8" width="1.1" height="1.1"/><rect x="113.2" y="470.6" width="1.1" height="1.1"/><rect x="113.8" y="470.1" width="1.1" height="1.1"/><rect x="114" y="424.5" width="1.1" height="1.1"/><rect x="114.1" y="429.5" width="1.1" height="1.1"/><rect x="113.2" y="436" width="1.1" height="1.1"/><rect x="114" y="438.1" width="1.1" height="1.1"/><rect x="114" y="403.3" width="1.1" height="1.1"/><rect x="114.6" y="430.8" width="1.1" height="1.1"/><rect x="115.1" y="405.9" width="1.1" height="1.1"/><rect x="114.2" y="419.2" width="1.1" height="1.1"/><rect x="112" y="443.7" width="1.1" height="1.1"/><rect x="113.7" y="448.7" width="1.1" height="1.1"/><rect x="115" y="452.8" width="1.1" height="1.1"/><rect x="113.2" y="425.7" width="1.1" height="1.1"/><rect x="115.2" y="471.4" width="1.1" height="1.1"/><rect x="115.7" y="447.7" width="1.1" height="1.1"/><rect x="115.4" y="406" width="1.1" height="1.1"/><rect x="111.8" y="446.6" width="1.1" height="1.1"/><rect x="114.3" y="454" width="1.1" height="1.1"/><rect x="113.4" y="439.4" width="1.1" height="1.1"/><rect x="115.2" y="438.1" width="1.1" height="1.1"/><rect x="112.1" y="460.4" width="1.1" height="1.1"/><rect x="115.5" y="443.6" width="1.1" height="1.1"/><rect x="112.9" y="451.2" width="1.1" height="1.1"/><rect x="114.7" y="419" width="1.1" height="1.1"/><rect x="114.2" y="428.1" width="1.1" height="1.1"/><rect x="114.9" y="410.3" width="1.1" height="1.1"/><rect x="112.7" y="446.6" width="1.1" height="1.1"/><rect x="113.4" y="446.5" width="1.1" height="1.1"/><rect x="112.7" y="403.2" width="1.1" height="1.1"/><rect x="114" y="458.4" width="1.1" height="1.1"/><rect x="112.6" y="440.2" width="1.1" height="1.1"/><rect x="115.9" y="448.8" width="1.1" height="1.1"/><rect x="114.9" y="420.5" width="1.1" height="1.1"/><rect x="113.9" y="408.2" width="1.1" height="1.1"/><rect x="116.1" y="417.3" width="1.1" height="1.1"/><rect x="115.5" y="454.4" width="1.1" height="1.1"/><rect x="113.8" y="429.6" width="1.1" height="1.1"/><rect x="113.2" y="436.3" width="1.1" height="1.1"/><rect x="112.1" y="445.9" width="1.1" height="1.1"/><rect x="114.7" y="447.7" width="1.1" height="1.1"/><rect x="114.4" y="420.6" width="1.1" height="1.1"/><rect x="113.5" y="454.7" width="1.1" height="1.1"/><rect x="115.6" y="403.9" width="1.1" height="1.1"/><rect x="113.8" y="407.2" width="1.1" height="1.1"/><rect x="115.9" y="451.1" width="1.1" height="1.1"/><rect x="113.7" y="450" width="1.1" height="1.1"/><rect x="115.5" y="435.3" width="1.1" height="1.1"/><rect x="116" y="435.4" width="1.1" height="1.1"/><rect x="115.8" y="416.8" width="1.1" height="1.1"/><rect x="114.3" y="471" width="1.1" height="1.1"/><rect x="114" y="434.9" width="1.1" height="1.1"/><rect x="115.4" y="460" width="1.1" height="1.1"/><rect x="113.8" y="421.7" width="1.1" height="1.1"/><rect x="114.9" y="417.6" width="1.1" height="1.1"/><rect x="113.8" y="443.4" width="1.1" height="1.1"/><rect x="111" y="412.9" width="1.1" height="1.1"/><rect x="113.6" y="412.2" width="1.1" height="1.1"/><rect x="111.4" y="460" width="1.1" height="1.1"/><rect x="113.9" y="451.9" width="1.1" height="1.1"/><rect x="115.2" y="419.1" width="1.1" height="1.1"/><rect x="113.2" y="404.7" width="1.1" height="1.1"/><rect x="112.7" y="403.2" width="1.1" height="1.1"/><rect x="114.1" y="424" width="1.1" height="1.1"/><rect x="113.4" y="412.8" width="1.1" height="1.1"/><rect x="115" y="461.4" width="1.1" height="1.1"/><rect x="114.1" y="403.1" width="1.1" height="1.1"/><rect x="111.7" y="411.3" width="1.1" height="1.1"/><rect x="113.4" y="467.4" width="1.1" height="1.1"/><rect x="111.4" y="423.1" width="1.1" height="1.1"/><rect x="110.8" y="428.9" width="1.1" height="1.1"/><rect x="116.9" y="443.9" width="1.1" height="1.1"/><rect x="113.1" y="428.1" width="1.1" height="1.1"/><rect x="114.5" y="406.4" width="1.1" height="1.1"/><rect x="114.6" y="410.1" width="1.1" height="1.1"/><rect x="113.2" y="468" width="1.1" height="1.1"/><rect x="113.9" y="420.3" width="1.1" height="1.1"/><rect x="115.5" y="416.2" width="1.1" height="1.1"/><rect x="116.5" y="428.9" width="1.1" height="1.1"/><rect x="113.3" y="459.4" width="1.1" height="1.1"/><rect x="116.6" y="446.8" width="1.1" height="1.1"/><rect x="112.5" y="441.2" width="1.1" height="1.1"/><rect x="116" y="453" width="1.1" height="1.1"/><rect x="114.7" y="434.3" width="1.1" height="1.1"/><rect x="113.4" y="455.3" width="1.1" height="1.1"/><rect x="113.2" y="406.4" width="1.1" height="1.1"/><rect x="115" y="467.4" width="1.1" height="1.1"/><rect x="115.1" y="426.9" width="1.1" height="1.1"/><rect x="113.8" y="423.7" width="1.1" height="1.1"/><rect x="110.8" y="421.1" width="1.1" height="1.1"/><rect x="113.5" y="448.6" width="1.1" height="1.1"/></g>
<path d="M141.9,398.8C143,398.6 144.9,401.4 146,402.5C147.1,403.6 150.2,407.1 151,408.5C151.8,409.9 153.2,413.3 153.2,414.8C153.2,416.3 152,420 151.2,421.5C150.4,423 147.3,426.7 146.2,428C145.1,429.3 142.9,433 141.9,433C140.9,433 138.7,429.3 137.6,428C136.5,426.7 133.7,423.3 132.9,422C132.1,420.7 131.1,417.9 131.1,416.6C131.1,415.3 131.9,412.2 132.6,410.8C133.3,409.4 135.9,405.7 137,404.3C138.1,402.9 140.8,399 141.9,398.8Z" fill="#dc4a48" stroke="#2a2a2a" stroke-width="1"/>
<line x1="141.8" y1="370" x2="141.8" y2="472.5" stroke="#222" stroke-width="0.9"/>
<rect x="139.5" y="398" width="4.6" height="42" fill="#050505"/>
<rect x="139.8" y="370" width="4" height="102.5" fill="#000" opacity="0.3"/>
<g fill="#1a1a1a"><rect x="142.8" y="410.4" width="1.1" height="1.1"/><rect x="141.7" y="387.2" width="1.1" height="1.1"/><rect x="142" y="462.9" width="1.1" height="1.1"/><rect x="141.8" y="421" width="1.1" height="1.1"/><rect x="143.9" y="472.1" width="1.1" height="1.1"/><rect x="141.8" y="416.1" width="1.1" height="1.1"/><rect x="141.9" y="379.3" width="1.1" height="1.1"/><rect x="142" y="405.1" width="1.1" height="1.1"/><rect x="141.8" y="396.5" width="1.1" height="1.1"/><rect x="142.8" y="428.4" width="1.1" height="1.1"/><rect x="139.9" y="412.3" width="1.1" height="1.1"/><rect x="140" y="412.4" width="1.1" height="1.1"/><rect x="141.1" y="404.7" width="1.1" height="1.1"/><rect x="140.7" y="376.4" width="1.1" height="1.1"/><rect x="144.4" y="382.9" width="1.1" height="1.1"/><rect x="139.5" y="421.6" width="1.1" height="1.1"/><rect x="139.4" y="392.1" width="1.1" height="1.1"/><rect x="141.3" y="397.8" width="1.1" height="1.1"/><rect x="142.5" y="415.7" width="1.1" height="1.1"/><rect x="142.7" y="467.8" width="1.1" height="1.1"/><rect x="139.2" y="372.2" width="1.1" height="1.1"/><rect x="140.6" y="373.3" width="1.1" height="1.1"/><rect x="138.7" y="418.5" width="1.1" height="1.1"/><rect x="142.5" y="430.2" width="1.1" height="1.1"/><rect x="141.3" y="465" width="1.1" height="1.1"/><rect x="143.3" y="454.6" width="1.1" height="1.1"/><rect x="138.6" y="395.5" width="1.1" height="1.1"/><rect x="142.1" y="381.2" width="1.1" height="1.1"/><rect x="142.5" y="439.9" width="1.1" height="1.1"/><rect x="140.9" y="466.5" width="1.1" height="1.1"/><rect x="139.5" y="448.4" width="1.1" height="1.1"/><rect x="140.9" y="416.9" width="1.1" height="1.1"/><rect x="141.1" y="450.2" width="1.1" height="1.1"/><rect x="142.8" y="393.8" width="1.1" height="1.1"/><rect x="140.4" y="401.1" width="1.1" height="1.1"/><rect x="141.2" y="383.1" width="1.1" height="1.1"/><rect x="143" y="441.6" width="1.1" height="1.1"/><rect x="142.6" y="381.5" width="1.1" height="1.1"/><rect x="141.9" y="429.7" width="1.1" height="1.1"/><rect x="141.5" y="409.8" width="1.1" height="1.1"/><rect x="142.9" y="371.1" width="1.1" height="1.1"/><rect x="138.2" y="400.9" width="1.1" height="1.1"/><rect x="142" y="436.1" width="1.1" height="1.1"/><rect x="140.3" y="460.6" width="1.1" height="1.1"/><rect x="141.4" y="395.3" width="1.1" height="1.1"/><rect x="140.9" y="468.5" width="1.1" height="1.1"/><rect x="140.2" y="372.2" width="1.1" height="1.1"/><rect x="140.7" y="421.1" width="1.1" height="1.1"/><rect x="140.1" y="396.4" width="1.1" height="1.1"/><rect x="142" y="438.4" width="1.1" height="1.1"/><rect x="140.8" y="373.5" width="1.1" height="1.1"/><rect x="139.6" y="404.7" width="1.1" height="1.1"/><rect x="142.2" y="390.3" width="1.1" height="1.1"/><rect x="141.1" y="451.7" width="1.1" height="1.1"/><rect x="139.8" y="391" width="1.1" height="1.1"/><rect x="140.4" y="469.4" width="1.1" height="1.1"/><rect x="143.4" y="393.7" width="1.1" height="1.1"/><rect x="141.3" y="392.7" width="1.1" height="1.1"/><rect x="140.2" y="467.6" width="1.1" height="1.1"/><rect x="141.6" y="420.8" width="1.1" height="1.1"/><rect x="142.1" y="412.7" width="1.1" height="1.1"/><rect x="141.9" y="438.2" width="1.1" height="1.1"/><rect x="141" y="410.3" width="1.1" height="1.1"/><rect x="141.9" y="391.8" width="1.1" height="1.1"/><rect x="141.1" y="375.3" width="1.1" height="1.1"/><rect x="139.2" y="376.2" width="1.1" height="1.1"/><rect x="142.9" y="460.6" width="1.1" height="1.1"/><rect x="144.1" y="445.1" width="1.1" height="1.1"/><rect x="141.2" y="403.7" width="1.1" height="1.1"/><rect x="143.2" y="389" width="1.1" height="1.1"/><rect x="140.4" y="373.3" width="1.1" height="1.1"/><rect x="140.4" y="438.1" width="1.1" height="1.1"/><rect x="142.1" y="404" width="1.1" height="1.1"/><rect x="142.3" y="387.3" width="1.1" height="1.1"/><rect x="141.3" y="406" width="1.1" height="1.1"/><rect x="143.6" y="467.9" width="1.1" height="1.1"/><rect x="143.5" y="391.3" width="1.1" height="1.1"/><rect x="142.3" y="406.6" width="1.1" height="1.1"/><rect x="139.2" y="414.3" width="1.1" height="1.1"/><rect x="140.1" y="375" width="1.1" height="1.1"/><rect x="141.5" y="464.2" width="1.1" height="1.1"/><rect x="139.5" y="389.8" width="1.1" height="1.1"/><rect x="143.3" y="373.1" width="1.1" height="1.1"/><rect x="142.1" y="412.1" width="1.1" height="1.1"/><rect x="139.3" y="374.2" width="1.1" height="1.1"/><rect x="143.8" y="373.6" width="1.1" height="1.1"/><rect x="142.3" y="396.3" width="1.1" height="1.1"/><rect x="142.2" y="446.6" width="1.1" height="1.1"/><rect x="140.6" y="397.9" width="1.1" height="1.1"/><rect x="140.5" y="468.2" width="1.1" height="1.1"/><rect x="140.6" y="443.5" width="1.1" height="1.1"/><rect x="141.2" y="402.4" width="1.1" height="1.1"/><rect x="141.4" y="447.5" width="1.1" height="1.1"/><rect x="139.3" y="463.9" width="1.1" height="1.1"/><rect x="139" y="372.5" width="1.1" height="1.1"/><rect x="138.2" y="394" width="1.1" height="1.1"/><rect x="141.7" y="467.8" width="1.1" height="1.1"/><rect x="141.2" y="409.6" width="1.1" height="1.1"/><rect x="142.6" y="420.6" width="1.1" height="1.1"/><rect x="142.2" y="465.1" width="1.1" height="1.1"/><rect x="143.3" y="445.7" width="1.1" height="1.1"/><rect x="141.5" y="454.3" width="1.1" height="1.1"/><rect x="139.6" y="403.6" width="1.1" height="1.1"/><rect x="139.8" y="402.8" width="1.1" height="1.1"/><rect x="142.9" y="378.1" width="1.1" height="1.1"/><rect x="141.3" y="390.2" width="1.1" height="1.1"/><rect x="140.3" y="376.6" width="1.1" height="1.1"/><rect x="140.2" y="373.5" width="1.1" height="1.1"/><rect x="140.9" y="470.5" width="1.1" height="1.1"/><rect x="142.2" y="460.6" width="1.1" height="1.1"/><rect x="141.2" y="378.6" width="1.1" height="1.1"/><rect x="139.3" y="379.9" width="1.1" height="1.1"/><rect x="141.3" y="415.8" width="1.1" height="1.1"/><rect x="139.7" y="394" width="1.1" height="1.1"/><rect x="142.1" y="439.1" width="1.1" height="1.1"/><rect x="142.3" y="446.7" width="1.1" height="1.1"/><rect x="139.7" y="382.4" width="1.1" height="1.1"/><rect x="140.8" y="456.2" width="1.1" height="1.1"/><rect x="142.8" y="408.2" width="1.1" height="1.1"/><rect x="141.5" y="445.7" width="1.1" height="1.1"/><rect x="142.1" y="395.1" width="1.1" height="1.1"/><rect x="142.5" y="385.7" width="1.1" height="1.1"/><rect x="140.2" y="403.4" width="1.1" height="1.1"/><rect x="142.7" y="410.6" width="1.1" height="1.1"/><rect x="141.2" y="393.7" width="1.1" height="1.1"/><rect x="139.1" y="452.9" width="1.1" height="1.1"/><rect x="138.1" y="380.5" width="1.1" height="1.1"/><rect x="142.3" y="418.7" width="1.1" height="1.1"/><rect x="139.1" y="463.7" width="1.1" height="1.1"/><rect x="141.1" y="374.1" width="1.1" height="1.1"/><rect x="141.9" y="389.4" width="1.1" height="1.1"/><rect x="138.8" y="469.7" width="1.1" height="1.1"/><rect x="139.8" y="408.2" width="1.1" height="1.1"/><rect x="140.3" y="458.8" width="1.1" height="1.1"/><rect x="141.6" y="449.7" width="1.1" height="1.1"/><rect x="142.6" y="466.9" width="1.1" height="1.1"/><rect x="142.3" y="433.5" width="1.1" height="1.1"/><rect x="140.8" y="392.3" width="1.1" height="1.1"/><rect x="141.8" y="390.9" width="1.1" height="1.1"/><rect x="139.8" y="396.1" width="1.1" height="1.1"/><rect x="140.2" y="390.9" width="1.1" height="1.1"/><rect x="140.4" y="371.2" width="1.1" height="1.1"/><rect x="142.9" y="389" width="1.1" height="1.1"/><rect x="141.9" y="402" width="1.1" height="1.1"/><rect x="143.4" y="426.2" width="1.1" height="1.1"/><rect x="142.3" y="376.5" width="1.1" height="1.1"/><rect x="142" y="426.4" width="1.1" height="1.1"/><rect x="141.9" y="435.5" width="1.1" height="1.1"/><rect x="141.7" y="441.3" width="1.1" height="1.1"/><rect x="141" y="412" width="1.1" height="1.1"/><rect x="142.3" y="467.7" width="1.1" height="1.1"/><rect x="140.2" y="402" width="1.1" height="1.1"/><rect x="140.8" y="412.7" width="1.1" height="1.1"/><rect x="142.4" y="458.6" width="1.1" height="1.1"/><rect x="141.2" y="390.2" width="1.1" height="1.1"/><rect x="141.3" y="444.6" width="1.1" height="1.1"/><rect x="141.4" y="462.4" width="1.1" height="1.1"/><rect x="141.8" y="413.4" width="1.1" height="1.1"/><rect x="140.1" y="460.5" width="1.1" height="1.1"/><rect x="141.4" y="417.2" width="1.1" height="1.1"/><rect x="141.4" y="426.5" width="1.1" height="1.1"/><rect x="141.7" y="435.7" width="1.1" height="1.1"/><rect x="141" y="433.8" width="1.1" height="1.1"/><rect x="140.5" y="408" width="1.1" height="1.1"/><rect x="141.2" y="399" width="1.1" height="1.1"/><rect x="141.8" y="423.4" width="1.1" height="1.1"/><rect x="141" y="420.3" width="1.1" height="1.1"/><rect x="142.1" y="452.5" width="1.1" height="1.1"/><rect x="141.1" y="383" width="1.1" height="1.1"/><rect x="142.7" y="466.7" width="1.1" height="1.1"/><rect x="141" y="375.5" width="1.1" height="1.1"/><rect x="139.2" y="464.9" width="1.1" height="1.1"/><rect x="143" y="433.6" width="1.1" height="1.1"/><rect x="142.4" y="454.5" width="1.1" height="1.1"/><rect x="143.1" y="392.8" width="1.1" height="1.1"/><rect x="142.6" y="411.5" width="1.1" height="1.1"/><rect x="139.3" y="388.8" width="1.1" height="1.1"/><rect x="140" y="392.4" width="1.1" height="1.1"/><rect x="142.1" y="409.3" width="1.1" height="1.1"/><rect x="141.3" y="382.6" width="1.1" height="1.1"/><rect x="143.3" y="462" width="1.1" height="1.1"/><rect x="139.3" y="374.2" width="1.1" height="1.1"/><rect x="140.4" y="373.9" width="1.1" height="1.1"/><rect x="142.5" y="455.9" width="1.1" height="1.1"/><rect x="142.4" y="426.4" width="1.1" height="1.1"/><rect x="140.8" y="434.3" width="1.1" height="1.1"/><rect x="142.5" y="429.7" width="1.1" height="1.1"/><rect x="140.5" y="413.6" width="1.1" height="1.1"/><rect x="140.1" y="414.9" width="1.1" height="1.1"/><rect x="140.2" y="372.4" width="1.1" height="1.1"/><rect x="140.3" y="394.1" width="1.1" height="1.1"/><rect x="141.5" y="448.3" width="1.1" height="1.1"/><rect x="139.9" y="388.4" width="1.1" height="1.1"/><rect x="141.8" y="418.5" width="1.1" height="1.1"/><rect x="141.7" y="414.1" width="1.1" height="1.1"/><rect x="139.9" y="379.4" width="1.1" height="1.1"/><rect x="141.8" y="374.2" width="1.1" height="1.1"/><rect x="143" y="435.2" width="1.1" height="1.1"/><rect x="142.3" y="449.7" width="1.1" height="1.1"/><rect x="142.6" y="422.4" width="1.1" height="1.1"/><rect x="141.7" y="408.7" width="1.1" height="1.1"/><rect x="142.9" y="467.5" width="1.1" height="1.1"/><rect x="143.1" y="472.1" width="1.1" height="1.1"/><rect x="141.6" y="445" width="1.1" height="1.1"/><rect x="140.5" y="470.6" width="1.1" height="1.1"/><rect x="143.9" y="420.4" width="1.1" height="1.1"/><rect x="140.5" y="386.9" width="1.1" height="1.1"/><rect x="141.7" y="450.8" width="1.1" height="1.1"/><rect x="141.1" y="406" width="1.1" height="1.1"/><rect x="142.7" y="447.5" width="1.1" height="1.1"/><rect x="143.5" y="398.2" width="1.1" height="1.1"/><rect x="142.2" y="453.6" width="1.1" height="1.1"/><rect x="142.4" y="464.3" width="1.1" height="1.1"/><rect x="141.1" y="391.4" width="1.1" height="1.1"/><rect x="142.7" y="402.7" width="1.1" height="1.1"/><rect x="141.6" y="373.8" width="1.1" height="1.1"/><rect x="141.9" y="466" width="1.1" height="1.1"/><rect x="141.9" y="439.7" width="1.1" height="1.1"/><rect x="140.8" y="450.4" width="1.1" height="1.1"/><rect x="139.5" y="381.8" width="1.1" height="1.1"/><rect x="140.9" y="406.9" width="1.1" height="1.1"/><rect x="139.7" y="459.5" width="1.1" height="1.1"/><rect x="140.7" y="460.5" width="1.1" height="1.1"/><rect x="143" y="380.7" width="1.1" height="1.1"/><rect x="141.2" y="410.4" width="1.1" height="1.1"/></g>
<path d="M170.5,394.6C171.5,394.7 174.2,396.2 175.3,397C176.4,397.8 179.5,400.7 180.2,401.6C180.9,402.5 181.3,403.8 180.9,405C180.5,406.2 177.6,409.8 176.5,411.5C175.4,413.2 172.5,418.4 171.7,419.7C170.9,421 170,422.6 169.3,422.4C168.6,422.2 166.7,419.2 165.7,417.6C164.7,416 161.8,410.7 160.9,409.1C160,407.5 158.2,405.4 158.3,404.3C158.4,403.2 161.1,400.5 162.1,399.5C163.1,398.5 165.9,396.4 166.9,395.8C167.9,395.2 169.5,394.5 170.5,394.6Z" fill="#f2aecb" stroke="#2a2a2a" stroke-width="1"/>
<line x1="169.3" y1="378" x2="169.3" y2="464.5" stroke="#222" stroke-width="0.9"/>
<rect x="167" y="394" width="4.6" height="38" fill="#050505"/>
<rect x="167.3" y="378" width="4" height="86.5" fill="#000" opacity="0.3"/>
<g fill="#1a1a1a"><rect x="168.4" y="447" width="1.1" height="1.1"/><rect x="171.9" y="427.9" width="1.1" height="1.1"/><rect x="168.9" y="409.2" width="1.1" height="1.1"/><rect x="167.4" y="393.3" width="1.1" height="1.1"/><rect x="171" y="442.3" width="1.1" height="1.1"/><rect x="169.4" y="399.9" width="1.1" height="1.1"/><rect x="170.4" y="433.3" width="1.1" height="1.1"/><rect x="168.6" y="435.4" width="1.1" height="1.1"/><rect x="169.1" y="405" width="1.1" height="1.1"/><rect x="168.8" y="390.9" width="1.1" height="1.1"/><rect x="167.4" y="431.3" width="1.1" height="1.1"/><rect x="169.4" y="455.5" width="1.1" height="1.1"/><rect x="169" y="389.4" width="1.1" height="1.1"/><rect x="170.6" y="379.9" width="1.1" height="1.1"/><rect x="168.4" y="378.2" width="1.1" height="1.1"/><rect x="169.2" y="408.9" width="1.1" height="1.1"/><rect x="167.3" y="397.4" width="1.1" height="1.1"/><rect x="167.9" y="395.7" width="1.1" height="1.1"/><rect x="168.1" y="432" width="1.1" height="1.1"/><rect x="168.9" y="459" width="1.1" height="1.1"/><rect x="169.1" y="399.1" width="1.1" height="1.1"/><rect x="169.2" y="433.2" width="1.1" height="1.1"/><rect x="169" y="453.4" width="1.1" height="1.1"/><rect x="167.5" y="400.9" width="1.1" height="1.1"/><rect x="167.8" y="379" width="1.1" height="1.1"/><rect x="167.5" y="408.3" width="1.1" height="1.1"/><rect x="166" y="433.8" width="1.1" height="1.1"/><rect x="169.8" y="441.4" width="1.1" height="1.1"/><rect x="169.1" y="399.5" width="1.1" height="1.1"/><rect x="168.5" y="424" width="1.1" height="1.1"/><rect x="168.8" y="413.1" width="1.1" height="1.1"/><rect x="169.2" y="445.4" width="1.1" height="1.1"/><rect x="165.9" y="379.1" width="1.1" height="1.1"/><rect x="167.8" y="390.3" width="1.1" height="1.1"/><rect x="167.6" y="395.3" width="1.1" height="1.1"/><rect x="167.8" y="433.5" width="1.1" height="1.1"/><rect x="169.2" y="448.4" width="1.1" height="1.1"/><rect x="169.7" y="404" width="1.1" height="1.1"/><rect x="170.4" y="382.2" width="1.1" height="1.1"/><rect x="167.4" y="439.9" width="1.1" height="1.1"/><rect x="169.9" y="378.5" width="1.1" height="1.1"/><rect x="167" y="418.2" width="1.1" height="1.1"/><rect x="167.9" y="442.2" width="1.1" height="1.1"/><rect x="169" y="387.1" width="1.1" height="1.1"/><rect x="169.8" y="398.1" width="1.1" height="1.1"/><rect x="169" y="442.8" width="1.1" height="1.1"/><rect x="169.9" y="438.1" width="1.1" height="1.1"/><rect x="167.1" y="401" width="1.1" height="1.1"/><rect x="166.7" y="425.9" width="1.1" height="1.1"/><rect x="169.6" y="423.3" width="1.1" height="1.1"/><rect x="166.7" y="400.9" width="1.1" height="1.1"/><rect x="166.2" y="396.8" width="1.1" height="1.1"/><rect x="169.7" y="454.1" width="1.1" height="1.1"/><rect x="168.8" y="398.4" width="1.1" height="1.1"/><rect x="170.7" y="442.3" width="1.1" height="1.1"/><rect x="168" y="406.3" width="1.1" height="1.1"/><rect x="168.3" y="454.1" width="1.1" height="1.1"/><rect x="169.6" y="456.5" width="1.1" height="1.1"/><rect x="168.1" y="432.6" width="1.1" height="1.1"/><rect x="167" y="462.7" width="1.1" height="1.1"/><rect x="169.8" y="418.6" width="1.1" height="1.1"/><rect x="167.1" y="452.2" width="1.1" height="1.1"/><rect x="168.5" y="415.8" width="1.1" height="1.1"/><rect x="167.1" y="404.6" width="1.1" height="1.1"/><rect x="168.4" y="396.3" width="1.1" height="1.1"/><rect x="168.4" y="456.8" width="1.1" height="1.1"/><rect x="169.3" y="390.5" width="1.1" height="1.1"/><rect x="168.8" y="458.4" width="1.1" height="1.1"/><rect x="168.9" y="407.8" width="1.1" height="1.1"/><rect x="169" y="381.6" width="1.1" height="1.1"/><rect x="167.5" y="437.9" width="1.1" height="1.1"/><rect x="167.3" y="441.7" width="1.1" height="1.1"/><rect x="167.7" y="383.7" width="1.1" height="1.1"/><rect x="168.1" y="448.7" width="1.1" height="1.1"/><rect x="169.1" y="448.9" width="1.1" height="1.1"/><rect x="168.5" y="453.1" width="1.1" height="1.1"/><rect x="169.3" y="457.1" width="1.1" height="1.1"/><rect x="168.5" y="395.8" width="1.1" height="1.1"/><rect x="171.1" y="387.7" width="1.1" height="1.1"/><rect x="169.3" y="448.2" width="1.1" height="1.1"/><rect x="169.6" y="432.9" width="1.1" height="1.1"/><rect x="167.2" y="402.9" width="1.1" height="1.1"/><rect x="170.5" y="386.6" width="1.1" height="1.1"/><rect x="170" y="395.7" width="1.1" height="1.1"/><rect x="168.5" y="405.6" width="1.1" height="1.1"/><rect x="168.9" y="400.2" width="1.1" height="1.1"/><rect x="168.5" y="402.4" width="1.1" height="1.1"/><rect x="167.6" y="405.8" width="1.1" height="1.1"/><rect x="166.3" y="461.4" width="1.1" height="1.1"/><rect x="168.7" y="431.5" width="1.1" height="1.1"/><rect x="167.6" y="380.7" width="1.1" height="1.1"/><rect x="169.4" y="444.9" width="1.1" height="1.1"/><rect x="168.3" y="408" width="1.1" height="1.1"/><rect x="167.3" y="396.7" width="1.1" height="1.1"/><rect x="170.7" y="452.6" width="1.1" height="1.1"/><rect x="170" y="392.7" width="1.1" height="1.1"/><rect x="169.4" y="378.1" width="1.1" height="1.1"/><rect x="170.8" y="462.6" width="1.1" height="1.1"/><rect x="167.3" y="378.4" width="1.1" height="1.1"/><rect x="168.8" y="446.9" width="1.1" height="1.1"/><rect x="167.6" y="394" width="1.1" height="1.1"/><rect x="168.8" y="450" width="1.1" height="1.1"/><rect x="169.7" y="400.5" width="1.1" height="1.1"/><rect x="168.4" y="396.6" width="1.1" height="1.1"/><rect x="168.1" y="438.5" width="1.1" height="1.1"/><rect x="168.8" y="433.1" width="1.1" height="1.1"/><rect x="169.2" y="385" width="1.1" height="1.1"/><rect x="166.9" y="446.1" width="1.1" height="1.1"/><rect x="168" y="432.3" width="1.1" height="1.1"/><rect x="169.7" y="412.1" width="1.1" height="1.1"/><rect x="171" y="455" width="1.1" height="1.1"/><rect x="170.1" y="380.2" width="1.1" height="1.1"/><rect x="168.5" y="395.8" width="1.1" height="1.1"/><rect x="171.4" y="421.4" width="1.1" height="1.1"/><rect x="169.4" y="410.8" width="1.1" height="1.1"/><rect x="168.1" y="417.9" width="1.1" height="1.1"/><rect x="168.8" y="424" width="1.1" height="1.1"/><rect x="166.7" y="433.9" width="1.1" height="1.1"/><rect x="168.4" y="408.1" width="1.1" height="1.1"/><rect x="169.4" y="450.9" width="1.1" height="1.1"/><rect x="168.7" y="435.3" width="1.1" height="1.1"/><rect x="168" y="416" width="1.1" height="1.1"/><rect x="168.2" y="444.9" width="1.1" height="1.1"/><rect x="168.4" y="418" width="1.1" height="1.1"/><rect x="168.8" y="454.6" width="1.1" height="1.1"/><rect x="169.6" y="404.1" width="1.1" height="1.1"/><rect x="169.2" y="438.8" width="1.1" height="1.1"/><rect x="168.1" y="391.5" width="1.1" height="1.1"/><rect x="168" y="399.4" width="1.1" height="1.1"/><rect x="170.1" y="391.9" width="1.1" height="1.1"/><rect x="170" y="406.4" width="1.1" height="1.1"/><rect x="171.9" y="441" width="1.1" height="1.1"/><rect x="169.3" y="386.8" width="1.1" height="1.1"/><rect x="168.6" y="411.2" width="1.1" height="1.1"/><rect x="169.3" y="463.1" width="1.1" height="1.1"/><rect x="166.8" y="415.6" width="1.1" height="1.1"/><rect x="168.4" y="395" width="1.1" height="1.1"/><rect x="168.3" y="395.9" width="1.1" height="1.1"/><rect x="170" y="411.6" width="1.1" height="1.1"/><rect x="169" y="446.4" width="1.1" height="1.1"/><rect x="167" y="438" width="1.1" height="1.1"/><rect x="168.7" y="418.1" width="1.1" height="1.1"/><rect x="167.7" y="390.3" width="1.1" height="1.1"/><rect x="168" y="442.1" width="1.1" height="1.1"/><rect x="167.3" y="456.5" width="1.1" height="1.1"/><rect x="169.4" y="442.8" width="1.1" height="1.1"/><rect x="169" y="414.4" width="1.1" height="1.1"/><rect x="170.7" y="454.1" width="1.1" height="1.1"/><rect x="168" y="445" width="1.1" height="1.1"/><rect x="166.4" y="436.8" width="1.1" height="1.1"/><rect x="167.7" y="433.5" width="1.1" height="1.1"/><rect x="169.1" y="432.3" width="1.1" height="1.1"/><rect x="166.8" y="386.5" width="1.1" height="1.1"/><rect x="169.8" y="439.7" width="1.1" height="1.1"/><rect x="168.7" y="432.5" width="1.1" height="1.1"/><rect x="170.1" y="417.4" width="1.1" height="1.1"/><rect x="167.2" y="431.8" width="1.1" height="1.1"/><rect x="169.8" y="458.5" width="1.1" height="1.1"/><rect x="167.5" y="393.8" width="1.1" height="1.1"/><rect x="167" y="411.6" width="1.1" height="1.1"/><rect x="169.1" y="420.4" width="1.1" height="1.1"/><rect x="168.7" y="425" width="1.1" height="1.1"/><rect x="169.3" y="391.9" width="1.1" height="1.1"/><rect x="165.8" y="422.9" width="1.1" height="1.1"/><rect x="167.4" y="386.7" width="1.1" height="1.1"/><rect x="168" y="440" width="1.1" height="1.1"/><rect x="167.2" y="422.3" width="1.1" height="1.1"/><rect x="166.9" y="423.1" width="1.1" height="1.1"/><rect x="169.6" y="413.5" width="1.1" height="1.1"/><rect x="168.5" y="437.2" width="1.1" height="1.1"/><rect x="168.8" y="412" width="1.1" height="1.1"/><rect x="168.1" y="463.2" width="1.1" height="1.1"/><rect x="169.7" y="408.7" width="1.1" height="1.1"/><rect x="169.1" y="412.6" width="1.1" height="1.1"/><rect x="167.6" y="379.2" width="1.1" height="1.1"/><rect x="169.4" y="438.4" width="1.1" height="1.1"/><rect x="168.7" y="408.5" width="1.1" height="1.1"/><rect x="169.6" y="442.1" width="1.1" height="1.1"/><rect x="167.9" y="459.3" width="1.1" height="1.1"/><rect x="168.6" y="447.3" width="1.1" height="1.1"/><rect x="168.9" y="411.9" width="1.1" height="1.1"/><rect x="169.4" y="445.2" width="1.1" height="1.1"/><rect x="167.8" y="448" width="1.1" height="1.1"/><rect x="167.7" y="426.6" width="1.1" height="1.1"/><rect x="169.9" y="397.5" width="1.1" height="1.1"/><rect x="168.5" y="433.3" width="1.1" height="1.1"/><rect x="169.3" y="448.8" width="1.1" height="1.1"/><rect x="167.5" y="403.5" width="1.1" height="1.1"/><rect x="170.4" y="425.4" width="1.1" height="1.1"/><rect x="170.4" y="408.7" width="1.1" height="1.1"/></g>
<path d="M192.2,365.7C193.6,365.3 200.5,365.3 201.9,365.7C203.3,366.1 203.7,367.7 204.3,369.3C204.9,370.9 206.1,377 206.7,379C207.3,381 208.8,383.9 209.1,386.2C209.4,388.5 209.5,395.2 209.3,398.3C209.1,401.4 207.4,409.3 207,412.7C206.6,416.1 206,423.8 205.5,427.2C205,430.6 203.7,438.6 203.1,441.7C202.5,444.8 201.2,451 200.7,453.8C200.2,456.6 199,463.6 198.6,465.8C198.2,468 197.4,472.4 197,472.3C196.6,472.2 195.7,467.7 195.2,465.3C194.7,462.9 193.6,455 193,452C192.4,449 191,442.9 190.4,440C189.8,437.1 188.5,430.2 188,427C187.5,423.8 186.5,416.1 186.2,412.7C185.9,409.3 185.6,401.2 185.6,398C185.6,394.8 185.8,387.7 186.1,385C186.4,382.3 187.5,376.9 188,375C188.5,373.1 189.7,370.1 190.2,369C190.7,367.9 190.8,366.1 192.2,365.7Z" fill="#571b63" stroke="#2a2a2a" stroke-width="1"/>
<line x1="197" y1="366" x2="197" y2="472.3" stroke="#222" stroke-width="0.9"/>
<rect x="194.9" y="366" width="4.2" height="104" fill="#050505"/>
<rect x="195" y="366" width="4" height="106.3" fill="#000" opacity="0.3"/>
<g fill="#1a1a1a"><rect x="196.3" y="456.4" width="1.1" height="1.1"/><rect x="197.7" y="393" width="1.1" height="1.1"/><rect x="196.5" y="411.3" width="1.1" height="1.1"/><rect x="196.5" y="442.7" width="1.1" height="1.1"/><rect x="196.5" y="395.9" width="1.1" height="1.1"/><rect x="197.5" y="417" width="1.1" height="1.1"/><rect x="195.3" y="411.5" width="1.1" height="1.1"/><rect x="195.1" y="404.5" width="1.1" height="1.1"/><rect x="196.7" y="464.7" width="1.1" height="1.1"/><rect x="196.1" y="454" width="1.1" height="1.1"/><rect x="196.6" y="462.3" width="1.1" height="1.1"/><rect x="195.8" y="454.4" width="1.1" height="1.1"/><rect x="196.6" y="433.3" width="1.1" height="1.1"/><rect x="196.5" y="467.2" width="1.1" height="1.1"/><rect x="196.4" y="435.7" width="1.1" height="1.1"/><rect x="197" y="381.2" width="1.1" height="1.1"/><rect x="196.6" y="390.8" width="1.1" height="1.1"/><rect x="195.3" y="382.2" width="1.1" height="1.1"/><rect x="196.6" y="462.1" width="1.1" height="1.1"/><rect x="195.7" y="460.7" width="1.1" height="1.1"/><rect x="196.8" y="430.7" width="1.1" height="1.1"/><rect x="194.6" y="461" width="1.1" height="1.1"/><rect x="196.9" y="449.8" width="1.1" height="1.1"/><rect x="195.7" y="439.6" width="1.1" height="1.1"/><rect x="196.4" y="422.4" width="1.1" height="1.1"/><rect x="195.1" y="459.8" width="1.1" height="1.1"/><rect x="196.4" y="425" width="1.1" height="1.1"/><rect x="197.4" y="380.8" width="1.1" height="1.1"/><rect x="197.8" y="418.4" width="1.1" height="1.1"/><rect x="197" y="381.4" width="1.1" height="1.1"/><rect x="194.9" y="418.2" width="1.1" height="1.1"/><rect x="196.5" y="457.7" width="1.1" height="1.1"/><rect x="197.2" y="366.7" width="1.1" height="1.1"/><rect x="195.3" y="425.8" width="1.1" height="1.1"/><rect x="197.1" y="436.7" width="1.1" height="1.1"/><rect x="195.4" y="410.5" width="1.1" height="1.1"/><rect x="198" y="468.1" width="1.1" height="1.1"/><rect x="197.3" y="433.6" width="1.1" height="1.1"/><rect x="195" y="369" width="1.1" height="1.1"/><rect x="195.2" y="465" width="1.1" height="1.1"/><rect x="197.9" y="401.1" width="1.1" height="1.1"/><rect x="196.3" y="417.5" width="1.1" height="1.1"/><rect x="198.4" y="461.4" width="1.1" height="1.1"/><rect x="196.9" y="432.5" width="1.1" height="1.1"/><rect x="197.2" y="402" width="1.1" height="1.1"/><rect x="195.5" y="416.4" width="1.1" height="1.1"/><rect x="196.6" y="421.9" width="1.1" height="1.1"/><rect x="195.6" y="412.3" width="1.1" height="1.1"/><rect x="194.2" y="410.9" width="1.1" height="1.1"/><rect x="195.7" y="397.1" width="1.1" height="1.1"/><rect x="195.2" y="454" width="1.1" height="1.1"/><rect x="197.3" y="394.9" width="1.1" height="1.1"/><rect x="198.3" y="419.8" width="1.1" height="1.1"/><rect x="196.2" y="450.2" width="1.1" height="1.1"/><rect x="196" y="401.2" width="1.1" height="1.1"/><rect x="197.4" y="428.3" width="1.1" height="1.1"/><rect x="196.5" y="433.5" width="1.1" height="1.1"/><rect x="196.1" y="442.8" width="1.1" height="1.1"/><rect x="196.1" y="460.1" width="1.1" height="1.1"/><rect x="196.3" y="397.9" width="1.1" height="1.1"/><rect x="197.5" y="366.7" width="1.1" height="1.1"/><rect x="199.1" y="430.7" width="1.1" height="1.1"/><rect x="197.1" y="435.9" width="1.1" height="1.1"/><rect x="193.8" y="431" width="1.1" height="1.1"/><rect x="195.1" y="431.6" width="1.1" height="1.1"/><rect x="195.1" y="429.4" width="1.1" height="1.1"/><rect x="196.9" y="438.4" width="1.1" height="1.1"/><rect x="198.3" y="414.7" width="1.1" height="1.1"/><rect x="197.1" y="447.1" width="1.1" height="1.1"/><rect x="196.9" y="369.9" width="1.1" height="1.1"/><rect x="198" y="448.3" width="1.1" height="1.1"/><rect x="195.5" y="405.2" width="1.1" height="1.1"/><rect x="196.8" y="453.4" width="1.1" height="1.1"/><rect x="194.9" y="393.4" width="1.1" height="1.1"/><rect x="195.5" y="398.1" width="1.1" height="1.1"/><rect x="197" y="411.8" width="1.1" height="1.1"/><rect x="196.8" y="434.2" width="1.1" height="1.1"/><rect x="196.3" y="426.3" width="1.1" height="1.1"/><rect x="198.1" y="370.2" width="1.1" height="1.1"/><rect x="198" y="427.2" width="1.1" height="1.1"/><rect x="196.3" y="463.7" width="1.1" height="1.1"/><rect x="196.5" y="407.2" width="1.1" height="1.1"/><rect x="199.6" y="428.9" width="1.1" height="1.1"/><rect x="195.1" y="416.5" width="1.1" height="1.1"/><rect x="197.9" y="409.8" width="1.1" height="1.1"/><rect x="197.5" y="388.6" width="1.1" height="1.1"/><rect x="196.6" y="382.1" width="1.1" height="1.1"/><rect x="196.5" y="438.7" width="1.1" height="1.1"/><rect x="197" y="378.9" width="1.1" height="1.1"/><rect x="196.3" y="458.4" width="1.1" height="1.1"/><rect x="198.4" y="379.7" width="1.1" height="1.1"/><rect x="196.7" y="391.8" width="1.1" height="1.1"/><rect x="196.6" y="444" width="1.1" height="1.1"/><rect x="196.8" y="448.3" width="1.1" height="1.1"/><rect x="197.7" y="441.9" width="1.1" height="1.1"/><rect x="194.9" y="375" width="1.1" height="1.1"/><rect x="196.1" y="432.8" width="1.1" height="1.1"/><rect x="195.1" y="465.1" width="1.1" height="1.1"/><rect x="198.4" y="393" width="1.1" height="1.1"/><rect x="196" y="367.2" width="1.1" height="1.1"/><rect x="195.1" y="367.6" width="1.1" height="1.1"/><rect x="194.6" y="374.5" width="1.1" height="1.1"/><rect x="196.4" y="399.1" width="1.1" height="1.1"/><rect x="195.7" y="457.5" width="1.1" height="1.1"/><rect x="197.6" y="417.7" width="1.1" height="1.1"/><rect x="196.9" y="427.1" width="1.1" height="1.1"/><rect x="196.1" y="412.6" width="1.1" height="1.1"/><rect x="195.8" y="450.8" width="1.1" height="1.1"/><rect x="195.4" y="404.6" width="1.1" height="1.1"/><rect x="195.1" y="410.4" width="1.1" height="1.1"/><rect x="197.1" y="407" width="1.1" height="1.1"/><rect x="193.5" y="449.4" width="1.1" height="1.1"/><rect x="196.3" y="426.3" width="1.1" height="1.1"/><rect x="196.9" y="469.5" width="1.1" height="1.1"/><rect x="197" y="440.8" width="1.1" height="1.1"/><rect x="195.5" y="430.4" width="1.1" height="1.1"/><rect x="197.3" y="469.9" width="1.1" height="1.1"/><rect x="195" y="398.8" width="1.1" height="1.1"/><rect x="197.4" y="411.6" width="1.1" height="1.1"/><rect x="195.7" y="438.8" width="1.1" height="1.1"/><rect x="198.3" y="430" width="1.1" height="1.1"/><rect x="195.1" y="396.1" width="1.1" height="1.1"/><rect x="196.3" y="366.2" width="1.1" height="1.1"/><rect x="197.8" y="428.4" width="1.1" height="1.1"/><rect x="196.7" y="452.7" width="1.1" height="1.1"/><rect x="196.2" y="454.6" width="1.1" height="1.1"/><rect x="197.5" y="452.3" width="1.1" height="1.1"/><rect x="195.2" y="395.1" width="1.1" height="1.1"/><rect x="197.1" y="456.5" width="1.1" height="1.1"/><rect x="194.7" y="463.1" width="1.1" height="1.1"/><rect x="197.8" y="402.9" width="1.1" height="1.1"/><rect x="197.3" y="450.8" width="1.1" height="1.1"/><rect x="196.5" y="387.3" width="1.1" height="1.1"/><rect x="193.6" y="390.9" width="1.1" height="1.1"/><rect x="195.8" y="430.5" width="1.1" height="1.1"/><rect x="195.2" y="388" width="1.1" height="1.1"/><rect x="196.5" y="393.1" width="1.1" height="1.1"/><rect x="194.2" y="414.9" width="1.1" height="1.1"/><rect x="197.2" y="375.3" width="1.1" height="1.1"/><rect x="194.4" y="390.8" width="1.1" height="1.1"/><rect x="198.5" y="427.6" width="1.1" height="1.1"/><rect x="194.9" y="421.5" width="1.1" height="1.1"/><rect x="195.8" y="416.7" width="1.1" height="1.1"/><rect x="196" y="386.4" width="1.1" height="1.1"/><rect x="196.1" y="385.2" width="1.1" height="1.1"/><rect x="195.3" y="426" width="1.1" height="1.1"/><rect x="195.7" y="408.8" width="1.1" height="1.1"/><rect x="196.4" y="370.7" width="1.1" height="1.1"/><rect x="196" y="472" width="1.1" height="1.1"/><rect x="196.9" y="433.3" width="1.1" height="1.1"/><rect x="197.4" y="449.7" width="1.1" height="1.1"/><rect x="197.9" y="402.7" width="1.1" height="1.1"/><rect x="196.8" y="421.2" width="1.1" height="1.1"/><rect x="196.5" y="471.3" width="1.1" height="1.1"/><rect x="194.8" y="458.1" width="1.1" height="1.1"/><rect x="196.6" y="393.8" width="1.1" height="1.1"/><rect x="193.7" y="448.8" width="1.1" height="1.1"/><rect x="197.8" y="447.6" width="1.1" height="1.1"/><rect x="197.4" y="453" width="1.1" height="1.1"/><rect x="196.2" y="370" width="1.1" height="1.1"/><rect x="196.7" y="387.4" width="1.1" height="1.1"/><rect x="196.9" y="371.4" width="1.1" height="1.1"/><rect x="197.4" y="425.2" width="1.1" height="1.1"/><rect x="195.4" y="466.7" width="1.1" height="1.1"/><rect x="198" y="462.7" width="1.1" height="1.1"/><rect x="197.1" y="408.2" width="1.1" height="1.1"/><rect x="197.4" y="378.7" width="1.1" height="1.1"/><rect x="196.2" y="426" width="1.1" height="1.1"/><rect x="198.2" y="434.1" width="1.1" height="1.1"/><rect x="195.9" y="407.8" width="1.1" height="1.1"/><rect x="198.2" y="413.7" width="1.1" height="1.1"/><rect x="199.2" y="471.4" width="1.1" height="1.1"/><rect x="197.4" y="389.6" width="1.1" height="1.1"/><rect x="196.7" y="403.4" width="1.1" height="1.1"/><rect x="198.4" y="462" width="1.1" height="1.1"/><rect x="195.1" y="371" width="1.1" height="1.1"/><rect x="196" y="449.6" width="1.1" height="1.1"/><rect x="194.7" y="470.8" width="1.1" height="1.1"/><rect x="197.7" y="371.9" width="1.1" height="1.1"/><rect x="198.1" y="465.9" width="1.1" height="1.1"/><rect x="195.9" y="438" width="1.1" height="1.1"/><rect x="198" y="446.6" width="1.1" height="1.1"/><rect x="196" y="377.2" width="1.1" height="1.1"/><rect x="197.3" y="379.2" width="1.1" height="1.1"/><rect x="196.9" y="417.2" width="1.1" height="1.1"/><rect x="197.3" y="381.2" width="1.1" height="1.1"/><rect x="198.4" y="438" width="1.1" height="1.1"/><rect x="196.6" y="386.7" width="1.1" height="1.1"/><rect x="197.2" y="369.8" width="1.1" height="1.1"/><rect x="196.1" y="465.3" width="1.1" height="1.1"/><rect x="197" y="458.1" width="1.1" height="1.1"/><rect x="196" y="413.5" width="1.1" height="1.1"/><rect x="198.6" y="376.3" width="1.1" height="1.1"/><rect x="195.4" y="432.8" width="1.1" height="1.1"/><rect x="195.2" y="414.1" width="1.1" height="1.1"/><rect x="198.4" y="416.8" width="1.1" height="1.1"/><rect x="197" y="432.8" width="1.1" height="1.1"/><rect x="197.1" y="372" width="1.1" height="1.1"/><rect x="195.8" y="441.9" width="1.1" height="1.1"/><rect x="196.2" y="458.6" width="1.1" height="1.1"/><rect x="195.8" y="394.3" width="1.1" height="1.1"/><rect x="196.8" y="394.8" width="1.1" height="1.1"/><rect x="196.1" y="455.2" width="1.1" height="1.1"/><rect x="197.1" y="418.2" width="1.1" height="1.1"/><rect x="197" y="399.8" width="1.1" height="1.1"/><rect x="196.1" y="470" width="1.1" height="1.1"/><rect x="197.9" y="372" width="1.1" height="1.1"/><rect x="195.3" y="388.4" width="1.1" height="1.1"/><rect x="196.2" y="416.8" width="1.1" height="1.1"/><rect x="197.4" y="387.4" width="1.1" height="1.1"/><rect x="199.6" y="404.7" width="1.1" height="1.1"/><rect x="196.2" y="464.3" width="1.1" height="1.1"/><rect x="195.8" y="376.4" width="1.1" height="1.1"/><rect x="199" y="372.1" width="1.1" height="1.1"/><rect x="195.5" y="443.2" width="1.1" height="1.1"/><rect x="199.6" y="367.7" width="1.1" height="1.1"/><rect x="196.1" y="451.8" width="1.1" height="1.1"/><rect x="197" y="366.2" width="1.1" height="1.1"/><rect x="195.7" y="454.5" width="1.1" height="1.1"/><rect x="196.3" y="412.3" width="1.1" height="1.1"/><rect x="196.8" y="462.9" width="1.1" height="1.1"/><rect x="198" y="380.7" width="1.1" height="1.1"/><rect x="196.7" y="385.1" width="1.1" height="1.1"/><rect x="194.5" y="386.9" width="1.1" height="1.1"/><rect x="197.9" y="374.4" width="1.1" height="1.1"/><rect x="197.3" y="418.7" width="1.1" height="1.1"/><rect x="196.9" y="395.1" width="1.1" height="1.1"/><rect x="198.1" y="441.2" width="1.1" height="1.1"/><rect x="195.7" y="452.3" width="1.1" height="1.1"/><rect x="196" y="373" width="1.1" height="1.1"/><rect x="194.8" y="443.9" width="1.1" height="1.1"/><rect x="197.5" y="371.9" width="1.1" height="1.1"/><rect x="195.2" y="452.2" width="1.1" height="1.1"/></g>
<path d="M221.8,357.6C222.5,355.4 226.5,355.2 227.2,357.6C227.9,360 227,374.6 227.4,377.8C227.8,381 230,383.2 230.8,385C231.6,386.8 233.5,391.3 234,393.4C234.5,395.5 235,400.8 235.1,403.1C235.2,405.4 235.3,410.7 234.9,412.7C234.5,414.7 232.9,418.4 232,420C231.1,421.6 228.1,424.7 227.2,426C226.3,427.3 225,430.7 224.3,430.8C223.6,430.9 222.4,428.1 221.6,426.8C220.8,425.5 218.5,421.5 217.6,420C216.7,418.5 214.3,415.4 214,414C213.7,412.6 215.2,409.7 215.2,407.9C215.2,406.1 214,400.4 213.9,398.3C213.8,396.2 214.3,391.6 214.7,389.8C215.1,388 216.8,384.2 217.6,382.6C218.4,381 221.1,379.4 221.6,376.5C222.1,373.6 221.1,359.8 221.8,357.6Z" fill="#ecc454" stroke="#2a2a2a" stroke-width="1"/>
<line x1="224.3" y1="358" x2="224.3" y2="471" stroke="#222" stroke-width="0.9"/>
<rect x="222.1" y="370" width="4.4" height="60" fill="#050505"/>
<rect x="222.3" y="358" width="4" height="113" fill="#000" opacity="0.3"/>
<g fill="#1a1a1a"><rect x="225.8" y="455.7" width="1.1" height="1.1"/><rect x="226.5" y="413.7" width="1.1" height="1.1"/><rect x="224" y="411.9" width="1.1" height="1.1"/><rect x="223.7" y="456.5" width="1.1" height="1.1"/><rect x="224.5" y="452" width="1.1" height="1.1"/><rect x="224.4" y="399.5" width="1.1" height="1.1"/><rect x="224.8" y="425.2" width="1.1" height="1.1"/><rect x="222.4" y="358.5" width="1.1" height="1.1"/><rect x="223.6" y="416.3" width="1.1" height="1.1"/><rect x="223.2" y="371.6" width="1.1" height="1.1"/><rect x="221.5" y="455.8" width="1.1" height="1.1"/><rect x="223.5" y="394.3" width="1.1" height="1.1"/><rect x="222.6" y="442.9" width="1.1" height="1.1"/><rect x="225.9" y="364.9" width="1.1" height="1.1"/><rect x="221.5" y="413.9" width="1.1" height="1.1"/><rect x="222.2" y="416" width="1.1" height="1.1"/><rect x="223.5" y="360.3" width="1.1" height="1.1"/><rect x="223.9" y="467.3" width="1.1" height="1.1"/><rect x="224.5" y="369.6" width="1.1" height="1.1"/><rect x="223.9" y="386.3" width="1.1" height="1.1"/><rect x="223.5" y="368.9" width="1.1" height="1.1"/><rect x="223.8" y="437" width="1.1" height="1.1"/><rect x="224" y="425.7" width="1.1" height="1.1"/><rect x="221.8" y="423.1" width="1.1" height="1.1"/><rect x="223.5" y="369.6" width="1.1" height="1.1"/><rect x="223.7" y="456.3" width="1.1" height="1.1"/><rect x="223.4" y="371.9" width="1.1" height="1.1"/><rect x="222.7" y="413.8" width="1.1" height="1.1"/><rect x="223.7" y="371.8" width="1.1" height="1.1"/><rect x="224.8" y="403.8" width="1.1" height="1.1"/><rect x="225" y="455.3" width="1.1" height="1.1"/><rect x="221.9" y="374.6" width="1.1" height="1.1"/><rect x="222.8" y="376.6" width="1.1" height="1.1"/><rect x="224.9" y="451.3" width="1.1" height="1.1"/><rect x="223.3" y="405.5" width="1.1" height="1.1"/><rect x="222.5" y="452.9" width="1.1" height="1.1"/><rect x="223.5" y="464.4" width="1.1" height="1.1"/><rect x="223.3" y="445.8" width="1.1" height="1.1"/><rect x="224.5" y="395.9" width="1.1" height="1.1"/><rect x="226" y="407.2" width="1.1" height="1.1"/><rect x="223.5" y="461.1" width="1.1" height="1.1"/><rect x="224" y="450.1" width="1.1" height="1.1"/><rect x="223.4" y="416.5" width="1.1" height="1.1"/><rect x="224.6" y="466.2" width="1.1" height="1.1"/><rect x="223.4" y="405.7" width="1.1" height="1.1"/><rect x="222.7" y="429.5" width="1.1" height="1.1"/><rect x="224.9" y="365.8" width="1.1" height="1.1"/><rect x="223.5" y="406.9" width="1.1" height="1.1"/><rect x="223.7" y="373.8" width="1.1" height="1.1"/><rect x="224.2" y="467.6" width="1.1" height="1.1"/><rect x="220.9" y="429.6" width="1.1" height="1.1"/><rect x="225.7" y="449.4" width="1.1" height="1.1"/><rect x="222" y="361.9" width="1.1" height="1.1"/><rect x="223.6" y="430.5" width="1.1" height="1.1"/><rect x="225.6" y="388.9" width="1.1" height="1.1"/><rect x="225.3" y="419.3" width="1.1" height="1.1"/><rect x="223" y="386.3" width="1.1" height="1.1"/><rect x="220.9" y="416.8" width="1.1" height="1.1"/><rect x="225" y="390.5" width="1.1" height="1.1"/><rect x="223.4" y="392.5" width="1.1" height="1.1"/><rect x="223.2" y="425.2" width="1.1" height="1.1"/><rect x="222.8" y="466" width="1.1" height="1.1"/><rect x="223.7" y="410.7" width="1.1" height="1.1"/><rect x="224.1" y="418.3" width="1.1" height="1.1"/><rect x="224.3" y="372.8" width="1.1" height="1.1"/><rect x="222.9" y="391.2" width="1.1" height="1.1"/><rect x="224.3" y="385.5" width="1.1" height="1.1"/><rect x="221.5" y="367.9" width="1.1" height="1.1"/><rect x="223.1" y="426.9" width="1.1" height="1.1"/><rect x="223.3" y="422.4" width="1.1" height="1.1"/><rect x="223.1" y="438.3" width="1.1" height="1.1"/><rect x="222.1" y="410.1" width="1.1" height="1.1"/><rect x="223.2" y="411" width="1.1" height="1.1"/><rect x="223.8" y="393.1" width="1.1" height="1.1"/><rect x="224.6" y="415.9" width="1.1" height="1.1"/><rect x="223.6" y="401.3" width="1.1" height="1.1"/><rect x="223.7" y="397.8" width="1.1" height="1.1"/><rect x="223.9" y="455.4" width="1.1" height="1.1"/><rect x="225.3" y="413.5" width="1.1" height="1.1"/><rect x="224.8" y="390.2" width="1.1" height="1.1"/><rect x="223.7" y="445.3" width="1.1" height="1.1"/><rect x="226.1" y="375.9" width="1.1" height="1.1"/><rect x="224.8" y="407.7" width="1.1" height="1.1"/><rect x="222.7" y="365" width="1.1" height="1.1"/><rect x="224.6" y="441.1" width="1.1" height="1.1"/><rect x="224.2" y="370.3" width="1.1" height="1.1"/><rect x="226.9" y="441.5" width="1.1" height="1.1"/><rect x="223.1" y="375.5" width="1.1" height="1.1"/><rect x="224.7" y="434.3" width="1.1" height="1.1"/><rect x="225.1" y="427.6" width="1.1" height="1.1"/><rect x="221.9" y="416.5" width="1.1" height="1.1"/><rect x="223.7" y="441.5" width="1.1" height="1.1"/><rect x="221.6" y="411.7" width="1.1" height="1.1"/><rect x="223" y="446.7" width="1.1" height="1.1"/><rect x="221.1" y="372.4" width="1.1" height="1.1"/><rect x="225.9" y="456.4" width="1.1" height="1.1"/><rect x="223.8" y="424.2" width="1.1" height="1.1"/><rect x="225.3" y="414.3" width="1.1" height="1.1"/><rect x="223.4" y="405.2" width="1.1" height="1.1"/><rect x="224.9" y="446.6" width="1.1" height="1.1"/><rect x="222.5" y="400.9" width="1.1" height="1.1"/><rect x="221.8" y="409.1" width="1.1" height="1.1"/><rect x="224.3" y="391.1" width="1.1" height="1.1"/><rect x="222.6" y="402.1" width="1.1" height="1.1"/><rect x="223.3" y="394.4" width="1.1" height="1.1"/><rect x="224.6" y="446.9" width="1.1" height="1.1"/><rect x="222.6" y="408.2" width="1.1" height="1.1"/><rect x="223.5" y="378.8" width="1.1" height="1.1"/><rect x="224.4" y="423" width="1.1" height="1.1"/><rect x="226.1" y="423.7" width="1.1" height="1.1"/><rect x="225.2" y="394.6" width="1.1" height="1.1"/><rect x="225.4" y="453.3" width="1.1" height="1.1"/><rect x="221.1" y="381.1" width="1.1" height="1.1"/><rect x="223.9" y="406.2" width="1.1" height="1.1"/><rect x="223.7" y="363.4" width="1.1" height="1.1"/><rect x="220.9" y="421.8" width="1.1" height="1.1"/><rect x="223.8" y="445.4" width="1.1" height="1.1"/><rect x="225.3" y="418.9" width="1.1" height="1.1"/><rect x="223.7" y="416.5" width="1.1" height="1.1"/><rect x="222.8" y="435.4" width="1.1" height="1.1"/><rect x="224.5" y="425.2" width="1.1" height="1.1"/><rect x="225.5" y="397.7" width="1.1" height="1.1"/><rect x="223.1" y="417.4" width="1.1" height="1.1"/><rect x="222.9" y="369.2" width="1.1" height="1.1"/><rect x="224.6" y="421.4" width="1.1" height="1.1"/><rect x="226.1" y="422.9" width="1.1" height="1.1"/><rect x="221.5" y="413" width="1.1" height="1.1"/><rect x="220.8" y="407.7" width="1.1" height="1.1"/><rect x="220.8" y="396.8" width="1.1" height="1.1"/><rect x="224.1" y="417.9" width="1.1" height="1.1"/><rect x="223" y="393.9" width="1.1" height="1.1"/><rect x="224.4" y="468.6" width="1.1" height="1.1"/><rect x="222.4" y="370.5" width="1.1" height="1.1"/><rect x="222.9" y="459.1" width="1.1" height="1.1"/><rect x="221.6" y="469.9" width="1.1" height="1.1"/><rect x="223.1" y="458.4" width="1.1" height="1.1"/><rect x="224.1" y="390.8" width="1.1" height="1.1"/><rect x="222.9" y="415.8" width="1.1" height="1.1"/><rect x="223.7" y="378.6" width="1.1" height="1.1"/><rect x="222.8" y="429.2" width="1.1" height="1.1"/><rect x="223" y="470.3" width="1.1" height="1.1"/><rect x="225" y="429.9" width="1.1" height="1.1"/><rect x="224.1" y="447" width="1.1" height="1.1"/><rect x="223.7" y="392.7" width="1.1" height="1.1"/><rect x="223.6" y="392.4" width="1.1" height="1.1"/><rect x="222.2" y="453.2" width="1.1" height="1.1"/><rect x="222.8" y="380.2" width="1.1" height="1.1"/><rect x="222.8" y="414.3" width="1.1" height="1.1"/><rect x="223.4" y="431.1" width="1.1" height="1.1"/><rect x="225.4" y="418.1" width="1.1" height="1.1"/><rect x="223.7" y="404.5" width="1.1" height="1.1"/><rect x="224.9" y="371.7" width="1.1" height="1.1"/><rect x="225.5" y="370.1" width="1.1" height="1.1"/><rect x="224.5" y="369.3" width="1.1" height="1.1"/><rect x="225.1" y="451" width="1.1" height="1.1"/><rect x="223.9" y="427.3" width="1.1" height="1.1"/><rect x="223.3" y="359.4" width="1.1" height="1.1"/><rect x="222.9" y="445.1" width="1.1" height="1.1"/><rect x="225.5" y="398" width="1.1" height="1.1"/><rect x="223.7" y="377.1" width="1.1" height="1.1"/><rect x="224.3" y="460.1" width="1.1" height="1.1"/><rect x="223" y="423.8" width="1.1" height="1.1"/><rect x="224.9" y="401.6" width="1.1" height="1.1"/><rect x="225" y="364.2" width="1.1" height="1.1"/><rect x="222.7" y="466.4" width="1.1" height="1.1"/><rect x="223.1" y="407.7" width="1.1" height="1.1"/><rect x="223.1" y="363" width="1.1" height="1.1"/><rect x="224.4" y="463.2" width="1.1" height="1.1"/><rect x="222.9" y="459.6" width="1.1" height="1.1"/><rect x="223.2" y="450.2" width="1.1" height="1.1"/><rect x="225.4" y="466.5" width="1.1" height="1.1"/><rect x="224.6" y="414" width="1.1" height="1.1"/><rect x="223.5" y="402" width="1.1" height="1.1"/><rect x="223.9" y="439.2" width="1.1" height="1.1"/><rect x="224.8" y="456.9" width="1.1" height="1.1"/><rect x="224" y="412.7" width="1.1" height="1.1"/><rect x="222.8" y="377.6" width="1.1" height="1.1"/><rect x="225" y="398.5" width="1.1" height="1.1"/><rect x="226.8" y="390.8" width="1.1" height="1.1"/><rect x="224.9" y="421.5" width="1.1" height="1.1"/><rect x="224.8" y="401.6" width="1.1" height="1.1"/><rect x="224.3" y="403.6" width="1.1" height="1.1"/><rect x="224" y="451.3" width="1.1" height="1.1"/><rect x="223.8" y="397.7" width="1.1" height="1.1"/><rect x="224.6" y="390" width="1.1" height="1.1"/><rect x="225.6" y="384.8" width="1.1" height="1.1"/><rect x="224.2" y="396.6" width="1.1" height="1.1"/><rect x="223.6" y="375.6" width="1.1" height="1.1"/><rect x="223.2" y="388.5" width="1.1" height="1.1"/><rect x="224.7" y="452.4" width="1.1" height="1.1"/><rect x="224.7" y="452.5" width="1.1" height="1.1"/><rect x="224.4" y="449" width="1.1" height="1.1"/><rect x="224.7" y="439.6" width="1.1" height="1.1"/><rect x="224.6" y="400.6" width="1.1" height="1.1"/><rect x="223.5" y="465.5" width="1.1" height="1.1"/><rect x="223.9" y="415" width="1.1" height="1.1"/><rect x="225.1" y="372.8" width="1.1" height="1.1"/><rect x="223.6" y="437.8" width="1.1" height="1.1"/><rect x="226.4" y="424.4" width="1.1" height="1.1"/><rect x="223.8" y="399.6" width="1.1" height="1.1"/><rect x="225.5" y="382" width="1.1" height="1.1"/><rect x="224.8" y="456.6" width="1.1" height="1.1"/><rect x="224.8" y="419.3" width="1.1" height="1.1"/><rect x="223.9" y="388.6" width="1.1" height="1.1"/><rect x="222.5" y="432.3" width="1.1" height="1.1"/><rect x="223.3" y="422.1" width="1.1" height="1.1"/><rect x="224.9" y="367.7" width="1.1" height="1.1"/><rect x="224.4" y="378" width="1.1" height="1.1"/><rect x="222.9" y="432.9" width="1.1" height="1.1"/><rect x="222.7" y="370.3" width="1.1" height="1.1"/><rect x="223.3" y="414.5" width="1.1" height="1.1"/><rect x="224.7" y="391.6" width="1.1" height="1.1"/><rect x="224.2" y="383.6" width="1.1" height="1.1"/><rect x="223.5" y="372.3" width="1.1" height="1.1"/><rect x="222.8" y="403.6" width="1.1" height="1.1"/><rect x="224.2" y="460.7" width="1.1" height="1.1"/><rect x="221.2" y="455.3" width="1.1" height="1.1"/><rect x="223.7" y="372.9" width="1.1" height="1.1"/><rect x="224.1" y="434.8" width="1.1" height="1.1"/><rect x="223" y="433" width="1.1" height="1.1"/><rect x="224.8" y="432.5" width="1.1" height="1.1"/><rect x="223.8" y="437" width="1.1" height="1.1"/><rect x="226.2" y="397.8" width="1.1" height="1.1"/><rect x="224" y="429.1" width="1.1" height="1.1"/><rect x="224.3" y="461.1" width="1.1" height="1.1"/><rect x="223.7" y="440.9" width="1.1" height="1.1"/><rect x="223.4" y="362.5" width="1.1" height="1.1"/><rect x="224.1" y="376.3" width="1.1" height="1.1"/><rect x="224.8" y="401" width="1.1" height="1.1"/><rect x="223.1" y="362.4" width="1.1" height="1.1"/><rect x="225.4" y="378.3" width="1.1" height="1.1"/><rect x="222" y="452.9" width="1.1" height="1.1"/><rect x="222.9" y="386.8" width="1.1" height="1.1"/><rect x="223.3" y="407.1" width="1.1" height="1.1"/><rect x="222.7" y="358.1" width="1.1" height="1.1"/><rect x="223.9" y="452.3" width="1.1" height="1.1"/><rect x="222.7" y="362.9" width="1.1" height="1.1"/><rect x="223.4" y="454.5" width="1.1" height="1.1"/><rect x="223.5" y="385.6" width="1.1" height="1.1"/><rect x="224" y="370.6" width="1.1" height="1.1"/><rect x="222.9" y="461.3" width="1.1" height="1.1"/><rect x="225.4" y="442.7" width="1.1" height="1.1"/><rect x="224.7" y="402.5" width="1.1" height="1.1"/><rect x="224.2" y="442.5" width="1.1" height="1.1"/><rect x="222.9" y="368.2" width="1.1" height="1.1"/><rect x="221.2" y="464.9" width="1.1" height="1.1"/><rect x="225.1" y="436.2" width="1.1" height="1.1"/><rect x="224.6" y="441.5" width="1.1" height="1.1"/></g>
<line x1="309.2" y1="338.3" x2="324.4" y2="338.3" stroke="#fcc22f" stroke-width="2.9" stroke-linecap="round"/>
<text x="332.4" y="344.2" font-size="17.6">Lum_L1</text>
<line x1="423.3" y1="338.3" x2="438.6" y2="338.3" stroke="#581765" stroke-width="2.9" stroke-linecap="round"/>
<text x="448.4" y="344.2" font-size="17.6">Lum_L2</text>
<line x1="541.1" y1="338.3" x2="556.3" y2="338.3" stroke="#f09cc4" stroke-width="2.9" stroke-linecap="round"/>
<text x="563.3" y="344.2" font-size="17.6">Lum_Mut</text>
<line x1="669.1" y1="338.3" x2="684.4" y2="338.3" stroke="#109140" stroke-width="2.9" stroke-linecap="round"/>
<text x="690.4" y="344.2" font-size="17.6">PC-IM</text>
<line x1="769" y1="338.3" x2="784.5" y2="338.3" stroke="#e02623" stroke-width="2.9" stroke-linecap="round"/>
<text x="794.2" y="344.2" font-size="17.6">EPC-IM</text>
<text x="400.8" y="378.3" font-size="17.8" text-anchor="middle">NFKB2-1188</text>
<line x1="315.3" y1="395" x2="315.3" y2="486.9" stroke="#6e6e6e" stroke-width="1.2"/>
<line x1="314.7" y1="486.3" x2="486.2" y2="486.3" stroke="#3c3c3c" stroke-width="1.3"/>
<line x1="310.3" y1="408.9" x2="315.3" y2="408.9" stroke="#666" stroke-width="1.2"/>
<text x="306.9" y="414.6" font-size="16.4" text-anchor="end" transform="translate(306.9 414.6) scale(0.95 1) translate(-306.9 -414.6)">2.5</text>
<line x1="310.3" y1="427.3" x2="315.3" y2="427.3" stroke="#666" stroke-width="1.2"/>
<text x="306.9" y="433" font-size="16.4" text-anchor="end" transform="translate(306.9 433) scale(0.95 1) translate(-306.9 -433)">0</text>
<line x1="310.3" y1="445.8" x2="315.3" y2="445.8" stroke="#666" stroke-width="1.2"/>
<text x="306.9" y="451.5" font-size="16.4" text-anchor="end" transform="translate(306.9 451.5) scale(0.95 1) translate(-306.9 -451.5)">−2.5</text>
<line x1="310.3" y1="464.3" x2="315.3" y2="464.3" stroke="#666" stroke-width="1.2"/>
<text x="306.9" y="470" font-size="16.4" text-anchor="end" transform="translate(306.9 470) scale(0.95 1) translate(-306.9 -470)">−5.0</text>
<line x1="310.3" y1="482.7" x2="315.3" y2="482.7" stroke="#666" stroke-width="1.2"/>
<text x="306.9" y="488.4" font-size="16.4" text-anchor="end" transform="translate(306.9 488.4) scale(0.95 1) translate(-306.9 -488.4)">−7.5</text>
<line x1="322.4" y1="486.3" x2="322.4" y2="491.5" stroke="#666" stroke-width="1.2"/>
<text x="322.4" y="508.8" font-size="16.4" text-anchor="middle">0</text>
<line x1="433.4" y1="486.3" x2="433.4" y2="491.5" stroke="#666" stroke-width="1.2"/>
<text x="433.4" y="508.8" font-size="16.4" text-anchor="middle">1</text>
<text x="400.8" y="535.9" font-size="18.4" text-anchor="middle" transform="translate(400.8 535.9) scale(1.05 1) translate(-400.8 -535.9)">Pseudotime</text>
<path d="M322.8,431.2C323.9,431.5 326.8,432.6 329.5,433C332.2,433.4 335.9,433.9 339.1,433.8C342.3,433.7 345.8,433.2 348.8,432.4C351.8,431.6 354.2,430.3 357.2,428.8C360.2,427.3 363.9,425.1 366.9,423.3C369.9,421.5 371.9,420 375.3,417.9C378.7,415.8 383.4,412.9 387.4,410.7C391.4,408.5 395,406.7 399.4,404.7C403.8,402.7 411.5,399.9 413.9,398.9" fill="none" stroke="#109140" stroke-width="1.75" stroke-linecap="round"/>
<path d="M322.8,431.2C324.5,430.7 329.4,429 333.1,428.2C336.8,427.4 341.2,426.7 345.2,426.1C349.2,425.5 353.2,425.1 357.2,424.6C361.2,424.1 365.3,423.6 369.3,423C373.3,422.4 377.3,421.9 381.3,421.2C385.3,420.4 389.4,419.8 393.4,418.5C397.4,417.2 401.7,415.1 405.5,413.7C409.3,412.2 413.2,410.9 416.4,409.8C419.6,408.7 421.9,408 424.6,407.3C427.3,406.6 430.1,406.1 432.8,405.7C435.5,405.3 438.3,404.9 441,404.8C443.7,404.7 446.5,404.7 449.2,404.8C451.9,404.9 455.2,405.1 457.4,405.2C459.6,405.3 461.7,405.6 462.6,405.7" fill="none" stroke="#e02623" stroke-width="1.75" stroke-linecap="round"/>
<path d="M360.8,425.8C362.2,426 365.9,426.7 369.3,427C372.7,427.3 377.3,427.7 381.3,427.8C385.3,427.9 389.4,427.7 393.4,427.6C397.4,427.5 401.7,427.2 405.5,427C409.3,426.8 413.2,426.1 416.4,426.1C419.6,426.1 422.2,426.6 424.6,427C427,427.4 429.8,428.1 430.8,428.3" fill="none" stroke="#f09cc4" stroke-width="1.75" stroke-linecap="round"/>
<path d="M322.8,431.2C324.5,430.7 329.4,429.1 333.1,428.2C336.8,427.3 341.2,426.3 345.2,425.8C349.2,425.3 353.8,425.1 357.2,425.2C360.6,425.3 362.7,425.8 365.7,426.4C368.7,427 372.1,427.6 375.3,428.8C378.5,430 382,431.8 385,433.6C388,435.4 390.6,437.6 393.4,439.6C396.2,441.6 399.4,443.9 401.9,445.7C404.4,447.5 405.8,448.8 408.2,450.7C410.6,452.6 413.7,455.4 416.4,457.3C419.1,459.2 421.9,461 424.6,462.2C427.3,463.4 430.1,464.1 432.8,464.7C435.5,465.3 438.3,465.3 441,465.8C443.7,466.3 446.5,466.7 449.2,467.5C451.9,468.3 454.7,469.2 457.4,470.4C460.1,471.6 462.9,473 465.6,474.5C468.3,476 471.7,478 473.8,479.4C475.9,480.8 477.6,482.1 478.4,482.7" fill="none" stroke="#fcc22f" stroke-width="1.75" stroke-linecap="round"/>
<path d="M322.8,431.2C323.5,430.8 325.2,429.5 327.1,428.8C329,428.1 331.9,427.4 334.3,427C336.7,426.6 339.1,426.5 341.5,426.6C343.9,426.7 346.4,427 348.8,427.6C351.2,428.2 353.2,429 356,430C358.8,431 362.5,432.5 365.7,433.6C368.9,434.7 372.1,435.9 375.3,436.6C378.5,437.4 381.8,437.7 385,438.1C388.2,438.5 391.4,438.6 394.6,439C397.8,439.4 401.7,439.9 404.3,440.2C406.9,440.5 408,440.5 410,441C412,441.5 414,442.3 416.4,443.4C418.8,444.5 421.9,446 424.6,447.5C427.3,449 430.1,450.9 432.8,452.4C435.5,453.9 438.3,455.4 441,456.5C443.7,457.6 446.5,458.4 449.2,459C451.9,459.6 454,459.7 457.4,459.9C460.8,460.1 467.6,460.1 469.7,460.1" fill="none" stroke="#581765" stroke-width="1.75" stroke-linecap="round"/>
<text x="603.5" y="378.3" font-size="17.8" text-anchor="middle">NFATC1-1145</text>
<line x1="518.2" y1="395.8" x2="518.2" y2="486.9" stroke="#6e6e6e" stroke-width="1.2"/>
<line x1="517.6" y1="486.3" x2="688.8" y2="486.3" stroke="#3c3c3c" stroke-width="1.3"/>
<line x1="513.2" y1="403" x2="518.2" y2="403" stroke="#666" stroke-width="1.2"/>
<text x="509.3" y="408.7" font-size="16.4" text-anchor="end" transform="translate(509.3 408.7) scale(0.95 1) translate(-509.3 -408.7)">4</text>
<line x1="513.2" y1="425.8" x2="518.2" y2="425.8" stroke="#666" stroke-width="1.2"/>
<text x="509.3" y="431.5" font-size="16.4" text-anchor="end" transform="translate(509.3 431.5) scale(0.95 1) translate(-509.3 -431.5)">2</text>
<line x1="513.2" y1="448.3" x2="518.2" y2="448.3" stroke="#666" stroke-width="1.2"/>
<text x="509.3" y="454" font-size="16.4" text-anchor="end" transform="translate(509.3 454) scale(0.95 1) translate(-509.3 -454)">0</text>
<line x1="513.2" y1="470.7" x2="518.2" y2="470.7" stroke="#666" stroke-width="1.2"/>
<text x="509.3" y="476.4" font-size="16.4" text-anchor="end" transform="translate(509.3 476.4) scale(0.95 1) translate(-509.3 -476.4)">−2</text>
<line x1="525.3" y1="486.3" x2="525.3" y2="491.5" stroke="#666" stroke-width="1.2"/>
<text x="525.3" y="508.8" font-size="16.4" text-anchor="middle">0</text>
<line x1="636.2" y1="486.3" x2="636.2" y2="491.5" stroke="#666" stroke-width="1.2"/>
<text x="636.2" y="508.8" font-size="16.4" text-anchor="middle">1</text>
<text x="603.5" y="535.9" font-size="18.4" text-anchor="middle" transform="translate(603.5 535.9) scale(1.05 1) translate(-603.5 -535.9)">Pseudotime</text>
<path d="M525.1,453.5C528.9,452.7 540.4,450.1 547.9,448.8C555.4,447.5 562.6,447 569.9,445.8C577.2,444.6 584.3,442.9 591.8,441.4C599.3,439.9 610.8,437.8 615,437C619.2,436.2 616.5,436.8 616.8,436.7" fill="none" stroke="#109140" stroke-width="1.75" stroke-linecap="round"/>
<path d="M525.1,456.2C527.1,456.3 533.2,457.2 537,456.8C540.8,456.4 544.2,455.2 547.9,454C551.5,452.8 555.2,451.4 558.9,449.6C562.6,447.8 566.2,445.3 569.9,443C573.6,440.7 577.2,437.9 580.9,435.9C584.5,433.9 588.1,432.3 591.8,431C595.4,429.7 598.9,429 602.8,428.2C606.7,427.4 610.5,427.3 615,426.2C619.5,425.1 625.4,423.2 630,421.3C634.6,419.4 638.3,417.3 642.5,415C646.7,412.7 651.2,410.1 655,407.5C658.8,404.9 663.8,400.8 665.5,399.5" fill="none" stroke="#e02623" stroke-width="1.75" stroke-linecap="round"/>
<path d="M600,450.3C600.8,450.2 602.5,450.1 605,449.9C607.5,449.6 611.5,449.4 615,448.8C618.5,448.2 623.2,447.1 626.3,446.3C629.4,445.6 632.5,444.6 633.8,444.3" fill="none" stroke="#f09cc4" stroke-width="1.75" stroke-linecap="round"/>
<path d="M525.1,459C528.9,458 541.4,454.5 547.9,452.9C554.4,451.3 560,450 564.4,449.6C568.8,449.2 571.2,450 574.3,450.7C577.4,451.4 579.8,452.5 583.1,454C586.4,455.5 590.4,457.9 594,459.5C597.6,461.1 601.5,462.5 605,463.9C608.5,465.3 611.7,466.3 615,467.7C618.3,469.1 621.7,470.6 625,472C628.3,473.4 630.8,474.9 635,476.3C639.2,477.7 645,479.5 650,480.5C655,481.5 659.8,482.1 665,482.5C670.2,482.9 678.6,482.9 681.3,483" fill="none" stroke="#fcc22f" stroke-width="1.75" stroke-linecap="round"/>
<path d="M525.1,458.4C527.1,457.9 533.2,456.6 537,455.7C540.8,454.8 543.9,453.8 547.9,452.9C551.9,452 557.1,451.1 561.1,450.5C565.1,449.9 568.4,449.8 572.1,449.6C575.8,449.5 579.5,449.5 583.1,449.6C586.8,449.7 590.4,450 594,450.2C597.6,450.4 601.5,450.5 605,450.7C608.5,450.9 610.8,451.2 615,451.6C619.2,452 625.4,452.8 630,453.3C634.6,453.8 638.8,454.4 642.5,454.5C646.2,454.6 649.2,454.5 652.5,453.8C655.8,453.1 659.2,451.9 662.5,450.5C665.8,449.1 670.8,446.3 672.5,445.5" fill="none" stroke="#581765" stroke-width="1.75" stroke-linecap="round"/>
<text x="802.6" y="378.3" font-size="17.8" text-anchor="middle">STAT3-1819</text>
<line x1="717.3" y1="395.8" x2="717.3" y2="486.9" stroke="#6e6e6e" stroke-width="1.2"/>
<line x1="716.7" y1="486.3" x2="888" y2="486.3" stroke="#3c3c3c" stroke-width="1.3"/>
<line x1="712.3" y1="397.9" x2="717.3" y2="397.9" stroke="#666" stroke-width="1.2"/>
<text x="708.4" y="403.6" font-size="16.4" text-anchor="end" transform="translate(708.4 403.6) scale(0.95 1) translate(-708.4 -403.6)">2</text>
<line x1="712.3" y1="422.3" x2="717.3" y2="422.3" stroke="#666" stroke-width="1.2"/>
<text x="708.4" y="428" font-size="16.4" text-anchor="end" transform="translate(708.4 428) scale(0.95 1) translate(-708.4 -428)">1</text>
<line x1="712.3" y1="446.3" x2="717.3" y2="446.3" stroke="#666" stroke-width="1.2"/>
<text x="708.4" y="452" font-size="16.4" text-anchor="end" transform="translate(708.4 452) scale(0.95 1) translate(-708.4 -452)">0</text>
<line x1="712.3" y1="470.2" x2="717.3" y2="470.2" stroke="#666" stroke-width="1.2"/>
<text x="708.4" y="475.9" font-size="16.4" text-anchor="end" transform="translate(708.4 475.9) scale(0.95 1) translate(-708.4 -475.9)">−1</text>
<line x1="724.4" y1="486.3" x2="724.4" y2="491.5" stroke="#666" stroke-width="1.2"/>
<text x="724.4" y="508.8" font-size="16.4" text-anchor="middle">0</text>
<line x1="835.2" y1="486.3" x2="835.2" y2="491.5" stroke="#666" stroke-width="1.2"/>
<text x="835.2" y="508.8" font-size="16.4" text-anchor="middle">1</text>
<text x="802.6" y="535.9" font-size="18.4" text-anchor="middle" transform="translate(802.6 535.9) scale(1.05 1) translate(-802.6 -535.9)">Pseudotime</text>
<path d="M724.7,437.6C725.8,437.4 728.5,437.1 731.5,436.5C734.5,435.9 738.8,435 742.4,434.3C746,433.6 749.7,433.1 753.4,432.1C757.1,431.1 760.7,429.5 764.4,428.2C768.1,426.9 771,425.8 775.4,424.4C779.8,423 786.6,421.1 790.7,420C794.8,418.9 796,418.8 800,418C804,417.2 810,416.3 815,415.5C820,414.7 825,414.1 830,413C835,411.9 840.8,410.2 845,408.8C849.2,407.4 851.8,406.1 855,404.5C858.2,402.9 862.8,400.3 864.3,399.5" fill="none" stroke="#e02623" stroke-width="1.75" stroke-linecap="round"/>
<path d="M724.7,438.1C725.8,438.7 728.5,440.6 731.5,441.4C734.5,442.2 738.8,443.1 742.4,443.1C746,443.1 749.7,442.2 753.4,441.4C757.1,440.6 760.7,439.1 764.4,438.1C768.1,437.1 771.7,435.9 775.4,435.4C779.1,434.8 782.8,434.6 786.4,434.8C790,435 793.6,435.5 797.3,436.5C800.9,437.5 805.3,439.6 808.3,440.9C811.2,442.2 813.9,443.9 815,444.5" fill="none" stroke="#109140" stroke-width="1.75" stroke-linecap="round"/>
<path d="M748,433.2C749.8,433.5 755.2,434.1 758.9,434.8C762.5,435.5 766.2,436.5 769.9,437.6C773.6,438.7 777.2,440.3 780.9,441.4C784.5,442.5 788.1,443.6 791.8,444.1C795.4,444.7 798.9,444.6 802.8,444.7C806.7,444.8 811.3,444.7 815,445C818.7,445.3 822,445.4 825,446.3C828,447.2 831.7,449.8 833,450.5" fill="none" stroke="#f09cc4" stroke-width="1.75" stroke-linecap="round"/>
<path d="M724.7,438.1C725.8,437.7 728.5,436.7 731.5,435.9C734.5,435.1 738.8,433.7 742.4,433.2C746,432.7 749.7,432.7 753.4,433C757.1,433.3 760.7,433.9 764.4,434.8C768.1,435.8 771.7,437.3 775.4,438.7C779.1,440.1 782.8,441.1 786.4,443.1C790,445.1 793.6,447.8 797.3,450.7C800.9,453.6 805.3,458 808.3,460.6C811.2,463.2 811.8,464.1 815,466.5C818.2,468.9 823.3,472.5 827.5,475C831.7,477.5 835.8,480.1 840,481.3C844.2,482.6 847.9,482.5 852.5,482.5C857.1,482.5 862.8,481.4 867.5,481.3C872.2,481.2 878.3,481.7 880.5,481.8" fill="none" stroke="#fcc22f" stroke-width="1.75" stroke-linecap="round"/>
<path d="M724.7,438.1C725.8,437.6 729.1,435.6 731.5,434.8C733.9,434 736.6,433.5 739.1,433.4C741.6,433.3 744.2,433.4 746.8,434.3C749.4,435.2 751.9,437.1 754.5,438.7C757.1,440.3 759.6,442.3 762.2,444.1C764.8,445.9 767.1,447.9 769.9,449.6C772.6,451.4 775.4,453.1 778.7,454.6C782,456.1 785.6,457.3 789.6,458.4C793.6,459.5 798.6,460.1 802.8,461.2C807,462.3 811.7,463.7 815,465C818.3,466.3 819.2,466.9 822.5,468.8C825.8,470.7 831.2,474.4 835,476.3C838.8,478.2 841.7,479.9 845,480.5C848.3,481.1 851.7,480.8 855,480C858.3,479.2 862.3,477.1 865,475.8C867.7,474.5 870.2,472.6 871.3,472" fill="none" stroke="#581765" stroke-width="1.75" stroke-linecap="round"/>
<text x="267.4" y="442.5" font-size="18.4" text-anchor="middle" transform="rotate(-90 267.4 442.5) translate(267.4 442.5) scale(1.06 1) translate(-267.4 -442.5)">Motif accessibility</text>
</svg>
</body></html>
